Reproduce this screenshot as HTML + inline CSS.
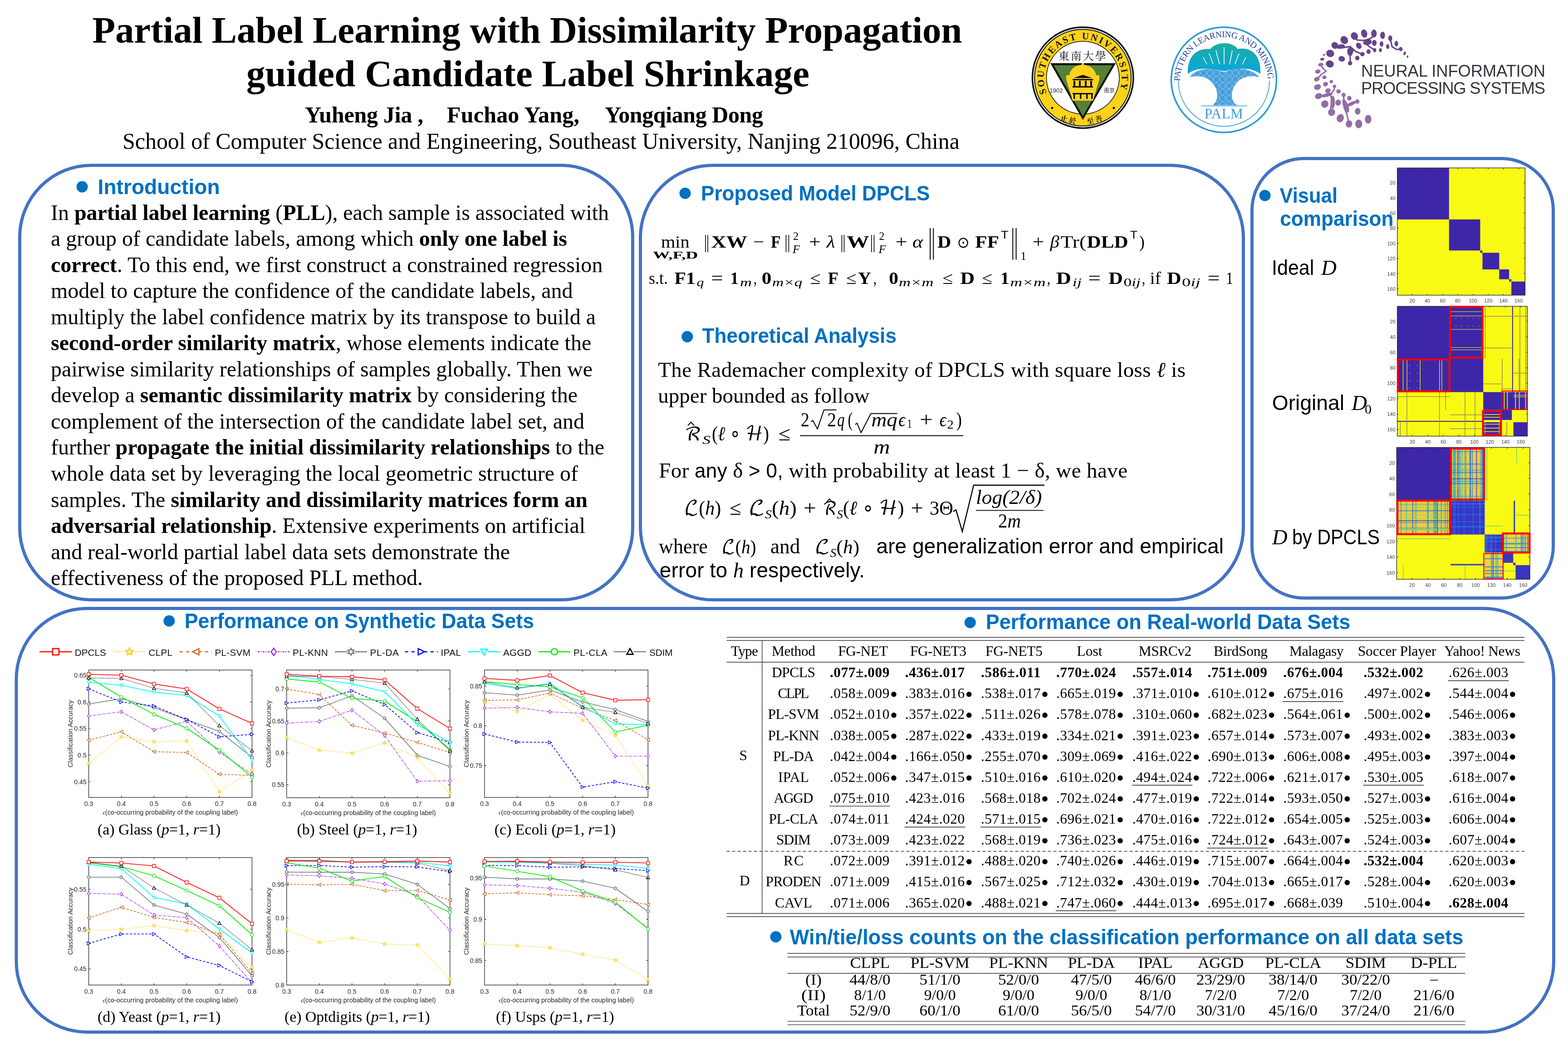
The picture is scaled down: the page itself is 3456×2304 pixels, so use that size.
<!DOCTYPE html>
<html><head><meta charset="utf-8"><title>Partial Label Learning with Dissimilarity Propagation guided Candidate Label Shrinkage</title>
<style>html,body{margin:0;padding:0;background:#fff;}body{width:3456px;height:2304px;overflow:hidden;}svg{display:block;}</style>
</head><body>
<svg width="3456" height="2304" viewBox="0 0 3456 2304">
<rect width="3456" height="2304" fill="#fff"/>
<text x="203.5" y="94.3" font-family="'Liberation Serif','Times New Roman',serif" font-size="83" font-weight="bold" textLength="1917.0" lengthAdjust="spacing">Partial Label Learning with Dissimilarity Propagation</text>
<text x="543.0" y="190.0" font-family="'Liberation Serif','Times New Roman',serif" font-size="83" font-weight="bold" textLength="1241.0" lengthAdjust="spacing">guided Candidate Label Shrinkage</text>
<text x="672.0" y="270.0" font-family="'Liberation Serif','Times New Roman',serif" font-size="50" font-weight="bold" textLength="261.0" lengthAdjust="spacing">Yuheng Jia ,</text>
<text x="985.0" y="270.0" font-family="'Liberation Serif','Times New Roman',serif" font-size="50" font-weight="bold" textLength="292.0" lengthAdjust="spacing">Fuchao Yang,</text>
<text x="1333.0" y="270.0" font-family="'Liberation Serif','Times New Roman',serif" font-size="50" font-weight="bold" textLength="349.0" lengthAdjust="spacing">Yongqiang Dong</text>
<text x="270.0" y="328.2" font-family="'Liberation Serif','Times New Roman',serif" font-size="50" textLength="1845.0" lengthAdjust="spacing">School of Computer Science and Engineering, Southeast University, Nanjing 210096, China</text>
<g>
<circle cx="2386.7" cy="171.2" r="113" fill="#111"/>
<circle cx="2386.7" cy="171.2" r="109.5" fill="#fff"/>
<circle cx="2386.7" cy="171.2" r="107.5" fill="#111"/>
<circle cx="2386.7" cy="171.2" r="105.5" fill="#FDD21B"/>
<circle cx="2386.7" cy="171.2" r="81" fill="#111"/>
<circle cx="2386.7" cy="171.2" r="79.5" fill="#fff"/>
<path id="seuarc" d="M 2307.2 205.2 A 86 86 0 1 1 2466.2 205.2" fill="none"/>
<text font-family="'Liberation Serif','Times New Roman',serif" font-weight="bold" font-size="21" fill="#111"><textPath href="#seuarc" startOffset="0" textLength="328" lengthAdjust="spacing">SOUTHEAST UNIVERSITY</textPath></text>
<path d="M 2315 139.3 L 2459.3 139.3 L 2386.7 264.4 Z" fill="#111"/>
<path d="M 2322.5 143.8 L 2451.8 143.8 L 2386.7 256 Z" fill="#548235"/>
<path d="M 2350 175 L 2350 166 L 2357 166 C 2360 150 2372 144 2384 143 L 2384 139 L 2389 139 L 2389 143 C 2401 144 2413 150 2416 166 L 2423 166 L 2423 175 L 2409 222 L 2364 222 Z" fill="#FDD21B"/>
<path d="M 2366 172 L 2386.7 165 L 2407 172 Z" fill="#111"/>
<rect x="2364" y="174" width="45" height="3" fill="#111"/>
<rect x="2364" y="190" width="45" height="3" fill="#111"/>
<rect x="2364" y="205" width="45" height="3" fill="#111"/>
<rect x="2366" y="178" width="4" height="12" fill="#111"/>
<rect x="2378" y="178" width="4" height="12" fill="#111"/>
<rect x="2391" y="178" width="4" height="12" fill="#111"/>
<rect x="2403" y="178" width="4" height="12" fill="#111"/>
<rect x="2366" y="208" width="3.5" height="10" fill="#111"/>
<rect x="2380" y="208" width="3.5" height="10" fill="#111"/>
<rect x="2394" y="208" width="3.5" height="10" fill="#111"/>
<rect x="2405" y="208" width="3.5" height="10" fill="#111"/>
<text x="2386.7" y="132" font-family="'Noto Serif CJK SC','Noto Sans CJK SC',serif" font-size="24" fill="#111" text-anchor="middle" letter-spacing="3">東南大學</text>
<text x="2328" y="204" font-family="'Liberation Sans',Arial,sans-serif" font-size="13" fill="#222" text-anchor="middle">1902</text>
<text x="2445" y="204" font-family="'Noto Sans CJK SC',sans-serif" font-size="12" fill="#222" text-anchor="middle">南京</text>
<circle cx="2319" cy="238" r="2.5" fill="#111"/><circle cx="2455" cy="238" r="2.5" fill="#111"/>
<text x="2356" y="270" font-family="'Noto Serif CJK SC',serif" font-size="16" font-weight="bold" fill="#111" text-anchor="middle" letter-spacing="3" transform="rotate(14 2356 265)">止於</text>
<text x="2414" y="270" font-family="'Noto Serif CJK SC',serif" font-size="16" font-weight="bold" fill="#111" text-anchor="middle" letter-spacing="3" transform="rotate(-14 2414 265)">至善</text>
</g>
<defs><linearGradient id="palmg" x1="0" y1="0" x2="0" y2="1"><stop offset="0" stop-color="#1BAEA3"/><stop offset="1" stop-color="#0AA5DD"/></linearGradient><pattern id="bub" width="14" height="14" patternUnits="userSpaceOnUse"><rect width="14" height="14" fill="#459FDB"/><circle cx="7" cy="7" r="6.3" fill="none" stroke="#A9CFEE" stroke-width="0.9"/></pattern></defs>
<circle cx="2697.5" cy="176" r="116" fill="none" stroke="#2E9AD9" stroke-width="3.6"/>
<path d="M 2597.0 178 A 100.5 100.5 0 0 0 2798.0 178" fill="none" stroke="#2E9AD9" stroke-width="1.6"/>
<path id="palmarc" d="M 2600.5 179 A 97 97 0 0 1 2794.5 179" fill="none"/>
<text font-family="'Liberation Serif','Times New Roman',serif" font-size="19.5" fill="#1F4393"><textPath href="#palmarc" startOffset="0" textLength="300" lengthAdjust="spacing">PATTERN LEARNING AND MINING</textPath></text>
<path d="M 2618 163 C 2616 120 2642 105 2668 108 C 2680 92 2715 90 2728 108 C 2755 103 2780 118 2778 163 C 2760 150 2740 148 2698 157 C 2655 148 2635 150 2618 163 Z" fill="url(#palmg)"/>
<line x1="2652" y1="126" x2="2660" y2="142" stroke="#fff" stroke-width="1.6"/>
<line x1="2665" y1="118" x2="2674" y2="141" stroke="#fff" stroke-width="1.6"/>
<line x1="2680" y1="111" x2="2688" y2="142" stroke="#fff" stroke-width="1.6"/>
<line x1="2698" y1="104" x2="2698" y2="142" stroke="#fff" stroke-width="1.6"/>
<line x1="2716" y1="111" x2="2710" y2="142" stroke="#fff" stroke-width="1.6"/>
<line x1="2731" y1="118" x2="2722" y2="141" stroke="#fff" stroke-width="1.6"/>
<line x1="2746" y1="126" x2="2738" y2="142" stroke="#fff" stroke-width="1.6"/>
<path d="M 2621 170 C 2640 150 2665 147 2698 159 C 2731 147 2756 150 2776 170 C 2750 165 2730 170 2718 195 C 2712 212 2716 226 2727 232 L 2672 232 C 2682 226 2686 212 2680 195 C 2668 170 2648 165 2621 170 Z" fill="url(#bub)"/>
<line x1="2647" y1="233.5" x2="2749" y2="233.5" stroke="#3A98D8" stroke-width="1.6"/>
<text x="2697.5" y="261" font-family="'Liberation Serif','Times New Roman',serif" font-size="31" fill="#3B98D9" text-anchor="middle" letter-spacing="0.5">PALM</text>
<ellipse cx="3006.8" cy="73.9" rx="6.7" ry="9.2" transform="rotate(-15 3006.8 73.9)" fill="#66448A"/>
<ellipse cx="3028.3" cy="73.9" rx="6.1" ry="8.8" transform="rotate(0 3028.3 73.9)" fill="#66448A"/>
<ellipse cx="3047.4" cy="77.9" rx="5.3" ry="8.0" transform="rotate(0 3047.4 77.9)" fill="#66448A"/>
<ellipse cx="3064.2" cy="84.3" rx="4.5" ry="6.4" transform="rotate(0 3064.2 84.3)" fill="#66448A"/>
<ellipse cx="3077.7" cy="96.2" rx="4.0" ry="6.1" transform="rotate(0 3077.7 96.2)" fill="#66448A"/>
<ellipse cx="3058.6" cy="102.6" rx="3.5" ry="5.3" transform="rotate(0 3058.6 102.6)" fill="#66448A"/>
<ellipse cx="3045.0" cy="97.0" rx="4.1" ry="5.9" transform="rotate(0 3045.0 97.0)" fill="#66448A"/>
<ellipse cx="3029.1" cy="94.6" rx="5.1" ry="6.7" transform="rotate(0 3029.1 94.6)" fill="#66448A"/>
<ellipse cx="2994.8" cy="101.0" rx="5.7" ry="7.2" transform="rotate(-30 2994.8 101.0)" fill="#66448A"/>
<ellipse cx="2962.9" cy="88.3" rx="8.0" ry="9.2" transform="rotate(-35 2962.9 88.3)" fill="#66448A"/>
<ellipse cx="2985.2" cy="79.5" rx="7.7" ry="8.8" transform="rotate(-30 2985.2 79.5)" fill="#66448A"/>
<ellipse cx="2942.2" cy="100.2" rx="7.2" ry="8.0" transform="rotate(-50 2942.2 100.2)" fill="#66448A"/>
<ellipse cx="2931.8" cy="117.8" rx="8.8" ry="8.0" transform="rotate(20 2931.8 117.8)" fill="#66448A"/>
<ellipse cx="2957.3" cy="129.7" rx="7.2" ry="6.1" transform="rotate(10 2957.3 129.7)" fill="#66448A"/>
<ellipse cx="2931.0" cy="140.9" rx="8.8" ry="7.7" transform="rotate(20 2931.0 140.9)" fill="#66448A"/>
<ellipse cx="2991.6" cy="128.1" rx="4.8" ry="5.1" transform="rotate(0 2991.6 128.1)" fill="#66448A"/>
<ellipse cx="3016.3" cy="113.8" rx="4.5" ry="5.1" transform="rotate(0 3016.3 113.8)" fill="#66448A"/>
<ellipse cx="3029.9" cy="110.6" rx="3.5" ry="4.5" transform="rotate(0 3029.9 110.6)" fill="#66448A"/>
<ellipse cx="3042.6" cy="110.6" rx="3.2" ry="4.3" transform="rotate(0 3042.6 110.6)" fill="#66448A"/>
<ellipse cx="3087.3" cy="108.2" rx="4.0" ry="4.8" transform="rotate(0 3087.3 108.2)" fill="#66448A"/>
<ellipse cx="3096.0" cy="117.8" rx="2.4" ry="4.3" transform="rotate(20 3096.0 117.8)" fill="#66448A"/>
<ellipse cx="3102.4" cy="124.9" rx="1.6" ry="2.9" transform="rotate(20 3102.4 124.9)" fill="#66448A"/>
<ellipse cx="3002.8" cy="119.4" rx="4.8" ry="4.8" transform="rotate(0 3002.8 119.4)" fill="#66448A"/>
<ellipse cx="2975.7" cy="139.3" rx="4.8" ry="4.8" transform="rotate(0 2975.7 139.3)" fill="#66448A"/>
<ellipse cx="2918.3" cy="121.0" rx="2.9" ry="1.6" transform="rotate(-10 2918.3 121.0)" fill="#66448A"/>
<ellipse cx="2914.3" cy="130.5" rx="4.5" ry="2.9" transform="rotate(-10 2914.3 130.5)" fill="#66448A"/>
<ellipse cx="3013.9" cy="93.0" rx="9.6" ry="6.4" transform="rotate(-10 3013.9 93.0)" fill="#66448A"/>
<ellipse cx="2975.7" cy="113.8" rx="6.4" ry="9.6" transform="rotate(0 2975.7 113.8)" fill="#66448A"/>
<ellipse cx="2954.9" cy="102.6" rx="9.6" ry="4.8" transform="rotate(-10 2954.9 102.6)" fill="#66448A"/>
<ellipse cx="2911.1" cy="142.5" rx="5.6" ry="4.0" transform="rotate(-10 2911.1 142.5)" fill="#936DA8"/>
<ellipse cx="2904.7" cy="157.6" rx="6.1" ry="4.5" transform="rotate(-15 2904.7 157.6)" fill="#936DA8"/>
<ellipse cx="2919.1" cy="170.4" rx="4.8" ry="4.0" transform="rotate(-15 2919.1 170.4)" fill="#936DA8"/>
<ellipse cx="2902.3" cy="174.4" rx="6.4" ry="4.8" transform="rotate(-20 2902.3 174.4)" fill="#936DA8"/>
<ellipse cx="2934.2" cy="179.9" rx="4.0" ry="3.5" transform="rotate(-20 2934.2 179.9)" fill="#936DA8"/>
<ellipse cx="2921.5" cy="185.5" rx="5.6" ry="4.8" transform="rotate(-20 2921.5 185.5)" fill="#936DA8"/>
<ellipse cx="2903.9" cy="191.9" rx="7.7" ry="6.1" transform="rotate(-20 2903.9 191.9)" fill="#936DA8"/>
<ellipse cx="2941.4" cy="190.3" rx="4.0" ry="3.5" transform="rotate(0 2941.4 190.3)" fill="#936DA8"/>
<ellipse cx="2927.0" cy="199.9" rx="6.1" ry="5.1" transform="rotate(-25 2927.0 199.9)" fill="#936DA8"/>
<ellipse cx="2950.2" cy="201.5" rx="4.8" ry="4.8" transform="rotate(0 2950.2 201.5)" fill="#936DA8"/>
<ellipse cx="2906.3" cy="211.8" rx="8.0" ry="6.4" transform="rotate(-20 2906.3 211.8)" fill="#936DA8"/>
<ellipse cx="2919.9" cy="229.4" rx="8.0" ry="8.3" transform="rotate(30 2919.9 229.4)" fill="#936DA8"/>
<ellipse cx="2949.4" cy="226.2" rx="6.1" ry="6.7" transform="rotate(20 2949.4 226.2)" fill="#936DA8"/>
<ellipse cx="2974.1" cy="216.6" rx="4.8" ry="5.3" transform="rotate(0 2974.1 216.6)" fill="#936DA8"/>
<ellipse cx="2961.3" cy="209.4" rx="4.5" ry="4.8" transform="rotate(0 2961.3 209.4)" fill="#936DA8"/>
<ellipse cx="2935.0" cy="247.7" rx="7.7" ry="8.0" transform="rotate(30 2935.0 247.7)" fill="#936DA8"/>
<ellipse cx="2991.6" cy="223.8" rx="4.5" ry="4.8" transform="rotate(0 2991.6 223.8)" fill="#936DA8"/>
<ellipse cx="2992.4" cy="245.3" rx="6.1" ry="7.5" transform="rotate(0 2992.4 245.3)" fill="#936DA8"/>
<ellipse cx="2954.1" cy="260.5" rx="7.7" ry="9.2" transform="rotate(20 2954.1 260.5)" fill="#936DA8"/>
<ellipse cx="2973.3" cy="273.2" rx="7.2" ry="8.0" transform="rotate(10 2973.3 273.2)" fill="#936DA8"/>
<ellipse cx="2994.8" cy="273.2" rx="7.7" ry="9.6" transform="rotate(0 2994.8 273.2)" fill="#936DA8"/>
<ellipse cx="3015.5" cy="262.9" rx="7.2" ry="9.6" transform="rotate(0 3015.5 262.9)" fill="#936DA8"/>
<ellipse cx="2937.4" cy="225.4" rx="4.8" ry="14.3" transform="rotate(0 2937.4 225.4)" fill="#936DA8"/>
<ellipse cx="2966.1" cy="233.4" rx="5.6" ry="15.9" transform="rotate(-20 2966.1 233.4)" fill="#936DA8"/>
<ellipse cx="2924.6" cy="209.4" rx="12.8" ry="4.0" transform="rotate(-15 2924.6 209.4)" fill="#936DA8"/>
<ellipse cx="2978.9" cy="228.6" rx="11.2" ry="4.0" transform="rotate(-25 2978.9 228.6)" fill="#936DA8"/>
<path d="M2985.2 81.9 L2991.6 88.3 L3007.6 89.1 L3020.3 85.1 L3029.9 77.1" fill="none" stroke="#66448A" stroke-width="3.2" stroke-linecap="round" stroke-linejoin="round"/>
<path d="M3007.6 89.1 L3015.5 101.0 L3029.9 110.6" fill="none" stroke="#66448A" stroke-width="3.2" stroke-linecap="round" stroke-linejoin="round"/>
<path d="M2942.2 100.2 L2954.9 105.8 L2975.7 102.6 L2982.0 112.2 L2975.7 124.9 L2976.5 139.3" fill="none" stroke="#66448A" stroke-width="3.2" stroke-linecap="round" stroke-linejoin="round"/>
<path d="M2975.7 102.6 L2988.4 113.8 L3002.8 119.4" fill="none" stroke="#66448A" stroke-width="3.2" stroke-linecap="round" stroke-linejoin="round"/>
<path d="M3064.2 84.3 L3068.1 102.6 L3077.7 109.0 L3087.3 108.2" fill="none" stroke="#66448A" stroke-width="3.2" stroke-linecap="round" stroke-linejoin="round"/>
<path d="M2911.1 142.5 L2916.7 152.0 L2923.0 156.8 L2911.9 164.8 L2902.3 174.4" fill="none" stroke="#936DA8" stroke-width="3.2" stroke-linecap="round" stroke-linejoin="round"/>
<path d="M2906.3 211.8 L2919.9 209.4 L2932.6 207.8 L2940.6 198.3 L2941.4 190.3" fill="none" stroke="#936DA8" stroke-width="3.2" stroke-linecap="round" stroke-linejoin="round"/>
<path d="M2932.6 207.8 L2935.8 225.4 L2932.6 238.1 L2935.0 247.7" fill="none" stroke="#936DA8" stroke-width="3.2" stroke-linecap="round" stroke-linejoin="round"/>
<path d="M2961.3 209.4 L2962.9 238.1 L2969.3 254.1 L2973.3 273.2" fill="none" stroke="#936DA8" stroke-width="3.2" stroke-linecap="round" stroke-linejoin="round"/>
<path d="M2991.6 223.8 L2978.9 228.6 L2966.1 233.4" fill="none" stroke="#936DA8" stroke-width="3.2" stroke-linecap="round" stroke-linejoin="round"/>
<text x="3000.0" y="168.8" font-family="'Liberation Sans',Arial,sans-serif" font-size="36.5" fill="#33363B" textLength="406.0" lengthAdjust="spacing">NEURAL INFORMATION</text>
<text x="3000.0" y="206.5" font-family="'Liberation Sans',Arial,sans-serif" font-size="36.5" fill="#33363B" textLength="406.0" lengthAdjust="spacing">PROCESSING SYSTEMS</text>
<rect x="43.5" y="364.5" width="1351" height="958" rx="158" ry="158" fill="none" stroke="#4472C4" stroke-width="7"/>
<rect x="1411.5" y="364.5" width="1329" height="958" rx="160" ry="160" fill="none" stroke="#4472C4" stroke-width="7"/>
<rect x="2759.5" y="349.5" width="664" height="969" rx="114" ry="114" fill="none" stroke="#4472C4" stroke-width="7"/>
<rect x="36.0" y="1341.5" width="3388.5" height="934" rx="155" ry="155" fill="none" stroke="#4472C4" stroke-width="7"/>
<circle cx="181" cy="411.8" r="12.5" fill="#0070C0"/>
<text x="215.6" y="428.0" font-family="'Liberation Sans',Arial,sans-serif" font-size="46" font-weight="bold" fill="#0070C0" textLength="269.0" lengthAdjust="spacingAndGlyphs">Introduction</text>
<text x="112.0" y="484.5" font-family="'Liberation Serif','Times New Roman',serif" font-size="48" textLength="1230.0" lengthAdjust="spacing">In <tspan font-weight="bold">partial label learning</tspan> (<tspan font-weight="bold">PLL</tspan>), each sample is associated with</text>
<text x="112.0" y="542.0" font-family="'Liberation Serif','Times New Roman',serif" font-size="48" textLength="1138.0" lengthAdjust="spacing">a group of candidate labels, among which <tspan font-weight="bold">only one label is</tspan></text>
<text x="112.0" y="599.6" font-family="'Liberation Serif','Times New Roman',serif" font-size="48" textLength="1216.4" lengthAdjust="spacing"><tspan font-weight="bold">correct</tspan>. To this end, we first construct a constrained regression</text>
<text x="112.0" y="657.1" font-family="'Liberation Serif','Times New Roman',serif" font-size="48" textLength="1150.5" lengthAdjust="spacing">model to capture the confidence of the candidate labels, and</text>
<text x="112.0" y="714.7" font-family="'Liberation Serif','Times New Roman',serif" font-size="48" textLength="1201.0" lengthAdjust="spacing">multiply the label confidence matrix by its transpose to build a</text>
<text x="112.0" y="772.2" font-family="'Liberation Serif','Times New Roman',serif" font-size="48" textLength="1191.2" lengthAdjust="spacing"><tspan font-weight="bold">second-order similarity matrix</tspan>, whose elements indicate the</text>
<text x="112.0" y="829.8" font-family="'Liberation Serif','Times New Roman',serif" font-size="48" textLength="1194.0" lengthAdjust="spacing">pairwise similarity relationships of samples globally. Then we</text>
<text x="112.0" y="887.3" font-family="'Liberation Serif','Times New Roman',serif" font-size="48" textLength="1161.0" lengthAdjust="spacing">develop a <tspan font-weight="bold">semantic dissimilarity matrix</tspan> by considering the</text>
<text x="112.0" y="944.9" font-family="'Liberation Serif','Times New Roman',serif" font-size="48" textLength="1176.0" lengthAdjust="spacing">complement of the intersection of the candidate label set, and</text>
<text x="112.0" y="1002.4" font-family="'Liberation Serif','Times New Roman',serif" font-size="48" textLength="1220.0" lengthAdjust="spacing">further <tspan font-weight="bold">propagate the initial dissimilarity relationships</tspan> to the</text>
<text x="112.0" y="1060.0" font-family="'Liberation Serif','Times New Roman',serif" font-size="48" textLength="1162.0" lengthAdjust="spacing">whole data set by leveraging the local geometric structure of</text>
<text x="112.0" y="1117.5" font-family="'Liberation Serif','Times New Roman',serif" font-size="48" textLength="1183.0" lengthAdjust="spacing">samples. The <tspan font-weight="bold">similarity and dissimilarity matrices form an</tspan></text>
<text x="112.0" y="1175.1" font-family="'Liberation Serif','Times New Roman',serif" font-size="48" textLength="1178.0" lengthAdjust="spacing"><tspan font-weight="bold">adversarial relationship</tspan>. Extensive experiments on artificial</text>
<text x="112.0" y="1232.7" font-family="'Liberation Serif','Times New Roman',serif" font-size="48" textLength="1012.0" lengthAdjust="spacing">and real-world partial label data sets demonstrate the</text>
<text x="112.0" y="1290.2" font-family="'Liberation Serif','Times New Roman',serif" font-size="48" textLength="820.0" lengthAdjust="spacing">effectiveness of the proposed PLL method.</text>
<circle cx="1510" cy="426.2" r="12.5" fill="#0070C0"/>
<text x="1545.0" y="442.3" font-family="'Liberation Sans',Arial,sans-serif" font-size="46" font-weight="bold" fill="#0070C0" textLength="504.4" lengthAdjust="spacingAndGlyphs">Proposed Model DPCLS</text>
<text x="1457.0" y="545.5" font-family="'Liberation Serif','Times New Roman',serif" font-size="38" textLength="62.7" lengthAdjust="spacingAndGlyphs">min</text>
<text x="1438.8" y="569.5" font-family="'Liberation Serif','Times New Roman',serif" font-size="23" font-weight="bold" textLength="99.7" lengthAdjust="spacingAndGlyphs">W,F,D</text>
<path d="M1555 518 V556 M1560 518 V556" stroke="#000" stroke-width="1.6"/>
<text x="1567.4" y="545.5" font-family="'Liberation Serif','Times New Roman',serif" font-size="38" font-weight="bold" textLength="79.6" lengthAdjust="spacingAndGlyphs">XW</text>
<text x="1660.0" y="545.5" font-family="'Liberation Serif','Times New Roman',serif" font-size="38" textLength="24.5" lengthAdjust="spacingAndGlyphs">−</text>
<text x="1699.0" y="545.5" font-family="'Liberation Serif','Times New Roman',serif" font-size="38" font-weight="bold" textLength="21.7" lengthAdjust="spacingAndGlyphs">F</text>
<path d="M1732.5 518 V556 M1738.5 518 V556" stroke="#000" stroke-width="1.6"/>
<text x="1748.0" y="529.0" font-family="'Liberation Serif','Times New Roman',serif" font-size="25" textLength="12.0" lengthAdjust="spacingAndGlyphs">2</text>
<text x="1747.0" y="558.0" font-family="'Liberation Serif','Times New Roman',serif" font-size="25" font-style="italic" textLength="16.0" lengthAdjust="spacingAndGlyphs">F</text>
<text x="1783.0" y="545.5" font-family="'Liberation Serif','Times New Roman',serif" font-size="38" textLength="25.8" lengthAdjust="spacingAndGlyphs">+</text>
<text x="1821.8" y="545.5" font-family="'Liberation Serif','Times New Roman',serif" font-size="38" font-style="italic" textLength="18.8" lengthAdjust="spacingAndGlyphs">λ</text>
<path d="M1855.5 518 V556 M1860.5 518 V556" stroke="#000" stroke-width="1.6"/>
<text x="1866.0" y="545.5" font-family="'Liberation Serif','Times New Roman',serif" font-size="38" font-weight="bold" textLength="50.0" lengthAdjust="spacingAndGlyphs">W</text>
<path d="M1921 518 V556 M1926.5 518 V556" stroke="#000" stroke-width="1.6"/>
<text x="1937.5" y="529.0" font-family="'Liberation Serif','Times New Roman',serif" font-size="25" textLength="12.0" lengthAdjust="spacingAndGlyphs">2</text>
<text x="1936.5" y="558.0" font-family="'Liberation Serif','Times New Roman',serif" font-size="25" font-style="italic" textLength="16.0" lengthAdjust="spacingAndGlyphs">F</text>
<text x="1973.6" y="545.5" font-family="'Liberation Serif','Times New Roman',serif" font-size="38" textLength="26.0" lengthAdjust="spacingAndGlyphs">+</text>
<text x="2011.0" y="545.5" font-family="'Liberation Serif','Times New Roman',serif" font-size="38" font-style="italic" textLength="23.3" lengthAdjust="spacingAndGlyphs">α</text>
<path d="M2050.2 503 V572.4 M2057.3 503 V572.4 M2232.3 503 V572.4 M2239.6 503 V572.4" stroke="#000" stroke-width="2"/>
<text x="2066.0" y="545.5" font-family="'Liberation Serif','Times New Roman',serif" font-size="38" font-weight="bold" textLength="30.4" lengthAdjust="spacingAndGlyphs">D</text>
<text x="2109.4" y="545.5" font-family="'DejaVu Sans',sans-serif" font-size="34" textLength="27.4" lengthAdjust="spacingAndGlyphs">⊙</text>
<text x="2149.3" y="545.5" font-family="'Liberation Serif','Times New Roman',serif" font-size="38" font-weight="bold" textLength="52.7" lengthAdjust="spacingAndGlyphs">FF</text>
<text x="2206.0" y="526.0" font-family="'Liberation Sans',Arial,sans-serif" font-size="24" textLength="16.7" lengthAdjust="spacingAndGlyphs">T</text>
<text x="2249.6" y="573.3" font-family="'Liberation Serif','Times New Roman',serif" font-size="25" textLength="12.4" lengthAdjust="spacingAndGlyphs">1</text>
<text x="2275.6" y="545.5" font-family="'Liberation Serif','Times New Roman',serif" font-size="38" textLength="26.0" lengthAdjust="spacingAndGlyphs">+</text>
<text x="2314.6" y="545.5" font-family="'Liberation Serif','Times New Roman',serif" font-size="38" font-style="italic" textLength="20.4" lengthAdjust="spacingAndGlyphs">β</text>
<text x="2337.8" y="545.5" font-family="'Liberation Serif','Times New Roman',serif" font-size="38" textLength="56.2" lengthAdjust="spacingAndGlyphs">Tr(</text>
<text x="2395.6" y="545.5" font-family="'Liberation Serif','Times New Roman',serif" font-size="38" font-weight="bold" textLength="91.1" lengthAdjust="spacingAndGlyphs">DLD</text>
<text x="2491.0" y="526.0" font-family="'Liberation Sans',Arial,sans-serif" font-size="24" textLength="16.0" lengthAdjust="spacingAndGlyphs">T</text>
<text x="2511.0" y="545.5" font-family="'Liberation Serif','Times New Roman',serif" font-size="38" textLength="11.8" lengthAdjust="spacingAndGlyphs">)</text>
<text x="1430.0" y="625.9" font-family="'Liberation Serif','Times New Roman',serif" font-size="38" textLength="42.0" lengthAdjust="spacingAndGlyphs">s.t.</text>
<text x="1486.5" y="625.9" font-family="'Liberation Serif','Times New Roman',serif" font-size="38" font-weight="bold" textLength="46.2" lengthAdjust="spacingAndGlyphs">F1</text>
<text x="1535.6" y="630.9" font-family="'Liberation Serif','Times New Roman',serif" font-size="25" font-style="italic" textLength="15.9" lengthAdjust="spacingAndGlyphs">q</text>
<text x="1567.4" y="625.9" font-family="'Liberation Serif','Times New Roman',serif" font-size="38" textLength="26.1" lengthAdjust="spacingAndGlyphs">=</text>
<text x="1609.4" y="625.9" font-family="'Liberation Serif','Times New Roman',serif" font-size="38" font-weight="bold" textLength="18.6" lengthAdjust="spacingAndGlyphs">1</text>
<text x="1631.0" y="630.9" font-family="'Liberation Serif','Times New Roman',serif" font-size="25" font-style="italic" textLength="26.0" lengthAdjust="spacingAndGlyphs">m</text>
<text x="1661.0" y="625.9" font-family="'Liberation Serif','Times New Roman',serif" font-size="38" textLength="7.0" lengthAdjust="spacingAndGlyphs">,</text>
<text x="1678.7" y="625.9" font-family="'Liberation Serif','Times New Roman',serif" font-size="38" font-weight="bold" textLength="21.7" lengthAdjust="spacingAndGlyphs">0</text>
<text x="1701.9" y="630.9" font-family="'Liberation Serif','Times New Roman',serif" font-size="25" font-style="italic" textLength="66.5" lengthAdjust="spacingAndGlyphs">m×q</text>
<text x="1785.7" y="625.9" font-family="'Liberation Serif','Times New Roman',serif" font-size="38" textLength="23.1" lengthAdjust="spacingAndGlyphs">≤</text>
<text x="1824.7" y="625.9" font-family="'Liberation Serif','Times New Roman',serif" font-size="38" font-weight="bold" textLength="23.2" lengthAdjust="spacingAndGlyphs">F</text>
<text x="1865.2" y="625.9" font-family="'Liberation Serif','Times New Roman',serif" font-size="38" textLength="22.8" lengthAdjust="spacingAndGlyphs">≤</text>
<text x="1891.0" y="625.9" font-family="'Liberation Serif','Times New Roman',serif" font-size="38" font-weight="bold" textLength="29.0" lengthAdjust="spacingAndGlyphs">Y</text>
<text x="1925.0" y="625.9" font-family="'Liberation Serif','Times New Roman',serif" font-size="38" textLength="7.0" lengthAdjust="spacingAndGlyphs">,</text>
<text x="1959.2" y="625.9" font-family="'Liberation Serif','Times New Roman',serif" font-size="38" font-weight="bold" textLength="20.8" lengthAdjust="spacingAndGlyphs">0</text>
<text x="1980.9" y="630.9" font-family="'Liberation Serif','Times New Roman',serif" font-size="25" font-style="italic" textLength="76.6" lengthAdjust="spacingAndGlyphs">m×m</text>
<text x="2077.6" y="625.9" font-family="'Liberation Serif','Times New Roman',serif" font-size="38" textLength="23.1" lengthAdjust="spacingAndGlyphs">≤</text>
<text x="2116.6" y="625.9" font-family="'Liberation Serif','Times New Roman',serif" font-size="38" font-weight="bold" textLength="31.8" lengthAdjust="spacingAndGlyphs">D</text>
<text x="2164.3" y="625.9" font-family="'Liberation Serif','Times New Roman',serif" font-size="38" textLength="23.1" lengthAdjust="spacingAndGlyphs">≤</text>
<text x="2204.8" y="625.9" font-family="'Liberation Serif','Times New Roman',serif" font-size="38" font-weight="bold" textLength="20.2" lengthAdjust="spacingAndGlyphs">1</text>
<text x="2226.5" y="630.9" font-family="'Liberation Serif','Times New Roman',serif" font-size="25" font-style="italic" textLength="78.0" lengthAdjust="spacingAndGlyphs">m×m</text>
<text x="2308.0" y="625.9" font-family="'Liberation Serif','Times New Roman',serif" font-size="38" textLength="7.0" lengthAdjust="spacingAndGlyphs">,</text>
<text x="2327.7" y="625.9" font-family="'Liberation Serif','Times New Roman',serif" font-size="38" font-weight="bold" textLength="33.3" lengthAdjust="spacingAndGlyphs">D</text>
<text x="2363.8" y="630.9" font-family="'Liberation Serif','Times New Roman',serif" font-size="25" font-style="italic" textLength="20.2" lengthAdjust="spacingAndGlyphs">ij</text>
<text x="2398.5" y="625.9" font-family="'Liberation Serif','Times New Roman',serif" font-size="38" textLength="27.5" lengthAdjust="spacingAndGlyphs">=</text>
<text x="2443.3" y="625.9" font-family="'Liberation Serif','Times New Roman',serif" font-size="38" font-weight="bold" textLength="31.7" lengthAdjust="spacingAndGlyphs">D</text>
<text x="2476.5" y="630.9" font-family="'Liberation Serif','Times New Roman',serif" font-size="25" textLength="37.5" lengthAdjust="spacingAndGlyphs">0<tspan font-style="italic">ij</tspan></text>
<text x="2517.0" y="625.9" font-family="'Liberation Serif','Times New Roman',serif" font-size="38" textLength="7.0" lengthAdjust="spacingAndGlyphs">,</text>
<text x="2534.4" y="625.9" font-family="'Liberation Serif','Times New Roman',serif" font-size="38" textLength="24.6" lengthAdjust="spacingAndGlyphs">if</text>
<text x="2572.0" y="625.9" font-family="'Liberation Serif','Times New Roman',serif" font-size="38" font-weight="bold" textLength="31.7" lengthAdjust="spacingAndGlyphs">D</text>
<text x="2605.0" y="630.9" font-family="'Liberation Serif','Times New Roman',serif" font-size="25" textLength="40.7" lengthAdjust="spacingAndGlyphs">0<tspan font-style="italic">ij</tspan></text>
<text x="2661.6" y="625.9" font-family="'Liberation Serif','Times New Roman',serif" font-size="38" textLength="27.4" lengthAdjust="spacingAndGlyphs">=</text>
<text x="2702.0" y="625.9" font-family="'Liberation Serif','Times New Roman',serif" font-size="38" textLength="16.0" lengthAdjust="spacingAndGlyphs">1</text>
<circle cx="1514.8" cy="742.3" r="12.5" fill="#0070C0"/>
<text x="1547.6" y="756.3" font-family="'Liberation Sans',Arial,sans-serif" font-size="46" font-weight="bold" fill="#0070C0" textLength="428.4" lengthAdjust="spacingAndGlyphs">Theoretical Analysis</text>
<text x="1450.2" y="830.7" font-family="'Liberation Serif','Times New Roman',serif" font-size="47" textLength="1162.8" lengthAdjust="spacing">The Rademacher complexity of DPCLS with square loss <tspan font-style="italic">ℓ</tspan> is</text>
<text x="1450.2" y="888.2" font-family="'Liberation Serif','Times New Roman',serif" font-size="47" textLength="466.4" lengthAdjust="spacing">upper bounded as follow</text>
<text x="1508.0" y="971.0" font-family="'DejaVu Math TeX Gyre','DejaVu Serif',serif" font-size="40" textLength="38.0" lengthAdjust="spacingAndGlyphs">ℛ</text>
<path d="M1516 938 L1523 931 L1530 938" fill="none" stroke="#000" stroke-width="2"/>
<text x="1548.0" y="979.0" font-family="'Liberation Serif','Times New Roman',serif" font-size="28" font-style="italic" textLength="18.0" lengthAdjust="spacingAndGlyphs">S</text>
<text x="1569.0" y="971.0" font-family="'Liberation Serif','Times New Roman',serif" font-size="44" textLength="126.0" lengthAdjust="spacingAndGlyphs">(<tspan font-style="italic">ℓ</tspan> ∘ <tspan font-family="'DejaVu Math TeX Gyre',serif">ℋ</tspan>)</text>
<text x="1715.7" y="971.0" font-family="'Liberation Serif','Times New Roman',serif" font-size="44" textLength="26.8" lengthAdjust="spacingAndGlyphs">≤</text>
<line x1="1763.3" y1="960.5" x2="2123.4" y2="960.5" stroke="#000" stroke-width="1.8"/>
<text x="1764.9" y="940.2" font-family="'Liberation Serif','Times New Roman',serif" font-size="44" textLength="19.0" lengthAdjust="spacingAndGlyphs">2</text>
<path d="M1787.5 930 L1791.5 927 L1801.7 945.7 L1816.2 903.7 L1843.7 903.7" fill="none" stroke="#000" stroke-width="2"/>
<text x="1823.5" y="940.2" font-family="'Liberation Serif','Times New Roman',serif" font-size="44" textLength="19.4" lengthAdjust="spacingAndGlyphs">2</text>
<text x="1845.3" y="940.2" font-family="'Liberation Serif','Times New Roman',serif" font-size="44" font-style="italic" textLength="16.2" lengthAdjust="spacingAndGlyphs">q</text>
<text x="1868.7" y="940.2" font-family="'Liberation Serif','Times New Roman',serif" font-size="44" textLength="10.5" lengthAdjust="spacingAndGlyphs">(</text>
<path d="M1884.9 936 L1889 933 L1897.8 953.8 L1919.6 911.8 L1977.8 911.8" fill="none" stroke="#000" stroke-width="2"/>
<text x="1920.4" y="940.2" font-family="'Liberation Serif','Times New Roman',serif" font-size="44" font-style="italic" textLength="57.4" lengthAdjust="spacingAndGlyphs">mq</text>
<text x="1980.2" y="940.2" font-family="'Liberation Serif','Times New Roman',serif" font-size="44" font-style="italic" textLength="15.4" lengthAdjust="spacingAndGlyphs">ϵ</text>
<text x="1999.6" y="943.3" font-family="'Liberation Serif','Times New Roman',serif" font-size="28" textLength="10.4" lengthAdjust="spacingAndGlyphs">1</text>
<text x="2027.0" y="940.2" font-family="'Liberation Serif','Times New Roman',serif" font-size="44" textLength="29.0" lengthAdjust="spacingAndGlyphs">+</text>
<text x="2070.7" y="940.2" font-family="'Liberation Serif','Times New Roman',serif" font-size="44" font-style="italic" textLength="15.3" lengthAdjust="spacingAndGlyphs">ϵ</text>
<text x="2087.6" y="945.0" font-family="'Liberation Serif','Times New Roman',serif" font-size="28" textLength="14.4" lengthAdjust="spacingAndGlyphs">2</text>
<text x="2107.8" y="940.2" font-family="'Liberation Serif','Times New Roman',serif" font-size="44" textLength="12.2" lengthAdjust="spacingAndGlyphs">)</text>
<text x="1925.3" y="999.9" font-family="'Liberation Serif','Times New Roman',serif" font-size="44" font-style="italic" textLength="36.3" lengthAdjust="spacingAndGlyphs">m</text>
<text x="1452.3" y="1053.2" font-family="'Liberation Serif','Times New Roman',serif" font-size="47" textLength="1032.7" lengthAdjust="spacing">For <tspan font-family="'Liberation Sans',Arial,sans-serif" font-size="44">any</tspan> δ <tspan font-family="'Liberation Sans',Arial,sans-serif" font-size="44">&gt; 0,</tspan> with probability at least 1 − δ, we have</text>
<text x="1508.0" y="1135.0" font-family="'Liberation Serif','Times New Roman',serif" font-size="44" textLength="81.2" lengthAdjust="spacingAndGlyphs"><tspan font-family="'DejaVu Math TeX Gyre',serif">ℒ</tspan>(<tspan font-style="italic">h</tspan>)</text>
<text x="1608.0" y="1135.0" font-family="'Liberation Serif','Times New Roman',serif" font-size="44" textLength="25.9" lengthAdjust="spacingAndGlyphs">≤</text>
<text x="1650.0" y="1135.0" font-family="'Liberation Serif','Times New Roman',serif" font-size="44" textLength="106.0" lengthAdjust="spacingAndGlyphs"><tspan font-family="'DejaVu Math TeX Gyre',serif">ℒ</tspan><tspan font-size="28" font-style="italic" dy="8">S</tspan><tspan dy="-8">(</tspan><tspan font-style="italic">h</tspan>)</text>
<text x="1770.8" y="1135.0" font-family="'Liberation Serif','Times New Roman',serif" font-size="44" textLength="28.2" lengthAdjust="spacingAndGlyphs">+</text>
<text x="1812.4" y="1135.0" font-family="'Liberation Serif','Times New Roman',serif" font-size="44" textLength="180.1" lengthAdjust="spacingAndGlyphs"><tspan font-family="'DejaVu Math TeX Gyre',serif" font-size="40">ℛ</tspan><tspan font-size="28" font-style="italic" dy="8">S</tspan><tspan dy="-8">(</tspan><tspan font-style="italic">ℓ</tspan> ∘ <tspan font-family="'DejaVu Math TeX Gyre',serif">ℋ</tspan>)</text>
<path d="M1821 1108 L1828 1100 L1835 1108" fill="none" stroke="#000" stroke-width="2"/>
<text x="2007.4" y="1135.0" font-family="'Liberation Serif','Times New Roman',serif" font-size="44" textLength="27.6" lengthAdjust="spacingAndGlyphs">+</text>
<text x="2049.0" y="1135.0" font-family="'Liberation Serif','Times New Roman',serif" font-size="44" textLength="52.0" lengthAdjust="spacingAndGlyphs">3Θ</text>
<path d="M2101 1128 L2107 1124 L2121 1172 L2146 1069.7 L2302 1069.7" fill="none" stroke="#000" stroke-width="2.4"/>
<text x="2151.0" y="1110.7" font-family="'Liberation Serif','Times New Roman',serif" font-size="44" font-style="italic" textLength="145.5" lengthAdjust="spacingAndGlyphs">log(2/δ)</text>
<line x1="2151" y1="1125.3" x2="2300" y2="1125.3" stroke="#000" stroke-width="1.8"/>
<text x="2200.0" y="1162.5" font-family="'Liberation Serif','Times New Roman',serif" font-size="44" textLength="50.0" lengthAdjust="spacingAndGlyphs">2<tspan font-style="italic">m</tspan></text>
<text x="1452.0" y="1219.8" font-family="'Liberation Serif','Times New Roman',serif" font-size="47" textLength="108.0" lengthAdjust="spacingAndGlyphs">where</text>
<text x="1590.7" y="1219.8" font-family="'Liberation Serif','Times New Roman',serif" font-size="42" textLength="75.9" lengthAdjust="spacingAndGlyphs"><tspan font-family="'DejaVu Math TeX Gyre',serif">ℒ</tspan>(<tspan font-style="italic">h</tspan>)</text>
<text x="1697.9" y="1219.8" font-family="'Liberation Serif','Times New Roman',serif" font-size="47" textLength="65.4" lengthAdjust="spacingAndGlyphs">and</text>
<text x="1796.0" y="1219.8" font-family="'Liberation Serif','Times New Roman',serif" font-size="42" textLength="98.3" lengthAdjust="spacingAndGlyphs"><tspan font-family="'DejaVu Math TeX Gyre',serif">ℒ</tspan><tspan font-size="27" font-style="italic" dy="8">S</tspan><tspan dy="-8">(</tspan><tspan font-style="italic">h</tspan>)</text>
<text x="1931.5" y="1219.8" font-family="'Liberation Sans',Arial,sans-serif" font-size="46" textLength="765.5" lengthAdjust="spacing">are generalization error and empirical</text>
<text x="1453.8" y="1273.4" font-family="'Liberation Sans',Arial,sans-serif" font-size="46" textLength="452.2" lengthAdjust="spacing">error to <tspan font-family="'Liberation Serif','Times New Roman',serif" font-style="italic">h</tspan> respectively.</text>
<circle cx="2788" cy="431" r="12.5" fill="#0070C0"/>
<text x="2820.5" y="447.0" font-family="'Liberation Sans',Arial,sans-serif" font-size="46" font-weight="bold" fill="#0070C0" textLength="127.5" lengthAdjust="spacingAndGlyphs">Visual</text>
<text x="2821.2" y="497.9" font-family="'Liberation Sans',Arial,sans-serif" font-size="46" font-weight="bold" fill="#0070C0" textLength="250.2" lengthAdjust="spacingAndGlyphs">comparison</text>
<text x="2803.0" y="605.8" font-family="'Liberation Sans',Arial,sans-serif" font-size="47" textLength="93.3" lengthAdjust="spacingAndGlyphs">Ideal</text>
<text x="2912.0" y="605.8" font-family="'Liberation Serif','Times New Roman',serif" font-size="47" font-style="italic" textLength="26.0" lengthAdjust="spacing">D</text>
<text x="2803.8" y="904.4" font-family="'Liberation Sans',Arial,sans-serif" font-size="47" textLength="159.2" lengthAdjust="spacingAndGlyphs">Original</text>
<text x="2979.0" y="904.4" font-family="'Liberation Serif','Times New Roman',serif" font-size="47" font-style="italic" textLength="27.0" lengthAdjust="spacing">D</text>
<text x="3008.0" y="912.4" font-family="'Liberation Serif','Times New Roman',serif" font-size="30">0</text>
<text x="2803.8" y="1199.7" font-family="'Liberation Serif','Times New Roman',serif" font-size="47" font-style="italic" textLength="27.0" lengthAdjust="spacing">D</text>
<text x="2848.0" y="1199.7" font-family="'Liberation Sans',Arial,sans-serif" font-size="47" textLength="193.0" lengthAdjust="spacingAndGlyphs">by DPCLS</text>
<g>
<rect x="3079.8" y="370.2" width="281.6" height="280.6" fill="#F9FA14"/>
<rect x="3079.8" y="370.2" width="114.0" height="113.6" fill="#3E26A8"/>
<rect x="3193.8" y="483.8" width="68.7" height="68.5" fill="#3E26A8"/>
<rect x="3262.5" y="552.3" width="5.0" height="5.0" fill="#3E26A8"/>
<rect x="3267.5" y="557.3" width="36.9" height="36.7" fill="#3E26A8"/>
<rect x="3304.4" y="594.0" width="21.8" height="21.7" fill="#3E26A8"/>
<rect x="3326.2" y="615.7" width="5.0" height="5.0" fill="#3E26A8"/>
<rect x="3331.2" y="620.7" width="30.2" height="30.1" fill="#3E26A8"/>
<rect x="3079.8" y="370.2" width="281.6" height="280.6" fill="none" stroke="#262626" stroke-width="1.3"/>
<text x="3075.8" y="407.1" font-family="'Liberation Sans',Arial,sans-serif" font-size="11" fill="#3a3a3a" text-anchor="end">20</text>
<text x="3112.5" y="667.3" font-family="'Liberation Sans',Arial,sans-serif" font-size="11" fill="#3a3a3a" text-anchor="middle">20</text>
<text x="3075.8" y="440.5" font-family="'Liberation Sans',Arial,sans-serif" font-size="11" fill="#3a3a3a" text-anchor="end">40</text>
<text x="3146.0" y="667.3" font-family="'Liberation Sans',Arial,sans-serif" font-size="11" fill="#3a3a3a" text-anchor="middle">40</text>
<text x="3075.8" y="473.9" font-family="'Liberation Sans',Arial,sans-serif" font-size="11" fill="#3a3a3a" text-anchor="end">60</text>
<text x="3179.5" y="667.3" font-family="'Liberation Sans',Arial,sans-serif" font-size="11" fill="#3a3a3a" text-anchor="middle">60</text>
<text x="3075.8" y="507.3" font-family="'Liberation Sans',Arial,sans-serif" font-size="11" fill="#3a3a3a" text-anchor="end">80</text>
<text x="3213.1" y="667.3" font-family="'Liberation Sans',Arial,sans-serif" font-size="11" fill="#3a3a3a" text-anchor="middle">80</text>
<text x="3075.8" y="540.7" font-family="'Liberation Sans',Arial,sans-serif" font-size="11" fill="#3a3a3a" text-anchor="end">100</text>
<text x="3246.6" y="667.3" font-family="'Liberation Sans',Arial,sans-serif" font-size="11" fill="#3a3a3a" text-anchor="middle">100</text>
<text x="3075.8" y="574.1" font-family="'Liberation Sans',Arial,sans-serif" font-size="11" fill="#3a3a3a" text-anchor="end">120</text>
<text x="3280.1" y="667.3" font-family="'Liberation Sans',Arial,sans-serif" font-size="11" fill="#3a3a3a" text-anchor="middle">120</text>
<text x="3075.8" y="607.5" font-family="'Liberation Sans',Arial,sans-serif" font-size="11" fill="#3a3a3a" text-anchor="end">140</text>
<text x="3313.6" y="667.3" font-family="'Liberation Sans',Arial,sans-serif" font-size="11" fill="#3a3a3a" text-anchor="middle">140</text>
<text x="3075.8" y="640.9" font-family="'Liberation Sans',Arial,sans-serif" font-size="11" fill="#3a3a3a" text-anchor="end">160</text>
<text x="3347.2" y="667.3" font-family="'Liberation Sans',Arial,sans-serif" font-size="11" fill="#3a3a3a" text-anchor="middle">160</text>
<path d="M3112.5 370.2v3M3112.5 650.8v-3M3079.8 402.8h3M3361.4 402.8h-3M3146.0 370.2v3M3146.0 650.8v-3M3079.8 436.2h3M3361.4 436.2h-3M3179.5 370.2v3M3179.5 650.8v-3M3079.8 469.6h3M3361.4 469.6h-3M3213.1 370.2v3M3213.1 650.8v-3M3079.8 503.0h3M3361.4 503.0h-3M3246.6 370.2v3M3246.6 650.8v-3M3079.8 536.4h3M3361.4 536.4h-3M3280.1 370.2v3M3280.1 650.8v-3M3079.8 569.8h3M3361.4 569.8h-3M3313.6 370.2v3M3313.6 650.8v-3M3079.8 603.2h3M3361.4 603.2h-3M3347.2 370.2v3M3347.2 650.8v-3M3079.8 636.6h3M3361.4 636.6h-3" stroke="#262626" stroke-width="1.2"/>
</g>
<g>
<rect x="3079.8" y="675.3" width="286.7" height="286.3" fill="#F9FA14"/>
<rect x="3079.8" y="675.3" width="189.4" height="189.2" fill="#3E26A8"/>
<rect x="3269.2" y="864.5" width="97.3" height="39.2" fill="#3E26A8"/>
<rect x="3269.2" y="903.7" width="63.1" height="22.2" fill="#3E26A8"/>
<rect x="3269.2" y="930.9" width="39.3" height="30.7" fill="#3E26A8"/>
<rect x="3335.8" y="930.9" width="30.7" height="30.7" fill="#3E26A8"/>
<rect x="3079.8" y="928.0" width="189.4" height="2.0" fill="#3E26A8"/>
<rect x="3332.9" y="675.3" width="2.0" height="189.2" fill="#3E26A8"/>
<rect x="3197.6" y="686.4" width="70.0" height="1.5" fill="#B9B244"/>
<rect x="3197.6" y="695.8" width="70.0" height="1.5" fill="#B9B244"/>
<rect x="3197.6" y="725.6" width="70.0" height="1.5" fill="#B9B244"/>
<rect x="3197.6" y="765.6" width="70.0" height="1.5" fill="#B9B244"/>
<rect x="3197.6" y="770.7" width="70.0" height="1.5" fill="#B9B244"/>
<rect x="3207.8" y="700.9" width="1.7" height="1.7" fill="#B9B244"/>
<rect x="3221.4" y="700.9" width="1.7" height="1.7" fill="#B9B244"/>
<rect x="3235.1" y="700.9" width="1.7" height="1.7" fill="#B9B244"/>
<rect x="3247.0" y="700.9" width="1.7" height="1.7" fill="#B9B244"/>
<rect x="3259.0" y="700.9" width="1.7" height="1.7" fill="#B9B244"/>
<rect x="3207.8" y="717.9" width="1.7" height="1.7" fill="#B9B244"/>
<rect x="3221.4" y="717.9" width="1.7" height="1.7" fill="#B9B244"/>
<rect x="3235.1" y="717.9" width="1.7" height="1.7" fill="#B9B244"/>
<rect x="3247.0" y="717.9" width="1.7" height="1.7" fill="#B9B244"/>
<rect x="3259.0" y="717.9" width="1.7" height="1.7" fill="#B9B244"/>
<rect x="3091.7" y="792.9" width="1.7" height="69.9" fill="#C5BE3C"/>
<rect x="3100.3" y="792.9" width="1.7" height="69.9" fill="#C5BE3C"/>
<rect x="3129.3" y="792.9" width="1.7" height="69.9" fill="#C5BE3C"/>
<rect x="3172.0" y="792.9" width="1.7" height="69.9" fill="#C5BE3C"/>
<rect x="3177.1" y="792.9" width="1.7" height="69.9" fill="#C5BE3C"/>
<rect x="3105.4" y="804.8" width="1.7" height="1.7" fill="#B9B244"/>
<rect x="3122.5" y="804.8" width="1.7" height="1.7" fill="#B9B244"/>
<rect x="3105.4" y="821.9" width="1.7" height="1.7" fill="#B9B244"/>
<rect x="3122.5" y="821.9" width="1.7" height="1.7" fill="#B9B244"/>
<rect x="3105.4" y="838.9" width="1.7" height="1.7" fill="#B9B244"/>
<rect x="3122.5" y="838.9" width="1.7" height="1.7" fill="#B9B244"/>
<rect x="3105.4" y="854.2" width="1.7" height="1.7" fill="#B9B244"/>
<rect x="3122.5" y="854.2" width="1.7" height="1.7" fill="#B9B244"/>
<rect x="3314.5" y="864.5" width="2.0" height="39.2" fill="#D8D22A"/>
<rect x="3321.3" y="864.5" width="2.0" height="39.2" fill="#D8D22A"/>
<rect x="3339.2" y="864.5" width="2.0" height="39.2" fill="#D8D22A"/>
<rect x="3347.7" y="864.5" width="2.0" height="39.2" fill="#D8D22A"/>
<rect x="3361.4" y="864.5" width="2.0" height="39.2" fill="#D8D22A"/>
<rect x="3335.8" y="870.4" width="30.7" height="1.7" fill="#B9B244"/>
<rect x="3335.8" y="873.8" width="30.7" height="1.7" fill="#B9B244"/>
<rect x="3269.2" y="913.0" width="39.3" height="1.9" fill="#D8D22A"/>
<rect x="3269.2" y="919.0" width="39.3" height="1.9" fill="#D8D22A"/>
<rect x="3269.2" y="934.3" width="39.3" height="1.9" fill="#D8D22A"/>
<rect x="3269.2" y="942.9" width="39.3" height="1.9" fill="#D8D22A"/>
<rect x="3269.2" y="950.5" width="39.3" height="1.9" fill="#D8D22A"/>
<rect x="3272.6" y="930.9" width="1.5" height="30.7" fill="#B9B244"/>
<rect x="3303.4" y="930.9" width="1.5" height="30.7" fill="#B9B244"/>
<rect x="3269.2" y="696.6" width="97.3" height="1.4" fill="#8E8A6A"/>
<rect x="3269.2" y="766.5" width="66.6" height="1.4" fill="#8E8A6A"/>
<rect x="3272.6" y="675.3" width="1.4" height="115.9" fill="#8E8A6A"/>
<rect x="3310.2" y="791.2" width="1.4" height="73.3" fill="#8E8A6A"/>
<rect x="3347.7" y="791.2" width="1.4" height="73.3" fill="#8E8A6A"/>
<rect x="3079.8" y="873.8" width="116.0" height="1.4" fill="#8E8A6A"/>
<rect x="3100.3" y="864.5" width="1.4" height="97.1" fill="#8E8A6A"/>
<rect x="3172.0" y="864.5" width="1.4" height="97.1" fill="#8E8A6A"/>
<rect x="3195.8" y="913.9" width="73.4" height="1.4" fill="#8E8A6A"/>
<rect x="3195.8" y="944.6" width="73.4" height="1.4" fill="#8E8A6A"/>
<rect x="3228.3" y="864.5" width="1.4" height="97.1" fill="#8E8A6A"/>
<rect x="3250.5" y="864.5" width="1.4" height="97.1" fill="#8E8A6A"/>
<rect x="3269.2" y="845.7" width="39.3" height="1.4" fill="#8E8A6A"/>
<rect x="3308.5" y="856.8" width="23.9" height="1.4" fill="#8E8A6A"/>
<rect x="3335.8" y="821.9" width="30.7" height="1.4" fill="#8E8A6A"/>
<rect x="3320.4" y="930.9" width="1.4" height="30.7" fill="#8E8A6A"/>
<rect x="3349.4" y="675.3" width="1.4" height="189.2" fill="#8E8A6A"/>
<rect x="3185.6" y="864.5" width="1.4" height="39.2" fill="#8E8A6A"/>
<rect x="3085.8" y="930.9" width="1.4" height="30.7" fill="#8E8A6A"/>
<rect x="3362.2" y="675.3" width="1.4" height="189.2" fill="#8E8A6A"/>
<rect x="3079.8" y="675.3" width="286.7" height="286.3" fill="none" stroke="#262626" stroke-width="1.3"/>
<text x="3075.8" y="712.8" font-family="'Liberation Sans',Arial,sans-serif" font-size="11" fill="#3a3a3a" text-anchor="end">20</text>
<text x="3113.1" y="978.1" font-family="'Liberation Sans',Arial,sans-serif" font-size="11" fill="#3a3a3a" text-anchor="middle">20</text>
<text x="3075.8" y="746.9" font-family="'Liberation Sans',Arial,sans-serif" font-size="11" fill="#3a3a3a" text-anchor="end">40</text>
<text x="3147.2" y="978.1" font-family="'Liberation Sans',Arial,sans-serif" font-size="11" fill="#3a3a3a" text-anchor="middle">40</text>
<text x="3075.8" y="781.0" font-family="'Liberation Sans',Arial,sans-serif" font-size="11" fill="#3a3a3a" text-anchor="end">60</text>
<text x="3181.3" y="978.1" font-family="'Liberation Sans',Arial,sans-serif" font-size="11" fill="#3a3a3a" text-anchor="middle">60</text>
<text x="3075.8" y="815.1" font-family="'Liberation Sans',Arial,sans-serif" font-size="11" fill="#3a3a3a" text-anchor="end">80</text>
<text x="3215.5" y="978.1" font-family="'Liberation Sans',Arial,sans-serif" font-size="11" fill="#3a3a3a" text-anchor="middle">80</text>
<text x="3075.8" y="849.2" font-family="'Liberation Sans',Arial,sans-serif" font-size="11" fill="#3a3a3a" text-anchor="end">100</text>
<text x="3249.6" y="978.1" font-family="'Liberation Sans',Arial,sans-serif" font-size="11" fill="#3a3a3a" text-anchor="middle">100</text>
<text x="3075.8" y="883.2" font-family="'Liberation Sans',Arial,sans-serif" font-size="11" fill="#3a3a3a" text-anchor="end">120</text>
<text x="3283.7" y="978.1" font-family="'Liberation Sans',Arial,sans-serif" font-size="11" fill="#3a3a3a" text-anchor="middle">120</text>
<text x="3075.8" y="917.3" font-family="'Liberation Sans',Arial,sans-serif" font-size="11" fill="#3a3a3a" text-anchor="end">140</text>
<text x="3317.9" y="978.1" font-family="'Liberation Sans',Arial,sans-serif" font-size="11" fill="#3a3a3a" text-anchor="middle">140</text>
<text x="3075.8" y="951.4" font-family="'Liberation Sans',Arial,sans-serif" font-size="11" fill="#3a3a3a" text-anchor="end">160</text>
<text x="3352.0" y="978.1" font-family="'Liberation Sans',Arial,sans-serif" font-size="11" fill="#3a3a3a" text-anchor="middle">160</text>
<path d="M3113.1 675.3v3M3113.1 961.6v-3M3079.8 708.5h3M3366.5 708.5h-3M3147.2 675.3v3M3147.2 961.6v-3M3079.8 742.6h3M3366.5 742.6h-3M3181.3 675.3v3M3181.3 961.6v-3M3079.8 776.7h3M3366.5 776.7h-3M3215.5 675.3v3M3215.5 961.6v-3M3079.8 810.8h3M3366.5 810.8h-3M3249.6 675.3v3M3249.6 961.6v-3M3079.8 844.9h3M3366.5 844.9h-3M3283.7 675.3v3M3283.7 961.6v-3M3079.8 878.9h3M3366.5 878.9h-3M3317.9 675.3v3M3317.9 961.6v-3M3079.8 913.0h3M3366.5 913.0h-3M3352.0 675.3v3M3352.0 961.6v-3M3079.8 947.1h3M3366.5 947.1h-3" stroke="#262626" stroke-width="1.2"/>
</g>
<rect x="3196.1" y="676.4" width="71.4" height="112.1" fill="none" stroke="#FF0000" stroke-width="4.2"/>
<rect x="3080.9" y="792.7" width="114.0" height="70.2" fill="none" stroke="#FF0000" stroke-width="4.2"/>
<rect x="3310.5" y="862.1" width="56.0" height="40.7" fill="none" stroke="#FF0000" stroke-width="2.2"/>
<rect x="3268.6" y="906.4" width="39.7" height="52.5" fill="none" stroke="#FF0000" stroke-width="4.2"/>
<g>
<rect x="3078.3" y="986.4" width="293.7" height="290.8" fill="#F9FA14"/>
<rect x="3078.3" y="986.4" width="118.9" height="117.7" fill="#3E26A8"/>
<rect x="3197.2" y="986.4" width="75.2" height="117.7" fill="#F6C93C"/>
<rect x="3221.6" y="986.4" width="1.7" height="117.7" fill="#2DB8C6" opacity="0.85"/>
<rect x="3244.4" y="986.4" width="1.7" height="117.7" fill="#2F7BEF" opacity="0.85"/>
<rect x="3205.5" y="986.4" width="3.5" height="117.7" fill="#2DB8C6" opacity="0.85"/>
<rect x="3262.5" y="986.4" width="1.7" height="117.7" fill="#2DB8C6" opacity="0.85"/>
<rect x="3204.9" y="986.4" width="2.6" height="117.7" fill="#2DB8C6" opacity="0.85"/>
<rect x="3215.8" y="986.4" width="3.5" height="117.7" fill="#2DB8C6" opacity="0.85"/>
<rect x="3203.1" y="986.4" width="3.5" height="117.7" fill="#2DB8C6" opacity="0.85"/>
<rect x="3265.2" y="986.4" width="3.5" height="117.7" fill="#2F7BEF" opacity="0.85"/>
<rect x="3239.7" y="986.4" width="1.7" height="117.7" fill="#2F7BEF" opacity="0.85"/>
<rect x="3239.9" y="986.4" width="1.7" height="117.7" fill="#2DB8C6" opacity="0.85"/>
<rect x="3202.2" y="986.4" width="1.7" height="117.7" fill="#2DB8C6" opacity="0.85"/>
<rect x="3228.2" y="986.4" width="3.5" height="117.7" fill="#2DB8C6" opacity="0.85"/>
<rect x="3238.8" y="986.4" width="3.5" height="117.7" fill="#2F7BEF" opacity="0.85"/>
<rect x="3211.6" y="986.4" width="3.5" height="117.7" fill="#2F7BEF" opacity="0.85"/>
<rect x="3197.2" y="1060.0" width="75.2" height="2.6" fill="#2DB8C6" opacity="0.7"/>
<rect x="3197.2" y="1049.8" width="75.2" height="1.7" fill="#9FD55A" opacity="0.7"/>
<rect x="3197.2" y="994.8" width="75.2" height="1.7" fill="#2F7BEF" opacity="0.7"/>
<rect x="3197.2" y="1064.7" width="75.2" height="2.6" fill="#2F7BEF" opacity="0.7"/>
<rect x="3197.2" y="1040.5" width="75.2" height="2.6" fill="#2F7BEF" opacity="0.7"/>
<rect x="3197.2" y="1021.9" width="75.2" height="1.7" fill="#9FD55A" opacity="0.7"/>
<rect x="3197.2" y="1075.9" width="75.2" height="1.7" fill="#9FD55A" opacity="0.7"/>
<rect x="3197.2" y="1021.9" width="75.2" height="2.6" fill="#2F7BEF" opacity="0.7"/>
<rect x="3197.2" y="1070.2" width="75.2" height="2.6" fill="#9FD55A" opacity="0.7"/>
<rect x="3197.2" y="1098.4" width="75.2" height="1.7" fill="#9FD55A" opacity="0.7"/>
<rect x="3197.2" y="1035.2" width="75.2" height="2.6" fill="#2DB8C6" opacity="0.7"/>
<rect x="3197.2" y="1093.1" width="75.2" height="2.6" fill="#2DB8C6" opacity="0.7"/>
<rect x="3197.2" y="1054.7" width="75.2" height="1.7" fill="#3B3FD6" opacity="0.9"/>
<rect x="3253.6" y="986.4" width="1.7" height="117.7" fill="#3B3FD6" opacity="0.9"/>
<rect x="3078.3" y="1104.1" width="118.9" height="74.4" fill="#F6C93C"/>
<rect x="3189.4" y="1104.1" width="1.7" height="74.4" fill="#2F7BEF" opacity="0.85"/>
<rect x="3145.2" y="1104.1" width="2.6" height="74.4" fill="#2DB8C6" opacity="0.85"/>
<rect x="3159.1" y="1104.1" width="3.5" height="74.4" fill="#2DB8C6" opacity="0.85"/>
<rect x="3145.9" y="1104.1" width="2.6" height="74.4" fill="#2DB8C6" opacity="0.85"/>
<rect x="3175.5" y="1104.1" width="2.6" height="74.4" fill="#2DB8C6" opacity="0.85"/>
<rect x="3159.3" y="1104.1" width="1.7" height="74.4" fill="#2DB8C6" opacity="0.85"/>
<rect x="3163.1" y="1104.1" width="2.6" height="74.4" fill="#2F7BEF" opacity="0.85"/>
<rect x="3145.7" y="1104.1" width="3.5" height="74.4" fill="#2DB8C6" opacity="0.85"/>
<rect x="3112.4" y="1104.1" width="2.6" height="74.4" fill="#2F7BEF" opacity="0.85"/>
<rect x="3119.5" y="1104.1" width="2.6" height="74.4" fill="#2DB8C6" opacity="0.85"/>
<rect x="3099.1" y="1104.1" width="1.7" height="74.4" fill="#2DB8C6" opacity="0.85"/>
<rect x="3086.7" y="1104.1" width="2.6" height="74.4" fill="#2DB8C6" opacity="0.85"/>
<rect x="3164.0" y="1104.1" width="2.6" height="74.4" fill="#2DB8C6" opacity="0.85"/>
<rect x="3184.2" y="1104.1" width="2.6" height="74.4" fill="#2DB8C6" opacity="0.85"/>
<rect x="3078.3" y="1117.4" width="118.9" height="2.6" fill="#9FD55A" opacity="0.7"/>
<rect x="3078.3" y="1125.1" width="118.9" height="1.7" fill="#2F7BEF" opacity="0.7"/>
<rect x="3078.3" y="1165.7" width="118.9" height="2.6" fill="#9FD55A" opacity="0.7"/>
<rect x="3078.3" y="1134.6" width="118.9" height="2.6" fill="#9FD55A" opacity="0.7"/>
<rect x="3078.3" y="1167.1" width="118.9" height="1.7" fill="#2DB8C6" opacity="0.7"/>
<rect x="3078.3" y="1111.6" width="118.9" height="1.7" fill="#2DB8C6" opacity="0.7"/>
<rect x="3078.3" y="1151.4" width="118.9" height="1.7" fill="#2F7BEF" opacity="0.7"/>
<rect x="3078.3" y="1163.4" width="118.9" height="1.7" fill="#2F7BEF" opacity="0.7"/>
<rect x="3078.3" y="1125.4" width="118.9" height="1.7" fill="#2F7BEF" opacity="0.7"/>
<rect x="3078.3" y="1142.8" width="118.9" height="3.5" fill="#9FD55A" opacity="0.7"/>
<rect x="3078.3" y="1127.9" width="118.9" height="1.7" fill="#9FD55A" opacity="0.7"/>
<rect x="3078.3" y="1165.3" width="118.9" height="3.5" fill="#9FD55A" opacity="0.7"/>
<rect x="3078.3" y="1147.3" width="118.9" height="1.7" fill="#3B3FD6" opacity="0.9"/>
<rect x="3167.5" y="1104.1" width="1.7" height="74.4" fill="#3B3FD6" opacity="0.9"/>
<rect x="3197.2" y="1104.1" width="75.2" height="74.4" fill="#3538C4"/>
<rect x="3246.2" y="1104.1" width="1.7" height="74.4" fill="#2F7BEF" opacity="0.6"/>
<rect x="3197.2" y="1109.6" width="75.2" height="1.7" fill="#2F7BEF" opacity="0.6"/>
<rect x="3261.8" y="1104.1" width="1.7" height="74.4" fill="#2F7BEF" opacity="0.6"/>
<rect x="3197.2" y="1159.8" width="75.2" height="1.7" fill="#2F7BEF" opacity="0.6"/>
<rect x="3260.1" y="1104.1" width="1.7" height="74.4" fill="#2F7BEF" opacity="0.6"/>
<rect x="3197.2" y="1161.1" width="75.2" height="1.7" fill="#2F7BEF" opacity="0.6"/>
<rect x="3226.4" y="1104.1" width="1.7" height="74.4" fill="#2F7BEF" opacity="0.6"/>
<rect x="3197.2" y="1133.5" width="75.2" height="1.7" fill="#2F7BEF" opacity="0.6"/>
<rect x="3206.2" y="1104.1" width="1.7" height="74.4" fill="#2F7BEF" opacity="0.6"/>
<rect x="3197.2" y="1149.8" width="75.2" height="1.7" fill="#2F7BEF" opacity="0.6"/>
<rect x="3203.3" y="1104.1" width="1.7" height="74.4" fill="#2F7BEF" opacity="0.6"/>
<rect x="3197.2" y="1110.5" width="75.2" height="1.7" fill="#2F7BEF" opacity="0.6"/>
<rect x="3213.5" y="1104.1" width="1.7" height="74.4" fill="#2F7BEF" opacity="0.6"/>
<rect x="3197.2" y="1117.1" width="75.2" height="1.7" fill="#2F7BEF" opacity="0.6"/>
<rect x="3272.4" y="1178.5" width="40.2" height="39.8" fill="#3538C4"/>
<rect x="3286.0" y="1178.5" width="1.7" height="39.8" fill="#2F7BEF" opacity="0.6"/>
<rect x="3272.4" y="1182.1" width="40.2" height="1.7" fill="#2F7BEF" opacity="0.6"/>
<rect x="3274.1" y="1178.5" width="1.7" height="39.8" fill="#2F7BEF" opacity="0.6"/>
<rect x="3272.4" y="1185.5" width="40.2" height="1.7" fill="#2F7BEF" opacity="0.6"/>
<rect x="3277.6" y="1178.5" width="1.7" height="39.8" fill="#2F7BEF" opacity="0.6"/>
<rect x="3272.4" y="1192.9" width="40.2" height="1.7" fill="#2F7BEF" opacity="0.6"/>
<rect x="3275.0" y="1178.5" width="1.7" height="39.8" fill="#2F7BEF" opacity="0.6"/>
<rect x="3272.4" y="1210.5" width="40.2" height="1.7" fill="#2F7BEF" opacity="0.6"/>
<rect x="3295.6" y="1178.5" width="1.7" height="39.8" fill="#2F7BEF" opacity="0.6"/>
<rect x="3272.4" y="1185.4" width="40.2" height="1.7" fill="#2F7BEF" opacity="0.6"/>
<rect x="3282.9" y="1178.5" width="1.7" height="39.8" fill="#2F7BEF" opacity="0.6"/>
<rect x="3272.4" y="1192.3" width="40.2" height="1.7" fill="#2F7BEF" opacity="0.6"/>
<rect x="3286.8" y="1178.5" width="1.7" height="39.8" fill="#2F7BEF" opacity="0.6"/>
<rect x="3272.4" y="1184.5" width="40.2" height="1.7" fill="#2F7BEF" opacity="0.6"/>
<rect x="3312.6" y="1218.3" width="22.7" height="22.5" fill="#3A34C0"/>
<rect x="3340.5" y="1246.0" width="31.5" height="31.2" fill="#3A34C0"/>
<rect x="3335.3" y="1240.8" width="5.2" height="5.2" fill="#3A34C0"/>
<rect x="3312.6" y="1178.5" width="59.4" height="39.8" fill="#F3D23A"/>
<rect x="3360.3" y="1178.5" width="2.3" height="39.8" fill="#2F7BEF" opacity="0.8"/>
<rect x="3312.6" y="1196.9" width="59.4" height="2.3" fill="#2F7BEF" opacity="0.8"/>
<rect x="3319.0" y="1178.5" width="2.3" height="39.8" fill="#2DB8C6" opacity="0.8"/>
<rect x="3312.6" y="1206.2" width="59.4" height="2.3" fill="#2F7BEF" opacity="0.8"/>
<rect x="3340.2" y="1178.5" width="2.3" height="39.8" fill="#2DB8C6" opacity="0.8"/>
<rect x="3312.6" y="1198.1" width="59.4" height="2.3" fill="#2DB8C6" opacity="0.8"/>
<rect x="3365.8" y="1178.5" width="2.3" height="39.8" fill="#2F7BEF" opacity="0.8"/>
<rect x="3312.6" y="1185.3" width="59.4" height="2.3" fill="#2DB8C6" opacity="0.8"/>
<rect x="3355.4" y="1178.5" width="2.3" height="39.8" fill="#2F7BEF" opacity="0.8"/>
<rect x="3312.6" y="1214.1" width="59.4" height="2.3" fill="#2DB8C6" opacity="0.8"/>
<rect x="3352.0" y="1178.5" width="2.3" height="39.8" fill="#2F7BEF" opacity="0.8"/>
<rect x="3312.6" y="1198.2" width="59.4" height="2.3" fill="#2DB8C6" opacity="0.8"/>
<rect x="3272.4" y="1218.3" width="40.2" height="58.9" fill="#F3D23A"/>
<rect x="3286.5" y="1218.3" width="2.3" height="58.9" fill="#2DB8C6" opacity="0.8"/>
<rect x="3272.4" y="1248.7" width="40.2" height="2.3" fill="#2F7BEF" opacity="0.8"/>
<rect x="3296.4" y="1218.3" width="2.3" height="58.9" fill="#2DB8C6" opacity="0.8"/>
<rect x="3272.4" y="1263.3" width="40.2" height="2.3" fill="#2F7BEF" opacity="0.8"/>
<rect x="3300.0" y="1218.3" width="2.3" height="58.9" fill="#2DB8C6" opacity="0.8"/>
<rect x="3272.4" y="1230.8" width="40.2" height="2.3" fill="#2F7BEF" opacity="0.8"/>
<rect x="3286.5" y="1218.3" width="2.3" height="58.9" fill="#2DB8C6" opacity="0.8"/>
<rect x="3272.4" y="1273.2" width="40.2" height="2.3" fill="#2F7BEF" opacity="0.8"/>
<rect x="3290.6" y="1218.3" width="2.3" height="58.9" fill="#2DB8C6" opacity="0.8"/>
<rect x="3272.4" y="1257.2" width="40.2" height="2.3" fill="#2F7BEF" opacity="0.8"/>
<rect x="3289.7" y="1218.3" width="2.3" height="58.9" fill="#2F7BEF" opacity="0.8"/>
<rect x="3272.4" y="1271.3" width="40.2" height="2.3" fill="#2F7BEF" opacity="0.8"/>
<rect x="3197.2" y="1243.4" width="75.2" height="3.1" fill="#3B3FD6"/>
<rect x="3336.2" y="1104.1" width="3.1" height="74.4" fill="#3B3FD6"/>
<rect x="3276.7" y="986.4" width="1.2" height="117.7" fill="#2DB8C6" opacity="0.8"/>
<rect x="3078.3" y="1187.2" width="118.9" height="1.2" fill="#2DB8C6" opacity="0.8"/>
<rect x="3228.6" y="1246.0" width="1.2" height="31.2" fill="#2DB8C6" opacity="0.8"/>
<rect x="3092.3" y="1246.0" width="1.2" height="31.2" fill="#2DB8C6" opacity="0.8"/>
<rect x="3340.5" y="1135.3" width="31.5" height="1.2" fill="#2DB8C6" opacity="0.8"/>
<rect x="3272.4" y="1159.5" width="40.2" height="1.2" fill="#2DB8C6" opacity="0.8"/>
<rect x="3312.6" y="1258.2" width="28.0" height="1.2" fill="#2DB8C6" opacity="0.8"/>
<rect x="3342.3" y="986.4" width="1.2" height="34.6" fill="#2DB8C6" opacity="0.8"/>
<rect x="3078.3" y="986.4" width="293.7" height="290.8" fill="none" stroke="#262626" stroke-width="1.3"/>
<text x="3074.3" y="1024.5" font-family="'Liberation Sans',Arial,sans-serif" font-size="11" fill="#3a3a3a" text-anchor="end">20</text>
<text x="3112.4" y="1293.7" font-family="'Liberation Sans',Arial,sans-serif" font-size="11" fill="#3a3a3a" text-anchor="middle">20</text>
<text x="3074.3" y="1059.1" font-family="'Liberation Sans',Arial,sans-serif" font-size="11" fill="#3a3a3a" text-anchor="end">40</text>
<text x="3147.4" y="1293.7" font-family="'Liberation Sans',Arial,sans-serif" font-size="11" fill="#3a3a3a" text-anchor="middle">40</text>
<text x="3074.3" y="1093.7" font-family="'Liberation Sans',Arial,sans-serif" font-size="11" fill="#3a3a3a" text-anchor="end">60</text>
<text x="3182.3" y="1293.7" font-family="'Liberation Sans',Arial,sans-serif" font-size="11" fill="#3a3a3a" text-anchor="middle">60</text>
<text x="3074.3" y="1128.3" font-family="'Liberation Sans',Arial,sans-serif" font-size="11" fill="#3a3a3a" text-anchor="end">80</text>
<text x="3217.3" y="1293.7" font-family="'Liberation Sans',Arial,sans-serif" font-size="11" fill="#3a3a3a" text-anchor="middle">80</text>
<text x="3074.3" y="1162.9" font-family="'Liberation Sans',Arial,sans-serif" font-size="11" fill="#3a3a3a" text-anchor="end">100</text>
<text x="3252.2" y="1293.7" font-family="'Liberation Sans',Arial,sans-serif" font-size="11" fill="#3a3a3a" text-anchor="middle">100</text>
<text x="3074.3" y="1197.5" font-family="'Liberation Sans',Arial,sans-serif" font-size="11" fill="#3a3a3a" text-anchor="end">120</text>
<text x="3287.2" y="1293.7" font-family="'Liberation Sans',Arial,sans-serif" font-size="11" fill="#3a3a3a" text-anchor="middle">120</text>
<text x="3074.3" y="1232.2" font-family="'Liberation Sans',Arial,sans-serif" font-size="11" fill="#3a3a3a" text-anchor="end">140</text>
<text x="3322.2" y="1293.7" font-family="'Liberation Sans',Arial,sans-serif" font-size="11" fill="#3a3a3a" text-anchor="middle">140</text>
<text x="3074.3" y="1266.8" font-family="'Liberation Sans',Arial,sans-serif" font-size="11" fill="#3a3a3a" text-anchor="end">160</text>
<text x="3357.1" y="1293.7" font-family="'Liberation Sans',Arial,sans-serif" font-size="11" fill="#3a3a3a" text-anchor="middle">160</text>
<path d="M3112.4 986.4v3M3112.4 1277.2v-3M3078.3 1020.2h3M3372.0 1020.2h-3M3147.4 986.4v3M3147.4 1277.2v-3M3078.3 1054.8h3M3372.0 1054.8h-3M3182.3 986.4v3M3182.3 1277.2v-3M3078.3 1089.4h3M3372.0 1089.4h-3M3217.3 986.4v3M3217.3 1277.2v-3M3078.3 1124.0h3M3372.0 1124.0h-3M3252.2 986.4v3M3252.2 1277.2v-3M3078.3 1158.6h3M3372.0 1158.6h-3M3287.2 986.4v3M3287.2 1277.2v-3M3078.3 1193.2h3M3372.0 1193.2h-3M3322.2 986.4v3M3322.2 1277.2v-3M3078.3 1227.9h3M3372.0 1227.9h-3M3357.1 986.4v3M3357.1 1277.2v-3M3078.3 1262.5h3M3372.0 1262.5h-3" stroke="#262626" stroke-width="1.2"/>
</g>
<rect x="3197.9" y="989.0" width="72.9" height="112.4" fill="none" stroke="#FF0000" stroke-width="4.4"/>
<rect x="3080.1" y="1103.7" width="115.9" height="74.1" fill="none" stroke="#FF0000" stroke-width="4.4"/>
<rect x="3312.6" y="1176.2" width="58.7" height="42.0" fill="none" stroke="#FF0000" stroke-width="4.4"/>
<rect x="3270.4" y="1220.4" width="42.5" height="56.1" fill="none" stroke="#FF0000" stroke-width="2.2"/>
<circle cx="372.8" cy="1369" r="12.5" fill="#0070C0"/>
<text x="406.8" y="1384.6" font-family="'Liberation Sans',Arial,sans-serif" font-size="46" font-weight="bold" fill="#0070C0" textLength="770.2" lengthAdjust="spacingAndGlyphs">Performance on Synthetic Data Sets</text>
<g>
<rect x="195.5" y="1477.3" width="360.0" height="280.9" fill="none" stroke="#262626" stroke-width="1.3"/>
<polyline points="195.5,1683.4 267.5,1624.4 339.5,1635.2 411.5,1633.5 483.5,1745.8 555.5,1697.5" fill="none" stroke="#FFD21F" stroke-width="1.2" stroke-dasharray="1.5 1" stroke-linejoin="round"/>
<polygon points="195.5,1679.3 196.5,1682.0 199.4,1682.1 197.1,1683.9 197.9,1686.7 195.5,1685.1 193.1,1686.7 193.9,1683.9 191.6,1682.1 194.5,1682.0" fill="#fff" stroke="#FFD21F" stroke-width="1.4" stroke-linejoin="round"/>
<polygon points="267.5,1620.3 268.5,1623.0 271.4,1623.1 269.1,1624.9 269.9,1627.7 267.5,1626.1 265.1,1627.7 265.9,1624.9 263.6,1623.1 266.5,1623.0" fill="#fff" stroke="#FFD21F" stroke-width="1.4" stroke-linejoin="round"/>
<polygon points="339.5,1631.1 340.5,1633.9 343.4,1634.0 341.1,1635.8 341.9,1638.6 339.5,1636.9 337.1,1638.6 337.9,1635.8 335.6,1634.0 338.5,1633.9" fill="#fff" stroke="#FFD21F" stroke-width="1.4" stroke-linejoin="round"/>
<polygon points="411.5,1629.4 412.5,1632.1 415.4,1632.2 413.1,1634.0 413.9,1636.8 411.5,1635.2 409.1,1636.8 409.9,1634.0 407.6,1632.2 410.5,1632.1" fill="#fff" stroke="#FFD21F" stroke-width="1.4" stroke-linejoin="round"/>
<polygon points="483.5,1741.7 484.5,1744.5 487.4,1744.6 485.1,1746.4 485.9,1749.2 483.5,1747.5 481.1,1749.2 481.9,1746.4 479.6,1744.6 482.5,1744.5" fill="#fff" stroke="#FFD21F" stroke-width="1.4" stroke-linejoin="round"/>
<polygon points="555.5,1693.4 556.5,1696.1 559.4,1696.2 557.1,1698.0 557.9,1700.8 555.5,1699.2 553.1,1700.8 553.9,1698.0 551.6,1696.2 554.5,1696.1" fill="#fff" stroke="#FFD21F" stroke-width="1.4" stroke-linejoin="round"/>
<polyline points="195.5,1632.0 267.5,1613.5 339.5,1657.4 411.5,1659.1 483.5,1707.2 555.5,1709.4" fill="none" stroke="#D2691E" stroke-width="1.5" stroke-dasharray="5 3" stroke-linejoin="round"/>
<polygon points="191.9,1632.0 199.1,1628.4 199.1,1635.6" fill="#fff" stroke="#D2691E" stroke-width="1.3"/>
<polygon points="263.9,1613.5 271.1,1609.9 271.1,1617.1" fill="#fff" stroke="#D2691E" stroke-width="1.3"/>
<polygon points="335.9,1657.4 343.1,1653.8 343.1,1661.0" fill="#fff" stroke="#D2691E" stroke-width="1.3"/>
<polygon points="407.9,1659.1 415.1,1655.5 415.1,1662.7" fill="#fff" stroke="#D2691E" stroke-width="1.3"/>
<polygon points="479.9,1707.2 487.1,1703.6 487.1,1710.8" fill="#fff" stroke="#D2691E" stroke-width="1.3"/>
<polygon points="551.9,1709.4 559.1,1705.8 559.1,1713.0" fill="#fff" stroke="#D2691E" stroke-width="1.3"/>
<polyline points="195.5,1578.2 267.5,1569.5 339.5,1609.2 411.5,1590.1 483.5,1658.4 555.5,1706.8" fill="none" stroke="#A030F0" stroke-width="1.4" stroke-dasharray="5 2 1.5 2" stroke-linejoin="round"/>
<polygon points="195.5,1574.1 198.4,1578.2 195.5,1582.3 192.6,1578.2" fill="#fff" stroke="#A030F0" stroke-width="1.3"/>
<polygon points="267.5,1565.4 270.4,1569.5 267.5,1573.7 264.6,1569.5" fill="#fff" stroke="#A030F0" stroke-width="1.3"/>
<polygon points="339.5,1605.1 342.4,1609.2 339.5,1613.3 336.6,1609.2" fill="#fff" stroke="#A030F0" stroke-width="1.3"/>
<polygon points="411.5,1586.0 414.4,1590.1 411.5,1594.3 408.6,1590.1" fill="#fff" stroke="#A030F0" stroke-width="1.3"/>
<polygon points="483.5,1654.3 486.4,1658.4 483.5,1662.6 480.6,1658.4" fill="#fff" stroke="#A030F0" stroke-width="1.3"/>
<polygon points="555.5,1702.7 558.4,1706.8 555.5,1710.9 552.6,1706.8" fill="#fff" stroke="#A030F0" stroke-width="1.3"/>
<polyline points="195.5,1552.2 267.5,1540.2 339.5,1560.2 411.5,1586.9 483.5,1612.5 555.5,1669.9" fill="none" stroke="#738080" stroke-width="1.6" stroke-linejoin="round"/>
<polygon points="195.5,1548.4 196.6,1550.3 198.8,1550.3 197.7,1552.2 198.8,1554.1 196.6,1554.0 195.5,1556.0 194.4,1554.0 192.2,1554.1 193.3,1552.2 192.2,1550.3 194.4,1550.3" fill="#fff" stroke="#738080" stroke-width="1.3"/>
<polygon points="267.5,1536.5 268.6,1538.4 270.8,1538.4 269.7,1540.2 270.8,1542.1 268.6,1542.1 267.5,1544.0 266.4,1542.1 264.2,1542.1 265.3,1540.2 264.2,1538.4 266.4,1538.4" fill="#fff" stroke="#738080" stroke-width="1.3"/>
<polygon points="339.5,1556.4 340.6,1558.3 342.8,1558.3 341.7,1560.2 342.8,1562.1 340.6,1562.1 339.5,1564.0 338.4,1562.1 336.2,1562.1 337.3,1560.2 336.2,1558.3 338.4,1558.3" fill="#fff" stroke="#738080" stroke-width="1.3"/>
<polygon points="411.5,1583.1 412.6,1585.0 414.8,1585.0 413.7,1586.9 414.8,1588.8 412.6,1588.7 411.5,1590.7 410.4,1588.7 408.2,1588.8 409.3,1586.9 408.2,1585.0 410.4,1585.0" fill="#fff" stroke="#738080" stroke-width="1.3"/>
<polygon points="483.5,1608.7 484.6,1610.6 486.8,1610.6 485.7,1612.5 486.8,1614.4 484.6,1614.3 483.5,1616.2 482.4,1614.3 480.2,1614.4 481.3,1612.5 480.2,1610.6 482.4,1610.6" fill="#fff" stroke="#738080" stroke-width="1.3"/>
<polygon points="555.5,1666.2 556.6,1668.1 558.8,1668.0 557.7,1669.9 558.8,1671.8 556.6,1671.8 555.5,1673.7 554.4,1671.8 552.2,1671.8 553.3,1669.9 552.2,1668.0 554.4,1668.1" fill="#fff" stroke="#738080" stroke-width="1.3"/>
<polyline points="195.5,1518.6 267.5,1547.8 339.5,1556.5 411.5,1586.2 483.5,1624.4 555.5,1619.0" fill="none" stroke="#0000FF" stroke-width="1.6" stroke-dasharray="5 3.5" stroke-linejoin="round"/>
<polygon points="199.1,1518.6 191.9,1515.0 191.9,1522.2" fill="#fff" stroke="#0000FF" stroke-width="1.3"/>
<polygon points="271.1,1547.8 263.9,1544.2 263.9,1551.4" fill="#fff" stroke="#0000FF" stroke-width="1.3"/>
<polygon points="343.1,1556.5 335.9,1552.9 335.9,1560.1" fill="#fff" stroke="#0000FF" stroke-width="1.3"/>
<polygon points="415.1,1586.2 407.9,1582.6 407.9,1589.8" fill="#fff" stroke="#0000FF" stroke-width="1.3"/>
<polygon points="487.1,1624.4 479.9,1620.8 479.9,1628.0" fill="#fff" stroke="#0000FF" stroke-width="1.3"/>
<polygon points="559.1,1619.0 551.9,1615.4 551.9,1622.6" fill="#fff" stroke="#0000FF" stroke-width="1.3"/>
<polyline points="195.5,1493.6 267.5,1537.0 339.5,1574.9 411.5,1605.7 483.5,1653.7 555.5,1713.7" fill="none" stroke="#00EE00" stroke-width="1.7" stroke-linejoin="round"/>
<circle cx="195.5" cy="1493.6" r="3.6" fill="#fff" stroke="#00EE00" stroke-width="1.3"/>
<circle cx="267.5" cy="1537.0" r="3.6" fill="#fff" stroke="#00EE00" stroke-width="1.3"/>
<circle cx="339.5" cy="1574.9" r="3.6" fill="#fff" stroke="#00EE00" stroke-width="1.3"/>
<circle cx="411.5" cy="1605.7" r="3.6" fill="#fff" stroke="#00EE00" stroke-width="1.3"/>
<circle cx="483.5" cy="1653.7" r="3.6" fill="#fff" stroke="#00EE00" stroke-width="1.3"/>
<circle cx="555.5" cy="1713.7" r="3.6" fill="#fff" stroke="#00EE00" stroke-width="1.3"/>
<polyline points="195.5,1504.5 267.5,1511.0 339.5,1526.1 411.5,1533.3 483.5,1578.8 555.5,1675.8" fill="none" stroke="#00FFFF" stroke-width="1.7" stroke-linejoin="round"/>
<polygon points="195.5,1508.1 191.9,1501.6 199.1,1501.6" fill="#fff" stroke="#00FFFF" stroke-width="1.3"/>
<polygon points="267.5,1514.6 263.9,1508.1 271.1,1508.1" fill="#fff" stroke="#00FFFF" stroke-width="1.3"/>
<polygon points="339.5,1529.7 335.9,1523.3 343.1,1523.3" fill="#fff" stroke="#00FFFF" stroke-width="1.3"/>
<polygon points="411.5,1536.9 407.9,1530.4 415.1,1530.4" fill="#fff" stroke="#00FFFF" stroke-width="1.3"/>
<polygon points="483.5,1582.4 479.9,1576.0 487.1,1576.0" fill="#fff" stroke="#00FFFF" stroke-width="1.3"/>
<polygon points="555.5,1679.4 551.9,1672.9 559.1,1672.9" fill="#fff" stroke="#00FFFF" stroke-width="1.3"/>
<polyline points="195.5,1494.7 267.5,1495.8 339.5,1517.5 411.5,1527.7 483.5,1599.9 555.5,1655.2" fill="none" stroke="#000000" stroke-width="1.1" stroke-dasharray="1.2 1" stroke-linejoin="round"/>
<polygon points="195.5,1491.1 191.9,1497.6 199.1,1497.6" fill="#fff" stroke="#000000" stroke-width="1.3"/>
<polygon points="267.5,1492.2 263.9,1498.7 271.1,1498.7" fill="#fff" stroke="#000000" stroke-width="1.3"/>
<polygon points="339.5,1513.9 335.9,1520.4 343.1,1520.4" fill="#fff" stroke="#000000" stroke-width="1.3"/>
<polygon points="411.5,1524.1 407.9,1530.5 415.1,1530.5" fill="#fff" stroke="#000000" stroke-width="1.3"/>
<polygon points="483.5,1596.3 479.9,1602.8 487.1,1602.8" fill="#fff" stroke="#000000" stroke-width="1.3"/>
<polygon points="555.5,1651.6 551.9,1658.1 559.1,1658.1" fill="#fff" stroke="#000000" stroke-width="1.3"/>
<polyline points="195.5,1486.7 267.5,1488.6 339.5,1508.1 411.5,1519.0 483.5,1563.0 555.5,1594.9" fill="none" stroke="#FF0000" stroke-width="1.6" stroke-linejoin="round"/>
<rect x="191.9" y="1483.1" width="7.2" height="7.2" fill="#fff" stroke="#FF0000" stroke-width="1.3"/>
<rect x="263.9" y="1485.0" width="7.2" height="7.2" fill="#fff" stroke="#FF0000" stroke-width="1.3"/>
<rect x="335.9" y="1504.5" width="7.2" height="7.2" fill="#fff" stroke="#FF0000" stroke-width="1.3"/>
<rect x="407.9" y="1515.4" width="7.2" height="7.2" fill="#fff" stroke="#FF0000" stroke-width="1.3"/>
<rect x="479.9" y="1559.4" width="7.2" height="7.2" fill="#fff" stroke="#FF0000" stroke-width="1.3"/>
<rect x="551.9" y="1591.3" width="7.2" height="7.2" fill="#fff" stroke="#FF0000" stroke-width="1.3"/>
<text x="190.5" y="1494.3" font-family="'Liberation Sans',Arial,sans-serif" font-size="14" fill="#262626" text-anchor="end">0.65</text>
<text x="190.5" y="1552.8" font-family="'Liberation Sans',Arial,sans-serif" font-size="14" fill="#262626" text-anchor="end">0.6</text>
<text x="190.5" y="1611.0" font-family="'Liberation Sans',Arial,sans-serif" font-size="14" fill="#262626" text-anchor="end">0.55</text>
<text x="190.5" y="1669.5" font-family="'Liberation Sans',Arial,sans-serif" font-size="14" fill="#262626" text-anchor="end">0.5</text>
<text x="190.5" y="1728.5" font-family="'Liberation Sans',Arial,sans-serif" font-size="14" fill="#262626" text-anchor="end">0.45</text>
<path d="M267.5 1758.2v-4M267.5 1477.3v4M339.5 1758.2v-4M339.5 1477.3v4M411.5 1758.2v-4M411.5 1477.3v4M483.5 1758.2v-4M483.5 1477.3v4M195.5 1489.3h4M555.5 1489.3h-4M195.5 1547.8h4M555.5 1547.8h-4M195.5 1606.0h4M555.5 1606.0h-4M195.5 1664.5h4M555.5 1664.5h-4M195.5 1723.5h4M555.5 1723.5h-4" stroke="#262626" stroke-width="1.2"/>
<text x="195.5" y="1777.2" font-family="'Liberation Sans',Arial,sans-serif" font-size="14" fill="#262626" text-anchor="middle">0.3</text>
<text x="267.5" y="1777.2" font-family="'Liberation Sans',Arial,sans-serif" font-size="14" fill="#262626" text-anchor="middle">0.4</text>
<text x="339.5" y="1777.2" font-family="'Liberation Sans',Arial,sans-serif" font-size="14" fill="#262626" text-anchor="middle">0.5</text>
<text x="411.5" y="1777.2" font-family="'Liberation Sans',Arial,sans-serif" font-size="14" fill="#262626" text-anchor="middle">0.6</text>
<text x="483.5" y="1777.2" font-family="'Liberation Sans',Arial,sans-serif" font-size="14" fill="#262626" text-anchor="middle">0.7</text>
<text x="555.5" y="1777.2" font-family="'Liberation Sans',Arial,sans-serif" font-size="14" fill="#262626" text-anchor="middle">0.8</text>
<text x="160.5" y="1617.8" font-family="'Liberation Sans',Arial,sans-serif" font-size="14.5" fill="#262626" text-anchor="middle" transform="rotate(-90 160.5 1617.8)">Classification Accuracy</text>
<text x="375.5" y="1796.2" font-family="'Liberation Sans',Arial,sans-serif" font-size="14.5" fill="#262626" text-anchor="middle"><tspan font-family="'Liberation Serif','Times New Roman',serif" font-style="italic" font-size="13">ϵ</tspan>(co-occurring probability of the coupling label)</text>
<text x="215.0" y="1840.4" font-family="'Liberation Serif','Times New Roman',serif" font-size="34" textLength="271.4" lengthAdjust="spacing">(a) Glass (<tspan font-style="italic">p</tspan>=1, <tspan font-style="italic">r</tspan>=1)</text>
</g>
<g>
<rect x="631.8" y="1477.3" width="360.0" height="281.5" fill="none" stroke="#262626" stroke-width="1.3"/>
<polyline points="631.8,1626.6 703.8,1653.7 775.8,1660.6 847.8,1637.8 919.8,1670.4 991.8,1749.5" fill="none" stroke="#FFD21F" stroke-width="1.2" stroke-dasharray="1.5 1" stroke-linejoin="round"/>
<polygon points="631.8,1622.4 632.8,1625.2 635.7,1625.3 633.4,1627.1 634.2,1629.9 631.8,1628.2 629.4,1629.9 630.2,1627.1 627.9,1625.3 630.8,1625.2" fill="#fff" stroke="#FFD21F" stroke-width="1.4" stroke-linejoin="round"/>
<polygon points="703.8,1649.5 704.8,1652.3 707.7,1652.4 705.4,1654.2 706.2,1657.0 703.8,1655.4 701.4,1657.0 702.2,1654.2 699.9,1652.4 702.8,1652.3" fill="#fff" stroke="#FFD21F" stroke-width="1.4" stroke-linejoin="round"/>
<polygon points="775.8,1656.5 776.8,1659.2 779.7,1659.3 777.4,1661.1 778.2,1663.9 775.8,1662.3 773.4,1663.9 774.2,1661.1 771.9,1659.3 774.8,1659.2" fill="#fff" stroke="#FFD21F" stroke-width="1.4" stroke-linejoin="round"/>
<polygon points="847.8,1633.7 848.8,1636.5 851.7,1636.6 849.4,1638.4 850.2,1641.2 847.8,1639.5 845.4,1641.2 846.2,1638.4 843.9,1636.6 846.8,1636.5" fill="#fff" stroke="#FFD21F" stroke-width="1.4" stroke-linejoin="round"/>
<polygon points="919.8,1666.2 920.8,1669.0 923.7,1669.1 921.4,1670.9 922.2,1673.7 919.8,1672.1 917.4,1673.7 918.2,1670.9 915.9,1669.1 918.8,1669.0" fill="#fff" stroke="#FFD21F" stroke-width="1.4" stroke-linejoin="round"/>
<polygon points="991.8,1745.4 992.8,1748.2 995.7,1748.3 993.4,1750.0 994.2,1752.9 991.8,1751.2 989.4,1752.9 990.2,1750.0 987.9,1748.3 990.8,1748.2" fill="#fff" stroke="#FFD21F" stroke-width="1.4" stroke-linejoin="round"/>
<polyline points="631.8,1518.6 703.8,1531.6 775.8,1599.2 847.8,1616.1 919.8,1636.8 991.8,1659.1" fill="none" stroke="#D2691E" stroke-width="1.5" stroke-dasharray="5 3" stroke-linejoin="round"/>
<polygon points="628.2,1518.6 635.4,1515.0 635.4,1522.2" fill="#fff" stroke="#D2691E" stroke-width="1.3"/>
<polygon points="700.2,1531.6 707.4,1528.0 707.4,1535.2" fill="#fff" stroke="#D2691E" stroke-width="1.3"/>
<polygon points="772.2,1599.2 779.4,1595.6 779.4,1602.8" fill="#fff" stroke="#D2691E" stroke-width="1.3"/>
<polygon points="844.2,1616.1 851.4,1612.5 851.4,1619.7" fill="#fff" stroke="#D2691E" stroke-width="1.3"/>
<polygon points="916.2,1636.8 923.4,1633.2 923.4,1640.4" fill="#fff" stroke="#D2691E" stroke-width="1.3"/>
<polygon points="988.2,1659.1 995.4,1655.5 995.4,1662.7" fill="#fff" stroke="#D2691E" stroke-width="1.3"/>
<polyline points="631.8,1594.5 703.8,1590.6 775.8,1565.8 847.8,1621.6 919.8,1722.4 991.8,1721.3" fill="none" stroke="#A030F0" stroke-width="1.4" stroke-dasharray="5 2 1.5 2" stroke-linejoin="round"/>
<polygon points="631.8,1590.3 634.7,1594.5 631.8,1598.6 628.9,1594.5" fill="#fff" stroke="#A030F0" stroke-width="1.3"/>
<polygon points="703.8,1586.4 706.7,1590.6 703.8,1594.7 700.9,1590.6" fill="#fff" stroke="#A030F0" stroke-width="1.3"/>
<polygon points="775.8,1561.7 778.7,1565.8 775.8,1570.0 772.9,1565.8" fill="#fff" stroke="#A030F0" stroke-width="1.3"/>
<polygon points="847.8,1617.4 850.7,1621.6 847.8,1625.7 844.9,1621.6" fill="#fff" stroke="#A030F0" stroke-width="1.3"/>
<polygon points="919.8,1718.3 922.7,1722.4 919.8,1726.6 916.9,1722.4" fill="#fff" stroke="#A030F0" stroke-width="1.3"/>
<polygon points="991.8,1717.2 994.7,1721.3 991.8,1725.5 988.9,1721.3" fill="#fff" stroke="#A030F0" stroke-width="1.3"/>
<polyline points="631.8,1561.5 703.8,1560.4 775.8,1534.2 847.8,1583.6 919.8,1664.9 991.8,1690.3" fill="none" stroke="#738080" stroke-width="1.6" stroke-linejoin="round"/>
<polygon points="631.8,1557.7 632.9,1559.6 635.1,1559.6 634.0,1561.5 635.1,1563.4 632.9,1563.4 631.8,1565.3 630.7,1563.4 628.5,1563.4 629.6,1561.5 628.5,1559.6 630.7,1559.6" fill="#fff" stroke="#738080" stroke-width="1.3"/>
<polygon points="703.8,1556.6 704.9,1558.5 707.1,1558.5 706.0,1560.4 707.1,1562.3 704.9,1562.3 703.8,1564.2 702.7,1562.3 700.5,1562.3 701.7,1560.4 700.5,1558.5 702.7,1558.5" fill="#fff" stroke="#738080" stroke-width="1.3"/>
<polygon points="775.8,1530.4 776.9,1532.3 779.1,1532.3 778.0,1534.2 779.1,1536.1 776.9,1536.0 775.8,1538.0 774.7,1536.0 772.5,1536.1 773.7,1534.2 772.5,1532.3 774.7,1532.3" fill="#fff" stroke="#738080" stroke-width="1.3"/>
<polygon points="847.8,1579.8 848.9,1581.7 851.1,1581.7 850.0,1583.6 851.1,1585.5 848.9,1585.5 847.8,1587.4 846.7,1585.5 844.5,1585.5 845.7,1583.6 844.5,1581.7 846.7,1581.7" fill="#fff" stroke="#738080" stroke-width="1.3"/>
<polygon points="919.8,1661.2 920.9,1663.1 923.1,1663.1 922.0,1664.9 923.1,1666.8 920.9,1666.8 919.8,1668.7 918.7,1666.8 916.5,1666.8 917.7,1664.9 916.5,1663.1 918.7,1663.1" fill="#fff" stroke="#738080" stroke-width="1.3"/>
<polygon points="991.8,1686.5 992.9,1688.4 995.1,1688.4 994.0,1690.3 995.1,1692.2 992.9,1692.2 991.8,1694.1 990.7,1692.2 988.5,1692.2 989.7,1690.3 988.5,1688.4 990.7,1688.4" fill="#fff" stroke="#738080" stroke-width="1.3"/>
<polyline points="631.8,1550.0 703.8,1543.1 775.8,1523.3 847.8,1553.3 919.8,1615.1 991.8,1636.8" fill="none" stroke="#0000FF" stroke-width="1.6" stroke-dasharray="5 3.5" stroke-linejoin="round"/>
<polygon points="635.4,1550.0 628.2,1546.4 628.2,1553.6" fill="#fff" stroke="#0000FF" stroke-width="1.3"/>
<polygon points="707.4,1543.1 700.2,1539.5 700.2,1546.7" fill="#fff" stroke="#0000FF" stroke-width="1.3"/>
<polygon points="779.4,1523.3 772.2,1519.7 772.2,1526.9" fill="#fff" stroke="#0000FF" stroke-width="1.3"/>
<polygon points="851.4,1553.3 844.2,1549.7 844.2,1556.9" fill="#fff" stroke="#0000FF" stroke-width="1.3"/>
<polygon points="923.4,1615.1 916.2,1611.5 916.2,1618.7" fill="#fff" stroke="#0000FF" stroke-width="1.3"/>
<polygon points="995.4,1636.8 988.2,1633.2 988.2,1640.4" fill="#fff" stroke="#0000FF" stroke-width="1.3"/>
<polyline points="631.8,1496.9 703.8,1503.8 775.8,1539.8 847.8,1545.7 919.8,1591.2 991.8,1652.6" fill="none" stroke="#00EE00" stroke-width="1.7" stroke-linejoin="round"/>
<circle cx="631.8" cy="1496.9" r="3.6" fill="#fff" stroke="#00EE00" stroke-width="1.3"/>
<circle cx="703.8" cy="1503.8" r="3.6" fill="#fff" stroke="#00EE00" stroke-width="1.3"/>
<circle cx="775.8" cy="1539.8" r="3.6" fill="#fff" stroke="#00EE00" stroke-width="1.3"/>
<circle cx="847.8" cy="1545.7" r="3.6" fill="#fff" stroke="#00EE00" stroke-width="1.3"/>
<circle cx="919.8" cy="1591.2" r="3.6" fill="#fff" stroke="#00EE00" stroke-width="1.3"/>
<circle cx="991.8" cy="1652.6" r="3.6" fill="#fff" stroke="#00EE00" stroke-width="1.3"/>
<polyline points="631.8,1487.8 703.8,1498.0 775.8,1507.7 847.8,1525.1 919.8,1597.7 991.8,1636.8" fill="none" stroke="#00FFFF" stroke-width="1.7" stroke-linejoin="round"/>
<polygon points="631.8,1491.4 628.2,1484.9 635.4,1484.9" fill="#fff" stroke="#00FFFF" stroke-width="1.3"/>
<polygon points="703.8,1501.6 700.2,1495.1 707.4,1495.1" fill="#fff" stroke="#00FFFF" stroke-width="1.3"/>
<polygon points="775.8,1511.3 772.2,1504.8 779.4,1504.8" fill="#fff" stroke="#00FFFF" stroke-width="1.3"/>
<polygon points="847.8,1528.7 844.2,1522.2 851.4,1522.2" fill="#fff" stroke="#00FFFF" stroke-width="1.3"/>
<polygon points="919.8,1601.3 916.2,1594.8 923.4,1594.8" fill="#fff" stroke="#00FFFF" stroke-width="1.3"/>
<polygon points="991.8,1640.4 988.2,1633.9 995.4,1633.9" fill="#fff" stroke="#00FFFF" stroke-width="1.3"/>
<polyline points="631.8,1491.4 703.8,1491.4 775.8,1498.0 847.8,1506.0 919.8,1585.8 991.8,1655.2" fill="none" stroke="#000000" stroke-width="1.1" stroke-dasharray="1.2 1" stroke-linejoin="round"/>
<polygon points="631.8,1487.8 628.2,1494.3 635.4,1494.3" fill="#fff" stroke="#000000" stroke-width="1.3"/>
<polygon points="703.8,1487.8 700.2,1494.3 707.4,1494.3" fill="#fff" stroke="#000000" stroke-width="1.3"/>
<polygon points="775.8,1494.4 772.2,1500.8 779.4,1500.8" fill="#fff" stroke="#000000" stroke-width="1.3"/>
<polygon points="847.8,1502.4 844.2,1508.9 851.4,1508.9" fill="#fff" stroke="#000000" stroke-width="1.3"/>
<polygon points="919.8,1582.2 916.2,1588.7 923.4,1588.7" fill="#fff" stroke="#000000" stroke-width="1.3"/>
<polygon points="991.8,1651.6 988.2,1658.1 995.4,1658.1" fill="#fff" stroke="#000000" stroke-width="1.3"/>
<polyline points="631.8,1486.5 703.8,1491.0 775.8,1492.1 847.8,1499.0 919.8,1562.4 991.8,1606.4" fill="none" stroke="#FF0000" stroke-width="1.6" stroke-linejoin="round"/>
<rect x="628.2" y="1482.9" width="7.2" height="7.2" fill="#fff" stroke="#FF0000" stroke-width="1.3"/>
<rect x="700.2" y="1487.4" width="7.2" height="7.2" fill="#fff" stroke="#FF0000" stroke-width="1.3"/>
<rect x="772.2" y="1488.5" width="7.2" height="7.2" fill="#fff" stroke="#FF0000" stroke-width="1.3"/>
<rect x="844.2" y="1495.4" width="7.2" height="7.2" fill="#fff" stroke="#FF0000" stroke-width="1.3"/>
<rect x="916.2" y="1558.8" width="7.2" height="7.2" fill="#fff" stroke="#FF0000" stroke-width="1.3"/>
<rect x="988.2" y="1602.8" width="7.2" height="7.2" fill="#fff" stroke="#FF0000" stroke-width="1.3"/>
<text x="626.8" y="1524.0" font-family="'Liberation Sans',Arial,sans-serif" font-size="14" fill="#262626" text-anchor="end">0.7</text>
<text x="626.8" y="1594.7" font-family="'Liberation Sans',Arial,sans-serif" font-size="14" fill="#262626" text-anchor="end">0.65</text>
<text x="626.8" y="1665.0" font-family="'Liberation Sans',Arial,sans-serif" font-size="14" fill="#262626" text-anchor="end">0.6</text>
<text x="626.8" y="1735.2" font-family="'Liberation Sans',Arial,sans-serif" font-size="14" fill="#262626" text-anchor="end">0.55</text>
<path d="M703.8 1758.9v-4M703.8 1477.3v4M775.8 1758.9v-4M775.8 1477.3v4M847.8 1758.9v-4M847.8 1477.3v4M919.8 1758.9v-4M919.8 1477.3v4M631.8 1519.0h4M991.8 1519.0h-4M631.8 1589.7h4M991.8 1589.7h-4M631.8 1660.0h4M991.8 1660.0h-4M631.8 1730.2h4M991.8 1730.2h-4" stroke="#262626" stroke-width="1.2"/>
<text x="631.8" y="1777.9" font-family="'Liberation Sans',Arial,sans-serif" font-size="14" fill="#262626" text-anchor="middle">0.3</text>
<text x="703.8" y="1777.9" font-family="'Liberation Sans',Arial,sans-serif" font-size="14" fill="#262626" text-anchor="middle">0.4</text>
<text x="775.8" y="1777.9" font-family="'Liberation Sans',Arial,sans-serif" font-size="14" fill="#262626" text-anchor="middle">0.5</text>
<text x="847.8" y="1777.9" font-family="'Liberation Sans',Arial,sans-serif" font-size="14" fill="#262626" text-anchor="middle">0.6</text>
<text x="919.8" y="1777.9" font-family="'Liberation Sans',Arial,sans-serif" font-size="14" fill="#262626" text-anchor="middle">0.7</text>
<text x="991.8" y="1777.9" font-family="'Liberation Sans',Arial,sans-serif" font-size="14" fill="#262626" text-anchor="middle">0.8</text>
<text x="596.8" y="1618.1" font-family="'Liberation Sans',Arial,sans-serif" font-size="14.5" fill="#262626" text-anchor="middle" transform="rotate(-90 596.8 1618.1)">Classification Accuracy</text>
<text x="811.8" y="1796.9" font-family="'Liberation Sans',Arial,sans-serif" font-size="14.5" fill="#262626" text-anchor="middle"><tspan font-family="'Liberation Serif','Times New Roman',serif" font-style="italic" font-size="13">ϵ</tspan>(co-occurring probability of the coupling label)</text>
<text x="654.4" y="1840.4" font-family="'Liberation Serif','Times New Roman',serif" font-size="34" textLength="265.3" lengthAdjust="spacing">(b) Steel (<tspan font-style="italic">p</tspan>=1, <tspan font-style="italic">r</tspan>=1)</text>
</g>
<g>
<rect x="1067.9" y="1477.3" width="360.4" height="280.9" fill="none" stroke="#262626" stroke-width="1.3"/>
<polyline points="1067.9,1548.5 1140.0,1568.4 1212.1,1531.1 1284.2,1588.0 1356.2,1621.6 1428.3,1732.2" fill="none" stroke="#FFD21F" stroke-width="1.2" stroke-dasharray="1.5 1" stroke-linejoin="round"/>
<polygon points="1067.9,1544.4 1068.9,1547.1 1071.8,1547.2 1069.5,1549.0 1070.3,1551.8 1067.9,1550.2 1065.5,1551.8 1066.3,1549.0 1064.0,1547.2 1066.9,1547.1" fill="#fff" stroke="#FFD21F" stroke-width="1.4" stroke-linejoin="round"/>
<polygon points="1140.0,1564.3 1141.0,1567.1 1143.9,1567.2 1141.6,1569.0 1142.4,1571.8 1140.0,1570.1 1137.6,1571.8 1138.4,1569.0 1136.1,1567.2 1139.0,1567.1" fill="#fff" stroke="#FFD21F" stroke-width="1.4" stroke-linejoin="round"/>
<polygon points="1212.1,1527.0 1213.1,1529.8 1216.0,1529.9 1213.7,1531.7 1214.5,1534.5 1212.1,1532.8 1209.6,1534.5 1210.5,1531.7 1208.1,1529.9 1211.1,1529.8" fill="#fff" stroke="#FFD21F" stroke-width="1.4" stroke-linejoin="round"/>
<polygon points="1284.2,1583.8 1285.2,1586.6 1288.1,1586.7 1285.8,1588.5 1286.6,1591.3 1284.2,1589.6 1281.7,1591.3 1282.6,1588.5 1280.2,1586.7 1283.2,1586.6" fill="#fff" stroke="#FFD21F" stroke-width="1.4" stroke-linejoin="round"/>
<polygon points="1356.2,1617.4 1357.2,1620.2 1360.2,1620.3 1357.9,1622.1 1358.7,1624.9 1356.2,1623.3 1353.8,1624.9 1354.6,1622.1 1352.3,1620.3 1355.3,1620.2" fill="#fff" stroke="#FFD21F" stroke-width="1.4" stroke-linejoin="round"/>
<polygon points="1428.3,1728.1 1429.3,1730.8 1432.3,1730.9 1429.9,1732.7 1430.8,1735.5 1428.3,1733.9 1425.9,1735.5 1426.7,1732.7 1424.4,1730.9 1427.3,1730.8" fill="#fff" stroke="#FFD21F" stroke-width="1.4" stroke-linejoin="round"/>
<polyline points="1067.9,1544.1 1140.0,1543.1 1212.1,1528.3 1284.2,1561.5 1356.2,1588.4 1428.3,1630.9" fill="none" stroke="#D2691E" stroke-width="1.5" stroke-dasharray="5 3" stroke-linejoin="round"/>
<polygon points="1064.3,1544.1 1071.5,1540.5 1071.5,1547.7" fill="#fff" stroke="#D2691E" stroke-width="1.3"/>
<polygon points="1136.4,1543.1 1143.6,1539.5 1143.6,1546.7" fill="#fff" stroke="#D2691E" stroke-width="1.3"/>
<polygon points="1208.5,1528.3 1215.7,1524.7 1215.7,1531.9" fill="#fff" stroke="#D2691E" stroke-width="1.3"/>
<polygon points="1280.6,1561.5 1287.8,1557.9 1287.8,1565.1" fill="#fff" stroke="#D2691E" stroke-width="1.3"/>
<polygon points="1352.6,1588.4 1359.8,1584.8 1359.8,1592.0" fill="#fff" stroke="#D2691E" stroke-width="1.3"/>
<polygon points="1424.7,1630.9 1431.9,1627.3 1431.9,1634.5" fill="#fff" stroke="#D2691E" stroke-width="1.3"/>
<polyline points="1067.9,1561.5 1140.0,1559.8 1212.1,1569.5 1284.2,1572.8 1356.2,1667.1 1428.3,1667.1" fill="none" stroke="#A030F0" stroke-width="1.4" stroke-dasharray="5 2 1.5 2" stroke-linejoin="round"/>
<polygon points="1067.9,1557.4 1070.8,1561.5 1067.9,1565.6 1065.0,1561.5" fill="#fff" stroke="#A030F0" stroke-width="1.3"/>
<polygon points="1140.0,1555.6 1142.9,1559.8 1140.0,1563.9 1137.1,1559.8" fill="#fff" stroke="#A030F0" stroke-width="1.3"/>
<polygon points="1212.1,1565.4 1215.0,1569.5 1212.1,1573.7 1209.2,1569.5" fill="#fff" stroke="#A030F0" stroke-width="1.3"/>
<polygon points="1284.2,1568.6 1287.0,1572.8 1284.2,1576.9 1281.3,1572.8" fill="#fff" stroke="#A030F0" stroke-width="1.3"/>
<polygon points="1356.2,1663.0 1359.1,1667.1 1356.2,1671.3 1353.4,1667.1" fill="#fff" stroke="#A030F0" stroke-width="1.3"/>
<polygon points="1428.3,1663.0 1431.2,1667.1 1428.3,1671.3 1425.5,1667.1" fill="#fff" stroke="#A030F0" stroke-width="1.3"/>
<polyline points="1067.9,1527.2 1140.0,1532.7 1212.1,1521.2 1284.2,1547.8 1356.2,1564.5 1428.3,1590.6" fill="none" stroke="#738080" stroke-width="1.6" stroke-linejoin="round"/>
<polygon points="1067.9,1523.5 1069.0,1525.4 1071.2,1525.3 1070.1,1527.2 1071.2,1529.1 1069.0,1529.1 1067.9,1531.0 1066.8,1529.1 1064.6,1529.1 1065.7,1527.2 1064.6,1525.3 1066.8,1525.4" fill="#fff" stroke="#738080" stroke-width="1.3"/>
<polygon points="1140.0,1528.9 1141.1,1530.8 1143.3,1530.8 1142.1,1532.7 1143.3,1534.5 1141.1,1534.5 1140.0,1536.4 1138.9,1534.5 1136.7,1534.5 1137.8,1532.7 1136.7,1530.8 1138.9,1530.8" fill="#fff" stroke="#738080" stroke-width="1.3"/>
<polygon points="1212.1,1517.4 1213.2,1519.3 1215.3,1519.3 1214.2,1521.2 1215.3,1523.0 1213.2,1523.0 1212.1,1524.9 1211.0,1523.0 1208.8,1523.0 1209.9,1521.2 1208.8,1519.3 1211.0,1519.3" fill="#fff" stroke="#738080" stroke-width="1.3"/>
<polygon points="1284.2,1544.1 1285.2,1546.0 1287.4,1545.9 1286.3,1547.8 1287.4,1549.7 1285.2,1549.7 1284.2,1551.6 1283.1,1549.7 1280.9,1549.7 1282.0,1547.8 1280.9,1545.9 1283.1,1546.0" fill="#fff" stroke="#738080" stroke-width="1.3"/>
<polygon points="1356.2,1560.8 1357.3,1562.7 1359.5,1562.6 1358.4,1564.5 1359.5,1566.4 1357.3,1566.4 1356.2,1568.3 1355.2,1566.4 1353.0,1566.4 1354.1,1564.5 1353.0,1562.6 1355.2,1562.7" fill="#fff" stroke="#738080" stroke-width="1.3"/>
<polygon points="1428.3,1586.8 1429.4,1588.7 1431.6,1588.7 1430.5,1590.6 1431.6,1592.4 1429.4,1592.4 1428.3,1594.3 1427.3,1592.4 1425.1,1592.4 1426.2,1590.6 1425.1,1588.7 1427.3,1588.7" fill="#fff" stroke="#738080" stroke-width="1.3"/>
<polyline points="1067.9,1618.3 1140.0,1636.1 1212.1,1636.8 1284.2,1735.4 1356.2,1723.5 1428.3,1737.6" fill="none" stroke="#0000FF" stroke-width="1.6" stroke-dasharray="5 3.5" stroke-linejoin="round"/>
<polygon points="1071.5,1618.3 1064.3,1614.7 1064.3,1621.9" fill="#fff" stroke="#0000FF" stroke-width="1.3"/>
<polygon points="1143.6,1636.1 1136.4,1632.5 1136.4,1639.7" fill="#fff" stroke="#0000FF" stroke-width="1.3"/>
<polygon points="1215.7,1636.8 1208.5,1633.2 1208.5,1640.4" fill="#fff" stroke="#0000FF" stroke-width="1.3"/>
<polygon points="1287.8,1735.4 1280.6,1731.8 1280.6,1739.0" fill="#fff" stroke="#0000FF" stroke-width="1.3"/>
<polygon points="1359.8,1723.5 1352.6,1719.9 1352.6,1727.1" fill="#fff" stroke="#0000FF" stroke-width="1.3"/>
<polygon points="1431.9,1737.6 1424.7,1734.0 1424.7,1741.2" fill="#fff" stroke="#0000FF" stroke-width="1.3"/>
<polyline points="1067.9,1502.9 1140.0,1509.4 1212.1,1514.2 1284.2,1538.5 1356.2,1614.0 1428.3,1598.8" fill="none" stroke="#00EE00" stroke-width="1.7" stroke-linejoin="round"/>
<circle cx="1067.9" cy="1502.9" r="3.6" fill="#fff" stroke="#00EE00" stroke-width="1.3"/>
<circle cx="1140.0" cy="1509.4" r="3.6" fill="#fff" stroke="#00EE00" stroke-width="1.3"/>
<circle cx="1212.1" cy="1514.2" r="3.6" fill="#fff" stroke="#00EE00" stroke-width="1.3"/>
<circle cx="1284.2" cy="1538.5" r="3.6" fill="#fff" stroke="#00EE00" stroke-width="1.3"/>
<circle cx="1356.2" cy="1614.0" r="3.6" fill="#fff" stroke="#00EE00" stroke-width="1.3"/>
<circle cx="1428.3" cy="1598.8" r="3.6" fill="#fff" stroke="#00EE00" stroke-width="1.3"/>
<polyline points="1067.9,1506.6 1140.0,1518.1 1212.1,1506.6 1284.2,1557.6 1356.2,1596.2 1428.3,1597.7" fill="none" stroke="#00FFFF" stroke-width="1.7" stroke-linejoin="round"/>
<polygon points="1067.9,1510.2 1064.3,1503.7 1071.5,1503.7" fill="#fff" stroke="#00FFFF" stroke-width="1.3"/>
<polygon points="1140.0,1521.7 1136.4,1515.2 1143.6,1515.2" fill="#fff" stroke="#00FFFF" stroke-width="1.3"/>
<polygon points="1212.1,1510.2 1208.5,1503.7 1215.7,1503.7" fill="#fff" stroke="#00FFFF" stroke-width="1.3"/>
<polygon points="1284.2,1561.2 1280.6,1554.7 1287.8,1554.7" fill="#fff" stroke="#00FFFF" stroke-width="1.3"/>
<polygon points="1356.2,1599.8 1352.6,1593.3 1359.8,1593.3" fill="#fff" stroke="#00FFFF" stroke-width="1.3"/>
<polygon points="1428.3,1601.3 1424.7,1594.8 1431.9,1594.8" fill="#fff" stroke="#00FFFF" stroke-width="1.3"/>
<polyline points="1067.9,1503.4 1140.0,1516.4 1212.1,1508.8 1284.2,1559.3 1356.2,1570.6 1428.3,1594.9" fill="none" stroke="#000000" stroke-width="1.1" stroke-dasharray="1.2 1" stroke-linejoin="round"/>
<polygon points="1067.9,1499.8 1064.3,1506.3 1071.5,1506.3" fill="#fff" stroke="#000000" stroke-width="1.3"/>
<polygon points="1140.0,1512.8 1136.4,1519.3 1143.6,1519.3" fill="#fff" stroke="#000000" stroke-width="1.3"/>
<polygon points="1212.1,1505.2 1208.5,1511.7 1215.7,1511.7" fill="#fff" stroke="#000000" stroke-width="1.3"/>
<polygon points="1284.2,1555.7 1280.6,1562.2 1287.8,1562.2" fill="#fff" stroke="#000000" stroke-width="1.3"/>
<polygon points="1356.2,1567.0 1352.6,1573.5 1359.8,1573.5" fill="#fff" stroke="#000000" stroke-width="1.3"/>
<polygon points="1428.3,1591.3 1424.7,1597.8 1431.9,1597.8" fill="#fff" stroke="#000000" stroke-width="1.3"/>
<polyline points="1067.9,1495.8 1140.0,1500.1 1212.1,1489.3 1284.2,1527.2 1356.2,1543.9 1428.3,1542.8" fill="none" stroke="#FF0000" stroke-width="1.6" stroke-linejoin="round"/>
<rect x="1064.3" y="1492.2" width="7.2" height="7.2" fill="#fff" stroke="#FF0000" stroke-width="1.3"/>
<rect x="1136.4" y="1496.5" width="7.2" height="7.2" fill="#fff" stroke="#FF0000" stroke-width="1.3"/>
<rect x="1208.5" y="1485.7" width="7.2" height="7.2" fill="#fff" stroke="#FF0000" stroke-width="1.3"/>
<rect x="1280.6" y="1523.6" width="7.2" height="7.2" fill="#fff" stroke="#FF0000" stroke-width="1.3"/>
<rect x="1352.6" y="1540.3" width="7.2" height="7.2" fill="#fff" stroke="#FF0000" stroke-width="1.3"/>
<rect x="1424.7" y="1539.2" width="7.2" height="7.2" fill="#fff" stroke="#FF0000" stroke-width="1.3"/>
<text x="1062.9" y="1517.5" font-family="'Liberation Sans',Arial,sans-serif" font-size="14" fill="#262626" text-anchor="end">0.85</text>
<text x="1062.9" y="1605.3" font-family="'Liberation Sans',Arial,sans-serif" font-size="14" fill="#262626" text-anchor="end">0.8</text>
<text x="1062.9" y="1693.2" font-family="'Liberation Sans',Arial,sans-serif" font-size="14" fill="#262626" text-anchor="end">0.75</text>
<path d="M1140.0 1758.2v-4M1140.0 1477.3v4M1212.1 1758.2v-4M1212.1 1477.3v4M1284.2 1758.2v-4M1284.2 1477.3v4M1356.2 1758.2v-4M1356.2 1477.3v4M1067.9 1512.5h4M1428.3 1512.5h-4M1067.9 1600.3h4M1428.3 1600.3h-4M1067.9 1688.2h4M1428.3 1688.2h-4" stroke="#262626" stroke-width="1.2"/>
<text x="1067.9" y="1777.2" font-family="'Liberation Sans',Arial,sans-serif" font-size="14" fill="#262626" text-anchor="middle">0.3</text>
<text x="1140.0" y="1777.2" font-family="'Liberation Sans',Arial,sans-serif" font-size="14" fill="#262626" text-anchor="middle">0.4</text>
<text x="1212.1" y="1777.2" font-family="'Liberation Sans',Arial,sans-serif" font-size="14" fill="#262626" text-anchor="middle">0.5</text>
<text x="1284.2" y="1777.2" font-family="'Liberation Sans',Arial,sans-serif" font-size="14" fill="#262626" text-anchor="middle">0.6</text>
<text x="1356.2" y="1777.2" font-family="'Liberation Sans',Arial,sans-serif" font-size="14" fill="#262626" text-anchor="middle">0.7</text>
<text x="1428.3" y="1777.2" font-family="'Liberation Sans',Arial,sans-serif" font-size="14" fill="#262626" text-anchor="middle">0.8</text>
<text x="1032.9" y="1617.8" font-family="'Liberation Sans',Arial,sans-serif" font-size="14.5" fill="#262626" text-anchor="middle" transform="rotate(-90 1032.9 1617.8)">Classification Accuracy</text>
<text x="1248.1" y="1796.2" font-family="'Liberation Sans',Arial,sans-serif" font-size="14.5" fill="#262626" text-anchor="middle"><tspan font-family="'Liberation Serif','Times New Roman',serif" font-style="italic" font-size="13">ϵ</tspan>(co-occurring probability of the coupling label)</text>
<text x="1089.8" y="1840.4" font-family="'Liberation Serif','Times New Roman',serif" font-size="34" textLength="267.2" lengthAdjust="spacing">(c) Ecoli (<tspan font-style="italic">p</tspan>=1, <tspan font-style="italic">r</tspan>=1)</text>
</g>
<g>
<rect x="195.5" y="1890.6" width="360.0" height="281.1" fill="none" stroke="#262626" stroke-width="1.3"/>
<polyline points="195.5,2051.8 267.5,2048.9 339.5,2040.9 411.5,2051.8 483.5,2057.2 555.5,2134.2" fill="none" stroke="#FFD21F" stroke-width="1.2" stroke-dasharray="1.5 1" stroke-linejoin="round"/>
<polygon points="195.5,2047.6 196.5,2050.4 199.4,2050.5 197.1,2052.3 197.9,2055.1 195.5,2053.4 193.1,2055.1 193.9,2052.3 191.6,2050.5 194.5,2050.4" fill="#fff" stroke="#FFD21F" stroke-width="1.4" stroke-linejoin="round"/>
<polygon points="267.5,2044.8 268.5,2047.6 271.4,2047.7 269.1,2049.5 269.9,2052.3 267.5,2050.6 265.1,2052.3 265.9,2049.5 263.6,2047.7 266.5,2047.6" fill="#fff" stroke="#FFD21F" stroke-width="1.4" stroke-linejoin="round"/>
<polygon points="339.5,2036.8 340.5,2039.5 343.4,2039.6 341.1,2041.4 341.9,2044.2 339.5,2042.6 337.1,2044.2 337.9,2041.4 335.6,2039.6 338.5,2039.5" fill="#fff" stroke="#FFD21F" stroke-width="1.4" stroke-linejoin="round"/>
<polygon points="411.5,2047.6 412.5,2050.4 415.4,2050.5 413.1,2052.3 413.9,2055.1 411.5,2053.4 409.1,2055.1 409.9,2052.3 407.6,2050.5 410.5,2050.4" fill="#fff" stroke="#FFD21F" stroke-width="1.4" stroke-linejoin="round"/>
<polygon points="483.5,2053.0 484.5,2055.8 487.4,2055.9 485.1,2057.7 485.9,2060.5 483.5,2058.9 481.1,2060.5 481.9,2057.7 479.6,2055.9 482.5,2055.8" fill="#fff" stroke="#FFD21F" stroke-width="1.4" stroke-linejoin="round"/>
<polygon points="555.5,2130.0 556.5,2132.8 559.4,2132.9 557.1,2134.7 557.9,2137.5 555.5,2135.9 553.1,2137.5 553.9,2134.7 551.6,2132.9 554.5,2132.8" fill="#fff" stroke="#FFD21F" stroke-width="1.4" stroke-linejoin="round"/>
<polyline points="195.5,2023.6 267.5,2000.4 339.5,2022.9 411.5,2034.0 483.5,2059.8 555.5,2145.7" fill="none" stroke="#D2691E" stroke-width="1.5" stroke-dasharray="5 3" stroke-linejoin="round"/>
<polygon points="191.9,2023.6 199.1,2020.0 199.1,2027.2" fill="#fff" stroke="#D2691E" stroke-width="1.3"/>
<polygon points="263.9,2000.4 271.1,1996.8 271.1,2004.0" fill="#fff" stroke="#D2691E" stroke-width="1.3"/>
<polygon points="335.9,2022.9 343.1,2019.3 343.1,2026.5" fill="#fff" stroke="#D2691E" stroke-width="1.3"/>
<polygon points="407.9,2034.0 415.1,2030.4 415.1,2037.6" fill="#fff" stroke="#D2691E" stroke-width="1.3"/>
<polygon points="479.9,2059.8 487.1,2056.2 487.1,2063.4" fill="#fff" stroke="#D2691E" stroke-width="1.3"/>
<polygon points="551.9,2145.7 559.1,2142.1 559.1,2149.3" fill="#fff" stroke="#D2691E" stroke-width="1.3"/>
<polyline points="195.5,1969.8 267.5,1971.5 339.5,2017.5 411.5,2023.1 483.5,2085.8 555.5,2166.7" fill="none" stroke="#A030F0" stroke-width="1.4" stroke-dasharray="5 2 1.5 2" stroke-linejoin="round"/>
<polygon points="195.5,1965.6 198.4,1969.8 195.5,1973.9 192.6,1969.8" fill="#fff" stroke="#A030F0" stroke-width="1.3"/>
<polygon points="267.5,1967.4 270.4,1971.5 267.5,1975.6 264.6,1971.5" fill="#fff" stroke="#A030F0" stroke-width="1.3"/>
<polygon points="339.5,2013.3 342.4,2017.5 339.5,2021.6 336.6,2017.5" fill="#fff" stroke="#A030F0" stroke-width="1.3"/>
<polygon points="411.5,2019.0 414.4,2023.1 411.5,2027.3 408.6,2023.1" fill="#fff" stroke="#A030F0" stroke-width="1.3"/>
<polygon points="483.5,2081.7 486.4,2085.8 483.5,2089.9 480.6,2085.8" fill="#fff" stroke="#A030F0" stroke-width="1.3"/>
<polygon points="555.5,2162.6 558.4,2166.7 555.5,2170.8 552.6,2166.7" fill="#fff" stroke="#A030F0" stroke-width="1.3"/>
<polyline points="195.5,1934.0 267.5,1934.0 339.5,1995.4 411.5,2015.5 483.5,2066.9 555.5,2151.5" fill="none" stroke="#738080" stroke-width="1.6" stroke-linejoin="round"/>
<polygon points="195.5,1930.2 196.6,1932.1 198.8,1932.1 197.7,1934.0 198.8,1935.9 196.6,1935.9 195.5,1937.8 194.4,1935.9 192.2,1935.9 193.3,1934.0 192.2,1932.1 194.4,1932.1" fill="#fff" stroke="#738080" stroke-width="1.3"/>
<polygon points="267.5,1930.2 268.6,1932.1 270.8,1932.1 269.7,1934.0 270.8,1935.9 268.6,1935.9 267.5,1937.8 266.4,1935.9 264.2,1935.9 265.3,1934.0 264.2,1932.1 266.4,1932.1" fill="#fff" stroke="#738080" stroke-width="1.3"/>
<polygon points="339.5,1991.6 340.6,1993.5 342.8,1993.5 341.7,1995.4 342.8,1997.3 340.6,1997.2 339.5,1999.1 338.4,1997.2 336.2,1997.3 337.3,1995.4 336.2,1993.5 338.4,1993.5" fill="#fff" stroke="#738080" stroke-width="1.3"/>
<polygon points="411.5,2011.8 412.6,2013.7 414.8,2013.6 413.7,2015.5 414.8,2017.4 412.6,2017.4 411.5,2019.3 410.4,2017.4 408.2,2017.4 409.3,2015.5 408.2,2013.6 410.4,2013.7" fill="#fff" stroke="#738080" stroke-width="1.3"/>
<polygon points="483.5,2063.2 484.6,2065.1 486.8,2065.0 485.7,2066.9 486.8,2068.8 484.6,2068.8 483.5,2070.7 482.4,2068.8 480.2,2068.8 481.3,2066.9 480.2,2065.0 482.4,2065.1" fill="#fff" stroke="#738080" stroke-width="1.3"/>
<polygon points="555.5,2147.7 556.6,2149.6 558.8,2149.6 557.7,2151.5 558.8,2153.4 556.6,2153.4 555.5,2155.3 554.4,2153.4 552.2,2153.4 553.3,2151.5 552.2,2149.6 554.4,2149.6" fill="#fff" stroke="#738080" stroke-width="1.3"/>
<polyline points="195.5,2079.9 267.5,2059.3 339.5,2059.3 411.5,2109.7 483.5,2128.7 555.5,2164.5" fill="none" stroke="#0000FF" stroke-width="1.6" stroke-dasharray="5 3.5" stroke-linejoin="round"/>
<polygon points="199.1,2079.9 191.9,2076.3 191.9,2083.5" fill="#fff" stroke="#0000FF" stroke-width="1.3"/>
<polygon points="271.1,2059.3 263.9,2055.7 263.9,2062.9" fill="#fff" stroke="#0000FF" stroke-width="1.3"/>
<polygon points="343.1,2059.3 335.9,2055.7 335.9,2062.9" fill="#fff" stroke="#0000FF" stroke-width="1.3"/>
<polygon points="415.1,2109.7 407.9,2106.1 407.9,2113.3" fill="#fff" stroke="#0000FF" stroke-width="1.3"/>
<polygon points="487.1,2128.7 479.9,2125.1 479.9,2132.3" fill="#fff" stroke="#0000FF" stroke-width="1.3"/>
<polygon points="559.1,2164.5 551.9,2160.9 551.9,2168.1" fill="#fff" stroke="#0000FF" stroke-width="1.3"/>
<polyline points="195.5,1902.1 267.5,1910.8 339.5,1931.0 411.5,1963.5 483.5,1996.9 555.5,2060.9" fill="none" stroke="#00EE00" stroke-width="1.7" stroke-linejoin="round"/>
<circle cx="195.5" cy="1902.1" r="3.6" fill="#fff" stroke="#00EE00" stroke-width="1.3"/>
<circle cx="267.5" cy="1910.8" r="3.6" fill="#fff" stroke="#00EE00" stroke-width="1.3"/>
<circle cx="339.5" cy="1931.0" r="3.6" fill="#fff" stroke="#00EE00" stroke-width="1.3"/>
<circle cx="411.5" cy="1963.5" r="3.6" fill="#fff" stroke="#00EE00" stroke-width="1.3"/>
<circle cx="483.5" cy="1996.9" r="3.6" fill="#fff" stroke="#00EE00" stroke-width="1.3"/>
<circle cx="555.5" cy="2060.9" r="3.6" fill="#fff" stroke="#00EE00" stroke-width="1.3"/>
<polyline points="195.5,1905.4 267.5,1915.1 339.5,1978.7 411.5,1993.2 483.5,2048.5 555.5,2101.0" fill="none" stroke="#00FFFF" stroke-width="1.7" stroke-linejoin="round"/>
<polygon points="195.5,1909.0 191.9,1902.5 199.1,1902.5" fill="#fff" stroke="#00FFFF" stroke-width="1.3"/>
<polygon points="267.5,1918.7 263.9,1912.2 271.1,1912.2" fill="#fff" stroke="#00FFFF" stroke-width="1.3"/>
<polygon points="339.5,1982.3 335.9,1975.8 343.1,1975.8" fill="#fff" stroke="#00FFFF" stroke-width="1.3"/>
<polygon points="411.5,1996.8 407.9,1990.3 415.1,1990.3" fill="#fff" stroke="#00FFFF" stroke-width="1.3"/>
<polygon points="483.5,2052.1 479.9,2045.6 487.1,2045.6" fill="#fff" stroke="#00FFFF" stroke-width="1.3"/>
<polygon points="555.5,2104.6 551.9,2098.1 559.1,2098.1" fill="#fff" stroke="#00FFFF" stroke-width="1.3"/>
<polyline points="195.5,1901.5 267.5,1909.7 339.5,1957.8 411.5,1995.4 483.5,2035.5 555.5,2094.0" fill="none" stroke="#000000" stroke-width="1.1" stroke-dasharray="1.2 1" stroke-linejoin="round"/>
<polygon points="195.5,1897.9 191.9,1904.3 199.1,1904.3" fill="#fff" stroke="#000000" stroke-width="1.3"/>
<polygon points="267.5,1906.1 263.9,1912.6 271.1,1912.6" fill="#fff" stroke="#000000" stroke-width="1.3"/>
<polygon points="339.5,1954.2 335.9,1960.7 343.1,1960.7" fill="#fff" stroke="#000000" stroke-width="1.3"/>
<polygon points="411.5,1991.8 407.9,1998.2 415.1,1998.2" fill="#fff" stroke="#000000" stroke-width="1.3"/>
<polygon points="483.5,2031.9 479.9,2038.4 487.1,2038.4" fill="#fff" stroke="#000000" stroke-width="1.3"/>
<polygon points="555.5,2090.4 551.9,2096.9 559.1,2096.9" fill="#fff" stroke="#000000" stroke-width="1.3"/>
<polyline points="195.5,1900.6 267.5,1902.8 339.5,1909.3 411.5,1945.5 483.5,1979.5 555.5,2036.6" fill="none" stroke="#FF0000" stroke-width="1.6" stroke-linejoin="round"/>
<rect x="191.9" y="1897.0" width="7.2" height="7.2" fill="#fff" stroke="#FF0000" stroke-width="1.3"/>
<rect x="263.9" y="1899.2" width="7.2" height="7.2" fill="#fff" stroke="#FF0000" stroke-width="1.3"/>
<rect x="335.9" y="1905.7" width="7.2" height="7.2" fill="#fff" stroke="#FF0000" stroke-width="1.3"/>
<rect x="407.9" y="1941.9" width="7.2" height="7.2" fill="#fff" stroke="#FF0000" stroke-width="1.3"/>
<rect x="479.9" y="1975.9" width="7.2" height="7.2" fill="#fff" stroke="#FF0000" stroke-width="1.3"/>
<rect x="551.9" y="2033.0" width="7.2" height="7.2" fill="#fff" stroke="#FF0000" stroke-width="1.3"/>
<text x="190.5" y="1965.7" font-family="'Liberation Sans',Arial,sans-serif" font-size="14" fill="#262626" text-anchor="end">0.55</text>
<text x="190.5" y="2053.5" font-family="'Liberation Sans',Arial,sans-serif" font-size="14" fill="#262626" text-anchor="end">0.5</text>
<text x="190.5" y="2141.3" font-family="'Liberation Sans',Arial,sans-serif" font-size="14" fill="#262626" text-anchor="end">0.45</text>
<path d="M267.5 2171.7v-4M267.5 1890.6v4M339.5 2171.7v-4M339.5 1890.6v4M411.5 2171.7v-4M411.5 1890.6v4M483.5 2171.7v-4M483.5 1890.6v4M195.5 1960.7h4M555.5 1960.7h-4M195.5 2048.5h4M555.5 2048.5h-4M195.5 2136.3h4M555.5 2136.3h-4" stroke="#262626" stroke-width="1.2"/>
<text x="195.5" y="2190.7" font-family="'Liberation Sans',Arial,sans-serif" font-size="14" fill="#262626" text-anchor="middle">0.3</text>
<text x="267.5" y="2190.7" font-family="'Liberation Sans',Arial,sans-serif" font-size="14" fill="#262626" text-anchor="middle">0.4</text>
<text x="339.5" y="2190.7" font-family="'Liberation Sans',Arial,sans-serif" font-size="14" fill="#262626" text-anchor="middle">0.5</text>
<text x="411.5" y="2190.7" font-family="'Liberation Sans',Arial,sans-serif" font-size="14" fill="#262626" text-anchor="middle">0.6</text>
<text x="483.5" y="2190.7" font-family="'Liberation Sans',Arial,sans-serif" font-size="14" fill="#262626" text-anchor="middle">0.7</text>
<text x="555.5" y="2190.7" font-family="'Liberation Sans',Arial,sans-serif" font-size="14" fill="#262626" text-anchor="middle">0.8</text>
<text x="160.5" y="2031.1" font-family="'Liberation Sans',Arial,sans-serif" font-size="14.5" fill="#262626" text-anchor="middle" transform="rotate(-90 160.5 2031.1)">Classification Accuracy</text>
<text x="375.5" y="2209.7" font-family="'Liberation Sans',Arial,sans-serif" font-size="14.5" fill="#262626" text-anchor="middle"><tspan font-family="'Liberation Serif','Times New Roman',serif" font-style="italic" font-size="13">ϵ</tspan>(co-occurring probability of the coupling label)</text>
<text x="215.0" y="2253.3" font-family="'Liberation Serif','Times New Roman',serif" font-size="34" textLength="271.4" lengthAdjust="spacing">(d) Yeast (<tspan font-style="italic">p</tspan>=1, <tspan font-style="italic">r</tspan>=1)</text>
</g>
<g>
<rect x="631.8" y="1890.6" width="360.0" height="281.1" fill="none" stroke="#262626" stroke-width="1.3"/>
<polyline points="631.8,2050.2 703.8,2077.3 775.8,2068.0 847.8,2081.5 919.8,2083.6 991.8,2159.1" fill="none" stroke="#FFD21F" stroke-width="1.2" stroke-dasharray="1.5 1" stroke-linejoin="round"/>
<polygon points="631.8,2046.1 632.8,2048.9 635.7,2049.0 633.4,2050.8 634.2,2053.6 631.8,2051.9 629.4,2053.6 630.2,2050.8 627.9,2049.0 630.8,2048.9" fill="#fff" stroke="#FFD21F" stroke-width="1.4" stroke-linejoin="round"/>
<polygon points="703.8,2073.2 704.8,2076.0 707.7,2076.1 705.4,2077.9 706.2,2080.7 703.8,2079.0 701.4,2080.7 702.2,2077.9 699.9,2076.1 702.8,2076.0" fill="#fff" stroke="#FFD21F" stroke-width="1.4" stroke-linejoin="round"/>
<polygon points="775.8,2063.9 776.8,2066.7 779.7,2066.7 777.4,2068.5 778.2,2071.4 775.8,2069.7 773.4,2071.4 774.2,2068.5 771.9,2066.7 774.8,2066.7" fill="#fff" stroke="#FFD21F" stroke-width="1.4" stroke-linejoin="round"/>
<polygon points="847.8,2077.3 848.8,2080.1 851.7,2080.2 849.4,2082.0 850.2,2084.8 847.8,2083.2 845.4,2084.8 846.2,2082.0 843.9,2080.2 846.8,2080.1" fill="#fff" stroke="#FFD21F" stroke-width="1.4" stroke-linejoin="round"/>
<polygon points="919.8,2079.5 920.8,2082.3 923.7,2082.4 921.4,2084.2 922.2,2087.0 919.8,2085.3 917.4,2087.0 918.2,2084.2 915.9,2082.4 918.8,2082.3" fill="#fff" stroke="#FFD21F" stroke-width="1.4" stroke-linejoin="round"/>
<polygon points="991.8,2155.0 992.8,2157.7 995.7,2157.8 993.4,2159.6 994.2,2162.4 991.8,2160.8 989.4,2162.4 990.2,2159.6 987.9,2157.8 990.8,2157.7" fill="#fff" stroke="#FFD21F" stroke-width="1.4" stroke-linejoin="round"/>
<polyline points="631.8,1949.4 703.8,1950.9 775.8,1949.8 847.8,1963.5 919.8,1963.5 991.8,1984.1" fill="none" stroke="#D2691E" stroke-width="1.5" stroke-dasharray="5 3" stroke-linejoin="round"/>
<polygon points="628.2,1949.4 635.4,1945.8 635.4,1953.0" fill="#fff" stroke="#D2691E" stroke-width="1.3"/>
<polygon points="700.2,1950.9 707.4,1947.3 707.4,1954.5" fill="#fff" stroke="#D2691E" stroke-width="1.3"/>
<polygon points="772.2,1949.8 779.4,1946.2 779.4,1953.4" fill="#fff" stroke="#D2691E" stroke-width="1.3"/>
<polygon points="844.2,1963.5 851.4,1959.9 851.4,1967.1" fill="#fff" stroke="#D2691E" stroke-width="1.3"/>
<polygon points="916.2,1963.5 923.4,1959.9 923.4,1967.1" fill="#fff" stroke="#D2691E" stroke-width="1.3"/>
<polygon points="988.2,1984.1 995.4,1980.5 995.4,1987.7" fill="#fff" stroke="#D2691E" stroke-width="1.3"/>
<polyline points="631.8,1929.2 703.8,1931.0 775.8,1936.8 847.8,1948.7 919.8,1974.8 991.8,2051.1" fill="none" stroke="#A030F0" stroke-width="1.4" stroke-dasharray="5 2 1.5 2" stroke-linejoin="round"/>
<polygon points="631.8,1925.1 634.7,1929.2 631.8,1933.4 628.9,1929.2" fill="#fff" stroke="#A030F0" stroke-width="1.3"/>
<polygon points="703.8,1926.8 706.7,1931.0 703.8,1935.1 700.9,1931.0" fill="#fff" stroke="#A030F0" stroke-width="1.3"/>
<polygon points="775.8,1932.7 778.7,1936.8 775.8,1940.9 772.9,1936.8" fill="#fff" stroke="#A030F0" stroke-width="1.3"/>
<polygon points="847.8,1944.6 850.7,1948.7 847.8,1952.9 844.9,1948.7" fill="#fff" stroke="#A030F0" stroke-width="1.3"/>
<polygon points="919.8,1970.6 922.7,1974.8 919.8,1978.9 916.9,1974.8" fill="#fff" stroke="#A030F0" stroke-width="1.3"/>
<polygon points="991.8,2047.0 994.7,2051.1 991.8,2055.2 988.9,2051.1" fill="#fff" stroke="#A030F0" stroke-width="1.3"/>
<polyline points="631.8,1922.7 703.8,1923.1 775.8,1923.1 847.8,1927.0 919.8,1949.8 991.8,2003.4" fill="none" stroke="#738080" stroke-width="1.6" stroke-linejoin="round"/>
<polygon points="631.8,1918.9 632.9,1920.8 635.1,1920.8 634.0,1922.7 635.1,1924.6 632.9,1924.6 631.8,1926.5 630.7,1924.6 628.5,1924.6 629.6,1922.7 628.5,1920.8 630.7,1920.8" fill="#fff" stroke="#738080" stroke-width="1.3"/>
<polygon points="703.8,1919.4 704.9,1921.3 707.1,1921.3 706.0,1923.1 707.1,1925.0 704.9,1925.0 703.8,1926.9 702.7,1925.0 700.5,1925.0 701.7,1923.1 700.5,1921.3 702.7,1921.3" fill="#fff" stroke="#738080" stroke-width="1.3"/>
<polygon points="775.8,1919.4 776.9,1921.3 779.1,1921.3 778.0,1923.1 779.1,1925.0 776.9,1925.0 775.8,1926.9 774.7,1925.0 772.5,1925.0 773.7,1923.1 772.5,1921.3 774.7,1921.3" fill="#fff" stroke="#738080" stroke-width="1.3"/>
<polygon points="847.8,1923.3 848.9,1925.2 851.1,1925.2 850.0,1927.0 851.1,1928.9 848.9,1928.9 847.8,1930.8 846.7,1928.9 844.5,1928.9 845.7,1927.0 844.5,1925.2 846.7,1925.2" fill="#fff" stroke="#738080" stroke-width="1.3"/>
<polygon points="919.8,1946.0 920.9,1948.0 923.1,1947.9 922.0,1949.8 923.1,1951.7 920.9,1951.7 919.8,1953.6 918.7,1951.7 916.5,1951.7 917.7,1949.8 916.5,1947.9 918.7,1948.0" fill="#fff" stroke="#738080" stroke-width="1.3"/>
<polygon points="991.8,1999.6 992.9,2001.5 995.1,2001.5 994.0,2003.4 995.1,2005.3 992.9,2005.3 991.8,2007.2 990.7,2005.3 988.5,2005.3 989.7,2003.4 988.5,2001.5 990.7,2001.5" fill="#fff" stroke="#738080" stroke-width="1.3"/>
<polyline points="631.8,1908.6 703.8,1908.2 775.8,1911.9 847.8,1910.8 919.8,1911.4 991.8,1921.6" fill="none" stroke="#0000FF" stroke-width="1.6" stroke-dasharray="5 3.5" stroke-linejoin="round"/>
<polygon points="635.4,1908.6 628.2,1905.0 628.2,1912.2" fill="#fff" stroke="#0000FF" stroke-width="1.3"/>
<polygon points="707.4,1908.2 700.2,1904.6 700.2,1911.8" fill="#fff" stroke="#0000FF" stroke-width="1.3"/>
<polygon points="779.4,1911.9 772.2,1908.3 772.2,1915.5" fill="#fff" stroke="#0000FF" stroke-width="1.3"/>
<polygon points="851.4,1910.8 844.2,1907.2 844.2,1914.4" fill="#fff" stroke="#0000FF" stroke-width="1.3"/>
<polygon points="923.4,1911.4 916.2,1907.8 916.2,1915.0" fill="#fff" stroke="#0000FF" stroke-width="1.3"/>
<polygon points="995.4,1921.6 988.2,1918.0 988.2,1925.2" fill="#fff" stroke="#0000FF" stroke-width="1.3"/>
<polyline points="631.8,1902.1 703.8,1914.0 775.8,1942.7 847.8,1932.5 919.8,1979.1 991.8,2011.6" fill="none" stroke="#00EE00" stroke-width="1.7" stroke-linejoin="round"/>
<circle cx="631.8" cy="1902.1" r="3.6" fill="#fff" stroke="#00EE00" stroke-width="1.3"/>
<circle cx="703.8" cy="1914.0" r="3.6" fill="#fff" stroke="#00EE00" stroke-width="1.3"/>
<circle cx="775.8" cy="1942.7" r="3.6" fill="#fff" stroke="#00EE00" stroke-width="1.3"/>
<circle cx="847.8" cy="1932.5" r="3.6" fill="#fff" stroke="#00EE00" stroke-width="1.3"/>
<circle cx="919.8" cy="1979.1" r="3.6" fill="#fff" stroke="#00EE00" stroke-width="1.3"/>
<circle cx="991.8" cy="2011.6" r="3.6" fill="#fff" stroke="#00EE00" stroke-width="1.3"/>
<polyline points="631.8,1897.8 703.8,1898.9 775.8,1901.0 847.8,1901.0 919.8,1901.0 991.8,1909.3" fill="none" stroke="#00FFFF" stroke-width="1.7" stroke-linejoin="round"/>
<polygon points="631.8,1901.4 628.2,1894.9 635.4,1894.9" fill="#fff" stroke="#00FFFF" stroke-width="1.3"/>
<polygon points="703.8,1902.5 700.2,1896.0 707.4,1896.0" fill="#fff" stroke="#00FFFF" stroke-width="1.3"/>
<polygon points="775.8,1904.6 772.2,1898.1 779.4,1898.1" fill="#fff" stroke="#00FFFF" stroke-width="1.3"/>
<polygon points="847.8,1904.6 844.2,1898.1 851.4,1898.1" fill="#fff" stroke="#00FFFF" stroke-width="1.3"/>
<polygon points="919.8,1904.6 916.2,1898.1 923.4,1898.1" fill="#fff" stroke="#00FFFF" stroke-width="1.3"/>
<polygon points="991.8,1912.9 988.2,1906.4 995.4,1906.4" fill="#fff" stroke="#00FFFF" stroke-width="1.3"/>
<polyline points="631.8,1896.3 703.8,1896.7 775.8,1900.6 847.8,1900.6 919.8,1902.8 991.8,1919.5" fill="none" stroke="#000000" stroke-width="1.1" stroke-dasharray="1.2 1" stroke-linejoin="round"/>
<polygon points="631.8,1892.7 628.2,1899.1 635.4,1899.1" fill="#fff" stroke="#000000" stroke-width="1.3"/>
<polygon points="703.8,1893.1 700.2,1899.6 707.4,1899.6" fill="#fff" stroke="#000000" stroke-width="1.3"/>
<polygon points="775.8,1897.0 772.2,1903.5 779.4,1903.5" fill="#fff" stroke="#000000" stroke-width="1.3"/>
<polygon points="847.8,1897.0 844.2,1903.5 851.4,1903.5" fill="#fff" stroke="#000000" stroke-width="1.3"/>
<polygon points="919.8,1899.2 916.2,1905.6 923.4,1905.6" fill="#fff" stroke="#000000" stroke-width="1.3"/>
<polygon points="991.8,1915.9 988.2,1922.3 995.4,1922.3" fill="#fff" stroke="#000000" stroke-width="1.3"/>
<polyline points="631.8,1898.4 703.8,1898.4 775.8,1900.6 847.8,1899.9 919.8,1898.4 991.8,1900.6" fill="none" stroke="#FF0000" stroke-width="1.6" stroke-linejoin="round"/>
<rect x="628.2" y="1894.8" width="7.2" height="7.2" fill="#fff" stroke="#FF0000" stroke-width="1.3"/>
<rect x="700.2" y="1894.8" width="7.2" height="7.2" fill="#fff" stroke="#FF0000" stroke-width="1.3"/>
<rect x="772.2" y="1897.0" width="7.2" height="7.2" fill="#fff" stroke="#FF0000" stroke-width="1.3"/>
<rect x="844.2" y="1896.3" width="7.2" height="7.2" fill="#fff" stroke="#FF0000" stroke-width="1.3"/>
<rect x="916.2" y="1894.8" width="7.2" height="7.2" fill="#fff" stroke="#FF0000" stroke-width="1.3"/>
<rect x="988.2" y="1897.0" width="7.2" height="7.2" fill="#fff" stroke="#FF0000" stroke-width="1.3"/>
<text x="626.8" y="1954.8" font-family="'Liberation Sans',Arial,sans-serif" font-size="14" fill="#262626" text-anchor="end">0.95</text>
<text x="626.8" y="2029.0" font-family="'Liberation Sans',Arial,sans-serif" font-size="14" fill="#262626" text-anchor="end">0.9</text>
<text x="626.8" y="2102.9" font-family="'Liberation Sans',Arial,sans-serif" font-size="14" fill="#262626" text-anchor="end">0.85</text>
<text x="626.8" y="2176.7" font-family="'Liberation Sans',Arial,sans-serif" font-size="14" fill="#262626" text-anchor="end">0.8</text>
<path d="M703.8 2171.7v-4M703.8 1890.6v4M775.8 2171.7v-4M775.8 1890.6v4M847.8 2171.7v-4M847.8 1890.6v4M919.8 2171.7v-4M919.8 1890.6v4M631.8 1949.8h4M991.8 1949.8h-4M631.8 2024.0h4M991.8 2024.0h-4M631.8 2097.9h4M991.8 2097.9h-4M631.8 2171.7h4M991.8 2171.7h-4" stroke="#262626" stroke-width="1.2"/>
<text x="631.8" y="2190.7" font-family="'Liberation Sans',Arial,sans-serif" font-size="14" fill="#262626" text-anchor="middle">0.3</text>
<text x="703.8" y="2190.7" font-family="'Liberation Sans',Arial,sans-serif" font-size="14" fill="#262626" text-anchor="middle">0.4</text>
<text x="775.8" y="2190.7" font-family="'Liberation Sans',Arial,sans-serif" font-size="14" fill="#262626" text-anchor="middle">0.5</text>
<text x="847.8" y="2190.7" font-family="'Liberation Sans',Arial,sans-serif" font-size="14" fill="#262626" text-anchor="middle">0.6</text>
<text x="919.8" y="2190.7" font-family="'Liberation Sans',Arial,sans-serif" font-size="14" fill="#262626" text-anchor="middle">0.7</text>
<text x="991.8" y="2190.7" font-family="'Liberation Sans',Arial,sans-serif" font-size="14" fill="#262626" text-anchor="middle">0.8</text>
<text x="596.8" y="2031.1" font-family="'Liberation Sans',Arial,sans-serif" font-size="14.5" fill="#262626" text-anchor="middle" transform="rotate(-90 596.8 2031.1)">Classification Accuracy</text>
<text x="811.8" y="2209.7" font-family="'Liberation Sans',Arial,sans-serif" font-size="14.5" fill="#262626" text-anchor="middle"><tspan font-family="'Liberation Serif','Times New Roman',serif" font-style="italic" font-size="13">ϵ</tspan>(co-occurring probability of the coupling label)</text>
<text x="627.0" y="2253.3" font-family="'Liberation Serif','Times New Roman',serif" font-size="34" textLength="320.6" lengthAdjust="spacing">(e) Optdigits (<tspan font-style="italic">p</tspan>=1, <tspan font-style="italic">r</tspan>=1)</text>
</g>
<g>
<rect x="1067.9" y="1890.6" width="360.4" height="281.1" fill="none" stroke="#262626" stroke-width="1.3"/>
<polyline points="1067.9,2081.5 1140.0,2084.9 1212.1,2089.7 1284.2,2103.8 1356.2,2116.8 1428.3,2160.2" fill="none" stroke="#FFD21F" stroke-width="1.2" stroke-dasharray="1.5 1" stroke-linejoin="round"/>
<polygon points="1067.9,2077.3 1068.9,2080.1 1071.8,2080.2 1069.5,2082.0 1070.3,2084.8 1067.9,2083.2 1065.5,2084.8 1066.3,2082.0 1064.0,2080.2 1066.9,2080.1" fill="#fff" stroke="#FFD21F" stroke-width="1.4" stroke-linejoin="round"/>
<polygon points="1140.0,2080.8 1141.0,2083.6 1143.9,2083.7 1141.6,2085.5 1142.4,2088.3 1140.0,2086.6 1137.6,2088.3 1138.4,2085.5 1136.1,2083.7 1139.0,2083.6" fill="#fff" stroke="#FFD21F" stroke-width="1.4" stroke-linejoin="round"/>
<polygon points="1212.1,2085.6 1213.1,2088.3 1216.0,2088.4 1213.7,2090.2 1214.5,2093.0 1212.1,2091.4 1209.6,2093.0 1210.5,2090.2 1208.1,2088.4 1211.1,2088.3" fill="#fff" stroke="#FFD21F" stroke-width="1.4" stroke-linejoin="round"/>
<polygon points="1284.2,2099.7 1285.2,2102.4 1288.1,2102.5 1285.8,2104.3 1286.6,2107.1 1284.2,2105.5 1281.7,2107.1 1282.6,2104.3 1280.2,2102.5 1283.2,2102.4" fill="#fff" stroke="#FFD21F" stroke-width="1.4" stroke-linejoin="round"/>
<polygon points="1356.2,2112.7 1357.2,2115.4 1360.2,2115.5 1357.9,2117.3 1358.7,2120.2 1356.2,2118.5 1353.8,2120.2 1354.6,2117.3 1352.3,2115.5 1355.3,2115.4" fill="#fff" stroke="#FFD21F" stroke-width="1.4" stroke-linejoin="round"/>
<polygon points="1428.3,2156.1 1429.3,2158.8 1432.3,2158.9 1429.9,2160.7 1430.8,2163.5 1428.3,2161.9 1425.9,2163.5 1426.7,2160.7 1424.4,2158.9 1427.3,2158.8" fill="#fff" stroke="#FFD21F" stroke-width="1.4" stroke-linejoin="round"/>
<polyline points="1067.9,1970.9 1140.0,1968.3 1212.1,1972.6 1284.2,1975.2 1356.2,1983.4 1428.3,1994.3" fill="none" stroke="#D2691E" stroke-width="1.5" stroke-dasharray="5 3" stroke-linejoin="round"/>
<polygon points="1064.3,1970.9 1071.5,1967.3 1071.5,1974.5" fill="#fff" stroke="#D2691E" stroke-width="1.3"/>
<polygon points="1136.4,1968.3 1143.6,1964.7 1143.6,1971.9" fill="#fff" stroke="#D2691E" stroke-width="1.3"/>
<polygon points="1208.5,1972.6 1215.7,1969.0 1215.7,1976.2" fill="#fff" stroke="#D2691E" stroke-width="1.3"/>
<polygon points="1280.6,1975.2 1287.8,1971.6 1287.8,1978.8" fill="#fff" stroke="#D2691E" stroke-width="1.3"/>
<polygon points="1352.6,1983.4 1359.8,1979.8 1359.8,1987.0" fill="#fff" stroke="#D2691E" stroke-width="1.3"/>
<polygon points="1424.7,1994.3 1431.9,1990.7 1431.9,1997.9" fill="#fff" stroke="#D2691E" stroke-width="1.3"/>
<polyline points="1067.9,1950.9 1140.0,1952.6 1212.1,1958.5 1284.2,1967.2 1356.2,1992.1 1428.3,2046.3" fill="none" stroke="#A030F0" stroke-width="1.4" stroke-dasharray="5 2 1.5 2" stroke-linejoin="round"/>
<polygon points="1067.9,1946.8 1070.8,1950.9 1067.9,1955.0 1065.0,1950.9" fill="#fff" stroke="#A030F0" stroke-width="1.3"/>
<polygon points="1140.0,1948.5 1142.9,1952.6 1140.0,1956.8 1137.1,1952.6" fill="#fff" stroke="#A030F0" stroke-width="1.3"/>
<polygon points="1212.1,1954.4 1215.0,1958.5 1212.1,1962.6 1209.2,1958.5" fill="#fff" stroke="#A030F0" stroke-width="1.3"/>
<polygon points="1284.2,1963.0 1287.0,1967.2 1284.2,1971.3 1281.3,1967.2" fill="#fff" stroke="#A030F0" stroke-width="1.3"/>
<polygon points="1356.2,1988.0 1359.1,1992.1 1356.2,1996.3 1353.4,1992.1" fill="#fff" stroke="#A030F0" stroke-width="1.3"/>
<polygon points="1428.3,2042.2 1431.2,2046.3 1428.3,2050.5 1425.5,2046.3" fill="#fff" stroke="#A030F0" stroke-width="1.3"/>
<polyline points="1067.9,1934.0 1140.0,1937.9 1212.1,1937.9 1284.2,1942.7 1356.2,1958.5 1428.3,2009.5" fill="none" stroke="#738080" stroke-width="1.6" stroke-linejoin="round"/>
<polygon points="1067.9,1930.2 1069.0,1932.1 1071.2,1932.1 1070.1,1934.0 1071.2,1935.9 1069.0,1935.9 1067.9,1937.8 1066.8,1935.9 1064.6,1935.9 1065.7,1934.0 1064.6,1932.1 1066.8,1932.1" fill="#fff" stroke="#738080" stroke-width="1.3"/>
<polygon points="1140.0,1934.1 1141.1,1936.0 1143.3,1936.0 1142.1,1937.9 1143.3,1939.8 1141.1,1939.8 1140.0,1941.7 1138.9,1939.8 1136.7,1939.8 1137.8,1937.9 1136.7,1936.0 1138.9,1936.0" fill="#fff" stroke="#738080" stroke-width="1.3"/>
<polygon points="1212.1,1934.1 1213.2,1936.0 1215.3,1936.0 1214.2,1937.9 1215.3,1939.8 1213.2,1939.8 1212.1,1941.7 1211.0,1939.8 1208.8,1939.8 1209.9,1937.9 1208.8,1936.0 1211.0,1936.0" fill="#fff" stroke="#738080" stroke-width="1.3"/>
<polygon points="1284.2,1938.9 1285.2,1940.8 1287.4,1940.8 1286.3,1942.7 1287.4,1944.6 1285.2,1944.5 1284.2,1946.4 1283.1,1944.5 1280.9,1944.6 1282.0,1942.7 1280.9,1940.8 1283.1,1940.8" fill="#fff" stroke="#738080" stroke-width="1.3"/>
<polygon points="1356.2,1954.7 1357.3,1956.6 1359.5,1956.6 1358.4,1958.5 1359.5,1960.4 1357.3,1960.4 1356.2,1962.3 1355.2,1960.4 1353.0,1960.4 1354.1,1958.5 1353.0,1956.6 1355.2,1956.6" fill="#fff" stroke="#738080" stroke-width="1.3"/>
<polygon points="1428.3,2005.7 1429.4,2007.6 1431.6,2007.6 1430.5,2009.5 1431.6,2011.4 1429.4,2011.3 1428.3,2013.2 1427.3,2011.3 1425.1,2011.4 1426.2,2009.5 1425.1,2007.6 1427.3,2007.6" fill="#fff" stroke="#738080" stroke-width="1.3"/>
<polyline points="1067.9,1908.0 1140.0,1908.6 1212.1,1911.9 1284.2,1911.4 1356.2,1915.1 1428.3,1919.5" fill="none" stroke="#0000FF" stroke-width="1.6" stroke-dasharray="5 3.5" stroke-linejoin="round"/>
<polygon points="1071.5,1908.0 1064.3,1904.4 1064.3,1911.6" fill="#fff" stroke="#0000FF" stroke-width="1.3"/>
<polygon points="1143.6,1908.6 1136.4,1905.0 1136.4,1912.2" fill="#fff" stroke="#0000FF" stroke-width="1.3"/>
<polygon points="1215.7,1911.9 1208.5,1908.3 1208.5,1915.5" fill="#fff" stroke="#0000FF" stroke-width="1.3"/>
<polygon points="1287.8,1911.4 1280.6,1907.8 1280.6,1915.0" fill="#fff" stroke="#0000FF" stroke-width="1.3"/>
<polygon points="1359.8,1915.1 1352.6,1911.5 1352.6,1918.7" fill="#fff" stroke="#0000FF" stroke-width="1.3"/>
<polygon points="1431.9,1919.5 1424.7,1915.9 1424.7,1923.1" fill="#fff" stroke="#0000FF" stroke-width="1.3"/>
<polyline points="1067.9,1909.0 1140.0,1921.0 1212.1,1933.1 1284.2,1964.4 1356.2,1988.9 1428.3,2047.8" fill="none" stroke="#00EE00" stroke-width="1.7" stroke-linejoin="round"/>
<circle cx="1067.9" cy="1909.0" r="3.6" fill="#fff" stroke="#00EE00" stroke-width="1.3"/>
<circle cx="1140.0" cy="1921.0" r="3.6" fill="#fff" stroke="#00EE00" stroke-width="1.3"/>
<circle cx="1212.1" cy="1933.1" r="3.6" fill="#fff" stroke="#00EE00" stroke-width="1.3"/>
<circle cx="1284.2" cy="1964.4" r="3.6" fill="#fff" stroke="#00EE00" stroke-width="1.3"/>
<circle cx="1356.2" cy="1988.9" r="3.6" fill="#fff" stroke="#00EE00" stroke-width="1.3"/>
<circle cx="1428.3" cy="2047.8" r="3.6" fill="#fff" stroke="#00EE00" stroke-width="1.3"/>
<polyline points="1067.9,1900.6 1140.0,1901.0 1212.1,1902.8 1284.2,1905.4 1356.2,1907.5 1428.3,1914.5" fill="none" stroke="#00FFFF" stroke-width="1.7" stroke-linejoin="round"/>
<polygon points="1067.9,1904.2 1064.3,1897.7 1071.5,1897.7" fill="#fff" stroke="#00FFFF" stroke-width="1.3"/>
<polygon points="1140.0,1904.6 1136.4,1898.1 1143.6,1898.1" fill="#fff" stroke="#00FFFF" stroke-width="1.3"/>
<polygon points="1212.1,1906.4 1208.5,1899.9 1215.7,1899.9" fill="#fff" stroke="#00FFFF" stroke-width="1.3"/>
<polygon points="1284.2,1909.0 1280.6,1902.5 1287.8,1902.5" fill="#fff" stroke="#00FFFF" stroke-width="1.3"/>
<polygon points="1356.2,1911.1 1352.6,1904.7 1359.8,1904.7" fill="#fff" stroke="#00FFFF" stroke-width="1.3"/>
<polygon points="1428.3,1918.1 1424.7,1911.6 1431.9,1911.6" fill="#fff" stroke="#00FFFF" stroke-width="1.3"/>
<polyline points="1067.9,1898.9 1140.0,1899.9 1212.1,1903.2 1284.2,1908.6 1356.2,1917.9 1428.3,1934.6" fill="none" stroke="#000000" stroke-width="1.1" stroke-dasharray="1.2 1" stroke-linejoin="round"/>
<polygon points="1067.9,1895.3 1064.3,1901.7 1071.5,1901.7" fill="#fff" stroke="#000000" stroke-width="1.3"/>
<polygon points="1140.0,1896.3 1136.4,1902.8 1143.6,1902.8" fill="#fff" stroke="#000000" stroke-width="1.3"/>
<polygon points="1212.1,1899.6 1208.5,1906.1 1215.7,1906.1" fill="#fff" stroke="#000000" stroke-width="1.3"/>
<polygon points="1284.2,1905.0 1280.6,1911.5 1287.8,1911.5" fill="#fff" stroke="#000000" stroke-width="1.3"/>
<polygon points="1356.2,1914.3 1352.6,1920.8 1359.8,1920.8" fill="#fff" stroke="#000000" stroke-width="1.3"/>
<polygon points="1428.3,1931.0 1424.7,1937.5 1431.9,1937.5" fill="#fff" stroke="#000000" stroke-width="1.3"/>
<polyline points="1067.9,1899.5 1140.0,1898.9 1212.1,1900.6 1284.2,1901.5 1356.2,1901.0 1428.3,1902.8" fill="none" stroke="#FF0000" stroke-width="1.6" stroke-linejoin="round"/>
<rect x="1064.3" y="1895.9" width="7.2" height="7.2" fill="#fff" stroke="#FF0000" stroke-width="1.3"/>
<rect x="1136.4" y="1895.3" width="7.2" height="7.2" fill="#fff" stroke="#FF0000" stroke-width="1.3"/>
<rect x="1208.5" y="1897.0" width="7.2" height="7.2" fill="#fff" stroke="#FF0000" stroke-width="1.3"/>
<rect x="1280.6" y="1897.9" width="7.2" height="7.2" fill="#fff" stroke="#FF0000" stroke-width="1.3"/>
<rect x="1352.6" y="1897.4" width="7.2" height="7.2" fill="#fff" stroke="#FF0000" stroke-width="1.3"/>
<rect x="1424.7" y="1899.2" width="7.2" height="7.2" fill="#fff" stroke="#FF0000" stroke-width="1.3"/>
<text x="1062.9" y="1940.7" font-family="'Liberation Sans',Arial,sans-serif" font-size="14" fill="#262626" text-anchor="end">0.95</text>
<text x="1062.9" y="2031.8" font-family="'Liberation Sans',Arial,sans-serif" font-size="14" fill="#262626" text-anchor="end">0.9</text>
<text x="1062.9" y="2122.5" font-family="'Liberation Sans',Arial,sans-serif" font-size="14" fill="#262626" text-anchor="end">0.85</text>
<path d="M1140.0 2171.7v-4M1140.0 1890.6v4M1212.1 2171.7v-4M1212.1 1890.6v4M1284.2 2171.7v-4M1284.2 1890.6v4M1356.2 2171.7v-4M1356.2 1890.6v4M1067.9 1935.7h4M1428.3 1935.7h-4M1067.9 2026.8h4M1428.3 2026.8h-4M1067.9 2117.5h4M1428.3 2117.5h-4" stroke="#262626" stroke-width="1.2"/>
<text x="1067.9" y="2190.7" font-family="'Liberation Sans',Arial,sans-serif" font-size="14" fill="#262626" text-anchor="middle">0.3</text>
<text x="1140.0" y="2190.7" font-family="'Liberation Sans',Arial,sans-serif" font-size="14" fill="#262626" text-anchor="middle">0.4</text>
<text x="1212.1" y="2190.7" font-family="'Liberation Sans',Arial,sans-serif" font-size="14" fill="#262626" text-anchor="middle">0.5</text>
<text x="1284.2" y="2190.7" font-family="'Liberation Sans',Arial,sans-serif" font-size="14" fill="#262626" text-anchor="middle">0.6</text>
<text x="1356.2" y="2190.7" font-family="'Liberation Sans',Arial,sans-serif" font-size="14" fill="#262626" text-anchor="middle">0.7</text>
<text x="1428.3" y="2190.7" font-family="'Liberation Sans',Arial,sans-serif" font-size="14" fill="#262626" text-anchor="middle">0.8</text>
<text x="1032.9" y="2031.1" font-family="'Liberation Sans',Arial,sans-serif" font-size="14.5" fill="#262626" text-anchor="middle" transform="rotate(-90 1032.9 2031.1)">Classification Accuracy</text>
<text x="1248.1" y="2209.7" font-family="'Liberation Sans',Arial,sans-serif" font-size="14.5" fill="#262626" text-anchor="middle"><tspan font-family="'Liberation Serif','Times New Roman',serif" font-style="italic" font-size="13">ϵ</tspan>(co-occurring probability of the coupling label)</text>
<text x="1093.0" y="2253.3" font-family="'Liberation Serif','Times New Roman',serif" font-size="34" textLength="260.7" lengthAdjust="spacing">(f) Usps (<tspan font-style="italic">p</tspan>=1, <tspan font-style="italic">r</tspan>=1)</text>
</g>
<line x1="87" y1="1437" x2="158.5" y2="1437" stroke="#FF0000" stroke-width="2.6"/>
<rect x="114.75" y="1429" width="16" height="16" fill="#fff"/>
<rect x="115.8" y="1430.0" width="14.0" height="14.0" fill="#fff" stroke="#FF0000" stroke-width="2.6"/>
<text x="164.7" y="1446.2" font-family="'Liberation Sans',Arial,sans-serif" font-size="20.8" fill="#111" textLength="69.2" lengthAdjust="spacing">DPCLS</text>
<line x1="250" y1="1437" x2="320.8" y2="1437" stroke="#FFD21F" stroke-width="2.2" stroke-dasharray="2 1.6"/>

<polygon points="285.4,1428.2 287.5,1434.1 293.8,1434.3 288.8,1438.1 290.6,1444.1 285.4,1440.6 280.2,1444.1 282.0,1438.1 277.0,1434.3 283.3,1434.1" fill="#fff" stroke="#FFD21F" stroke-width="2.9" stroke-linejoin="round"/>
<text x="327.6" y="1446.2" font-family="'Liberation Sans',Arial,sans-serif" font-size="20.8" fill="#111" textLength="52.4" lengthAdjust="spacing">CLPL</text>
<line x1="396" y1="1437" x2="467" y2="1437" stroke="#D2691E" stroke-width="2.5" stroke-dasharray="7 7"/>
<rect x="423.5" y="1429" width="16" height="16" fill="#fff"/>
<polygon points="424.5,1437.0 438.5,1430.0 438.5,1444.0" fill="#fff" stroke="#D2691E" stroke-width="2.6"/>
<text x="473.5" y="1446.2" font-family="'Liberation Sans',Arial,sans-serif" font-size="20.8" fill="#111" textLength="78.5" lengthAdjust="spacing">PL-SVM</text>
<line x1="568" y1="1437" x2="638.6" y2="1437" stroke="#A030F0" stroke-width="2.4" stroke-dasharray="4 2.5 2 2.5"/>
<rect x="595.3" y="1429" width="16" height="16" fill="#fff"/>
<polygon points="603.3,1429.0 608.9,1437.0 603.3,1445.0 597.7,1437.0" fill="#fff" stroke="#A030F0" stroke-width="2.6"/>
<text x="645.0" y="1446.2" font-family="'Liberation Sans',Arial,sans-serif" font-size="20.8" fill="#111" textLength="77.7" lengthAdjust="spacing">PL-KNN</text>
<line x1="738" y1="1437" x2="809" y2="1437" stroke="#738080" stroke-width="2.6"/>
<rect x="765.5" y="1429" width="16" height="16" fill="#fff"/>
<polygon points="773.5,1429.7 775.6,1433.4 779.9,1433.3 777.7,1437.0 779.9,1440.7 775.6,1440.6 773.5,1444.3 771.4,1440.6 767.1,1440.7 769.3,1437.0 767.1,1433.3 771.4,1433.4" fill="#fff" stroke="#738080" stroke-width="2.6"/>
<text x="815.6" y="1446.2" font-family="'Liberation Sans',Arial,sans-serif" font-size="20.8" fill="#111" textLength="63.2" lengthAdjust="spacing">PL-DA</text>
<line x1="892.8" y1="1437" x2="964.8" y2="1437" stroke="#0000FF" stroke-width="2.6" stroke-dasharray="7 7"/>
<rect x="920.8" y="1429" width="16" height="16" fill="#fff"/>
<polygon points="935.8,1437.0 921.8,1430.0 921.8,1444.0" fill="#fff" stroke="#0000FF" stroke-width="2.6"/>
<text x="971.4" y="1446.2" font-family="'Liberation Sans',Arial,sans-serif" font-size="20.8" fill="#111" textLength="44.6" lengthAdjust="spacing">IPAL</text>
<line x1="1031" y1="1437" x2="1103" y2="1437" stroke="#00FFFF" stroke-width="2.7"/>
<rect x="1059.0" y="1429" width="16" height="16" fill="#fff"/>
<polygon points="1067.0,1444.0 1060.0,1431.4 1074.0,1431.4" fill="#fff" stroke="#00FFFF" stroke-width="2.6"/>
<text x="1108.9" y="1446.2" font-family="'Liberation Sans',Arial,sans-serif" font-size="20.8" fill="#111" textLength="62.1" lengthAdjust="spacing">AGGD</text>
<line x1="1186.4" y1="1437" x2="1257.5" y2="1437" stroke="#00EE00" stroke-width="2.7"/>
<rect x="1213.95" y="1429" width="16" height="16" fill="#fff"/>
<circle cx="1222.0" cy="1437.0" r="7.0" fill="#fff" stroke="#00EE00" stroke-width="2.6"/>
<text x="1264.0" y="1446.2" font-family="'Liberation Sans',Arial,sans-serif" font-size="20.8" fill="#111" textLength="74.7" lengthAdjust="spacing">PL-CLA</text>
<line x1="1353.4" y1="1437" x2="1423.8" y2="1437" stroke="#000000" stroke-width="2.1" stroke-dasharray="1.6 1.2"/>
<rect x="1380.6" y="1429" width="16" height="16" fill="#fff"/>
<polygon points="1388.6,1430.0 1381.6,1442.6 1395.6,1442.6" fill="#fff" stroke="#000000" stroke-width="2.6"/>
<text x="1431.0" y="1446.2" font-family="'Liberation Sans',Arial,sans-serif" font-size="20.8" fill="#111" textLength="51.7" lengthAdjust="spacing">SDIM</text>
<circle cx="2138.3" cy="1372.5" r="12.5" fill="#0070C0"/>
<text x="2172.7" y="1386.7" font-family="'Liberation Sans',Arial,sans-serif" font-size="46" font-weight="bold" fill="#0070C0" textLength="803.7" lengthAdjust="spacingAndGlyphs">Performance on Real-world Data Sets</text>
<line x1="1601.6" y1="1405.2" x2="3360" y2="1405.2" stroke="#333" stroke-width="1.4"/>
<line x1="1601.6" y1="1412.2" x2="3360" y2="1412.2" stroke="#333" stroke-width="1.4"/>
<line x1="1601.6" y1="1460" x2="3360" y2="1460" stroke="#333" stroke-width="1.4"/>
<line x1="1601.6" y1="1877" x2="3360" y2="1877" stroke="#333" stroke-width="1.4" stroke-dasharray="7 5"/>
<line x1="1601.6" y1="2014" x2="3360" y2="2014" stroke="#333" stroke-width="1.4"/>
<line x1="1601.6" y1="2021" x2="3360" y2="2021" stroke="#333" stroke-width="1.4"/>
<line x1="1679.7" y1="1412.2" x2="1679.7" y2="2014" stroke="#333" stroke-width="1.4"/>
<text x="1611.0" y="1445.5" font-family="'Liberation Serif','Times New Roman',serif" font-size="31.5" textLength="60.0" lengthAdjust="spacing">Type</text>
<text x="1701.0" y="1445.5" font-family="'Liberation Serif','Times New Roman',serif" font-size="31.5" textLength="96.0" lengthAdjust="spacing">Method</text>
<text x="1847.2" y="1445.5" font-family="'Liberation Serif','Times New Roman',serif" font-size="31.5" textLength="109.7" lengthAdjust="spacing">FG-NET</text>
<text x="2006.0" y="1445.5" font-family="'Liberation Serif','Times New Roman',serif" font-size="31.5" textLength="124.0" lengthAdjust="spacing">FG-NET3</text>
<text x="2172.0" y="1445.5" font-family="'Liberation Serif','Times New Roman',serif" font-size="31.5" textLength="126.0" lengthAdjust="spacing">FG-NET5</text>
<text x="2373.5" y="1445.5" font-family="'Liberation Serif','Times New Roman',serif" font-size="31.5" textLength="56.0" lengthAdjust="spacing">Lost</text>
<text x="2509.8" y="1445.5" font-family="'Liberation Serif','Times New Roman',serif" font-size="31.5" textLength="116.5" lengthAdjust="spacing">MSRCv2</text>
<text x="2675.1" y="1445.5" font-family="'Liberation Serif','Times New Roman',serif" font-size="31.5" textLength="119.0" lengthAdjust="spacing">BirdSong</text>
<text x="2842.1" y="1445.5" font-family="'Liberation Serif','Times New Roman',serif" font-size="31.5" textLength="119.5" lengthAdjust="spacing">Malagasy</text>
<text x="2992.7" y="1445.5" font-family="'Liberation Serif','Times New Roman',serif" font-size="31.5" textLength="172.7" lengthAdjust="spacing">Soccer Player</text>
<text x="3183.2" y="1445.5" font-family="'Liberation Serif','Times New Roman',serif" font-size="31.5" textLength="167.7" lengthAdjust="spacing">Yahoo! News</text>
<text x="1701.0" y="1493.2" font-family="'Liberation Serif','Times New Roman',serif" font-size="31.5" textLength="96.0" lengthAdjust="spacing">DPCLS</text>
<text x="1829.0" y="1493.2" font-family="'Liberation Serif','Times New Roman',serif" font-size="31.5" font-weight="bold" textLength="131.5" lengthAdjust="spacing">.077±.009</text>
<text x="1994.8" y="1493.2" font-family="'Liberation Serif','Times New Roman',serif" font-size="31.5" font-weight="bold" textLength="131.5" lengthAdjust="spacing">.436±.017</text>
<text x="2162.0" y="1493.2" font-family="'Liberation Serif','Times New Roman',serif" font-size="31.5" font-weight="bold" textLength="131.5" lengthAdjust="spacing">.586±.011</text>
<text x="2328.0" y="1493.2" font-family="'Liberation Serif','Times New Roman',serif" font-size="31.5" font-weight="bold" textLength="131.5" lengthAdjust="spacing">.770±.024</text>
<text x="2495.7" y="1493.2" font-family="'Liberation Serif','Times New Roman',serif" font-size="31.5" font-weight="bold" textLength="131.5" lengthAdjust="spacing">.557±.014</text>
<text x="2661.6" y="1493.2" font-family="'Liberation Serif','Times New Roman',serif" font-size="31.5" font-weight="bold" textLength="131.5" lengthAdjust="spacing">.751±.009</text>
<text x="2828.3" y="1493.2" font-family="'Liberation Serif','Times New Roman',serif" font-size="31.5" font-weight="bold" textLength="131.5" lengthAdjust="spacing">.676±.004</text>
<text x="3005.4" y="1493.2" font-family="'Liberation Serif','Times New Roman',serif" font-size="31.5" font-weight="bold" textLength="131.5" lengthAdjust="spacing">.532±.002</text>
<text x="3192.8" y="1493.2" font-family="'Liberation Serif','Times New Roman',serif" font-size="31.5" textLength="131.5" lengthAdjust="spacing">.626±.003</text>
<line x1="3191.8" y1="1500.7" x2="3325.3" y2="1500.7" stroke="#222" stroke-width="1.4"/>
<text x="1714.5" y="1539.3" font-family="'Liberation Serif','Times New Roman',serif" font-size="31.5" textLength="69.0" lengthAdjust="spacing">CLPL</text>
<text x="1829.0" y="1539.3" font-family="'Liberation Serif','Times New Roman',serif" font-size="31.5" textLength="131.5" lengthAdjust="spacing">.058±.009</text>
<circle cx="1970.0" cy="1530.8" r="5.8" fill="#000"/>
<text x="1994.8" y="1539.3" font-family="'Liberation Serif','Times New Roman',serif" font-size="31.5" textLength="131.5" lengthAdjust="spacing">.383±.016</text>
<circle cx="2135.8" cy="1530.8" r="5.8" fill="#000"/>
<text x="2162.0" y="1539.3" font-family="'Liberation Serif','Times New Roman',serif" font-size="31.5" textLength="131.5" lengthAdjust="spacing">.538±.017</text>
<circle cx="2303.0" cy="1530.8" r="5.8" fill="#000"/>
<text x="2328.0" y="1539.3" font-family="'Liberation Serif','Times New Roman',serif" font-size="31.5" textLength="131.5" lengthAdjust="spacing">.665±.019</text>
<circle cx="2469.0" cy="1530.8" r="5.8" fill="#000"/>
<text x="2495.7" y="1539.3" font-family="'Liberation Serif','Times New Roman',serif" font-size="31.5" textLength="131.5" lengthAdjust="spacing">.371±.010</text>
<circle cx="2636.7" cy="1530.8" r="5.8" fill="#000"/>
<text x="2661.6" y="1539.3" font-family="'Liberation Serif','Times New Roman',serif" font-size="31.5" textLength="131.5" lengthAdjust="spacing">.610±.012</text>
<circle cx="2802.6" cy="1530.8" r="5.8" fill="#000"/>
<text x="2828.3" y="1539.3" font-family="'Liberation Serif','Times New Roman',serif" font-size="31.5" textLength="131.5" lengthAdjust="spacing">.675±.016</text>
<line x1="2827.3" y1="1546.8" x2="2960.8" y2="1546.8" stroke="#222" stroke-width="1.4"/>
<text x="3005.4" y="1539.3" font-family="'Liberation Serif','Times New Roman',serif" font-size="31.5" textLength="131.5" lengthAdjust="spacing">.497±.002</text>
<circle cx="3146.4" cy="1530.8" r="5.8" fill="#000"/>
<text x="3192.8" y="1539.3" font-family="'Liberation Serif','Times New Roman',serif" font-size="31.5" textLength="131.5" lengthAdjust="spacing">.544±.004</text>
<circle cx="3333.8" cy="1530.8" r="5.8" fill="#000"/>
<text x="1692.5" y="1585.4" font-family="'Liberation Serif','Times New Roman',serif" font-size="31.5" textLength="113.0" lengthAdjust="spacing">PL-SVM</text>
<text x="1829.0" y="1585.4" font-family="'Liberation Serif','Times New Roman',serif" font-size="31.5" textLength="131.5" lengthAdjust="spacing">.052±.010</text>
<circle cx="1970.0" cy="1576.9" r="5.8" fill="#000"/>
<text x="1994.8" y="1585.4" font-family="'Liberation Serif','Times New Roman',serif" font-size="31.5" textLength="131.5" lengthAdjust="spacing">.357±.022</text>
<circle cx="2135.8" cy="1576.9" r="5.8" fill="#000"/>
<text x="2162.0" y="1585.4" font-family="'Liberation Serif','Times New Roman',serif" font-size="31.5" textLength="131.5" lengthAdjust="spacing">.511±.026</text>
<circle cx="2303.0" cy="1576.9" r="5.8" fill="#000"/>
<text x="2328.0" y="1585.4" font-family="'Liberation Serif','Times New Roman',serif" font-size="31.5" textLength="131.5" lengthAdjust="spacing">.578±.078</text>
<circle cx="2469.0" cy="1576.9" r="5.8" fill="#000"/>
<text x="2495.7" y="1585.4" font-family="'Liberation Serif','Times New Roman',serif" font-size="31.5" textLength="131.5" lengthAdjust="spacing">.310±.060</text>
<circle cx="2636.7" cy="1576.9" r="5.8" fill="#000"/>
<text x="2661.6" y="1585.4" font-family="'Liberation Serif','Times New Roman',serif" font-size="31.5" textLength="131.5" lengthAdjust="spacing">.682±.023</text>
<circle cx="2802.6" cy="1576.9" r="5.8" fill="#000"/>
<text x="2828.3" y="1585.4" font-family="'Liberation Serif','Times New Roman',serif" font-size="31.5" textLength="131.5" lengthAdjust="spacing">.564±.061</text>
<circle cx="2969.3" cy="1576.9" r="5.8" fill="#000"/>
<text x="3005.4" y="1585.4" font-family="'Liberation Serif','Times New Roman',serif" font-size="31.5" textLength="131.5" lengthAdjust="spacing">.500±.002</text>
<circle cx="3146.4" cy="1576.9" r="5.8" fill="#000"/>
<text x="3192.8" y="1585.4" font-family="'Liberation Serif','Times New Roman',serif" font-size="31.5" textLength="131.5" lengthAdjust="spacing">.546±.006</text>
<circle cx="3333.8" cy="1576.9" r="5.8" fill="#000"/>
<text x="1692.5" y="1631.6" font-family="'Liberation Serif','Times New Roman',serif" font-size="31.5" textLength="113.0" lengthAdjust="spacing">PL-KNN</text>
<text x="1829.0" y="1631.6" font-family="'Liberation Serif','Times New Roman',serif" font-size="31.5" textLength="131.5" lengthAdjust="spacing">.038±.005</text>
<circle cx="1970.0" cy="1623.1" r="5.8" fill="#000"/>
<text x="1994.8" y="1631.6" font-family="'Liberation Serif','Times New Roman',serif" font-size="31.5" textLength="131.5" lengthAdjust="spacing">.287±.022</text>
<circle cx="2135.8" cy="1623.1" r="5.8" fill="#000"/>
<text x="2162.0" y="1631.6" font-family="'Liberation Serif','Times New Roman',serif" font-size="31.5" textLength="131.5" lengthAdjust="spacing">.433±.019</text>
<circle cx="2303.0" cy="1623.1" r="5.8" fill="#000"/>
<text x="2328.0" y="1631.6" font-family="'Liberation Serif','Times New Roman',serif" font-size="31.5" textLength="131.5" lengthAdjust="spacing">.334±.021</text>
<circle cx="2469.0" cy="1623.1" r="5.8" fill="#000"/>
<text x="2495.7" y="1631.6" font-family="'Liberation Serif','Times New Roman',serif" font-size="31.5" textLength="131.5" lengthAdjust="spacing">.391±.023</text>
<circle cx="2636.7" cy="1623.1" r="5.8" fill="#000"/>
<text x="2661.6" y="1631.6" font-family="'Liberation Serif','Times New Roman',serif" font-size="31.5" textLength="131.5" lengthAdjust="spacing">.657±.014</text>
<circle cx="2802.6" cy="1623.1" r="5.8" fill="#000"/>
<text x="2828.3" y="1631.6" font-family="'Liberation Serif','Times New Roman',serif" font-size="31.5" textLength="131.5" lengthAdjust="spacing">.573±.007</text>
<circle cx="2969.3" cy="1623.1" r="5.8" fill="#000"/>
<text x="3005.4" y="1631.6" font-family="'Liberation Serif','Times New Roman',serif" font-size="31.5" textLength="131.5" lengthAdjust="spacing">.493±.002</text>
<circle cx="3146.4" cy="1623.1" r="5.8" fill="#000"/>
<text x="3192.8" y="1631.6" font-family="'Liberation Serif','Times New Roman',serif" font-size="31.5" textLength="131.5" lengthAdjust="spacing">.383±.003</text>
<circle cx="3333.8" cy="1623.1" r="5.8" fill="#000"/>
<text x="1704.0" y="1677.7" font-family="'Liberation Serif','Times New Roman',serif" font-size="31.5" textLength="90.0" lengthAdjust="spacing">PL-DA</text>
<text x="1829.0" y="1677.7" font-family="'Liberation Serif','Times New Roman',serif" font-size="31.5" textLength="131.5" lengthAdjust="spacing">.042±.004</text>
<circle cx="1970.0" cy="1669.2" r="5.8" fill="#000"/>
<text x="1994.8" y="1677.7" font-family="'Liberation Serif','Times New Roman',serif" font-size="31.5" textLength="131.5" lengthAdjust="spacing">.166±.050</text>
<circle cx="2135.8" cy="1669.2" r="5.8" fill="#000"/>
<text x="2162.0" y="1677.7" font-family="'Liberation Serif','Times New Roman',serif" font-size="31.5" textLength="131.5" lengthAdjust="spacing">.255±.070</text>
<circle cx="2303.0" cy="1669.2" r="5.8" fill="#000"/>
<text x="2328.0" y="1677.7" font-family="'Liberation Serif','Times New Roman',serif" font-size="31.5" textLength="131.5" lengthAdjust="spacing">.309±.069</text>
<circle cx="2469.0" cy="1669.2" r="5.8" fill="#000"/>
<text x="2495.7" y="1677.7" font-family="'Liberation Serif','Times New Roman',serif" font-size="31.5" textLength="131.5" lengthAdjust="spacing">.416±.022</text>
<circle cx="2636.7" cy="1669.2" r="5.8" fill="#000"/>
<text x="2661.6" y="1677.7" font-family="'Liberation Serif','Times New Roman',serif" font-size="31.5" textLength="131.5" lengthAdjust="spacing">.690±.013</text>
<circle cx="2802.6" cy="1669.2" r="5.8" fill="#000"/>
<text x="2828.3" y="1677.7" font-family="'Liberation Serif','Times New Roman',serif" font-size="31.5" textLength="131.5" lengthAdjust="spacing">.606±.008</text>
<circle cx="2969.3" cy="1669.2" r="5.8" fill="#000"/>
<text x="3005.4" y="1677.7" font-family="'Liberation Serif','Times New Roman',serif" font-size="31.5" textLength="131.5" lengthAdjust="spacing">.495±.003</text>
<circle cx="3146.4" cy="1669.2" r="5.8" fill="#000"/>
<text x="3192.8" y="1677.7" font-family="'Liberation Serif','Times New Roman',serif" font-size="31.5" textLength="131.5" lengthAdjust="spacing">.397±.004</text>
<circle cx="3333.8" cy="1669.2" r="5.8" fill="#000"/>
<text x="1715.0" y="1723.8" font-family="'Liberation Serif','Times New Roman',serif" font-size="31.5" textLength="68.0" lengthAdjust="spacing">IPAL</text>
<text x="1829.0" y="1723.8" font-family="'Liberation Serif','Times New Roman',serif" font-size="31.5" textLength="131.5" lengthAdjust="spacing">.052±.006</text>
<circle cx="1970.0" cy="1715.3" r="5.8" fill="#000"/>
<text x="1994.8" y="1723.8" font-family="'Liberation Serif','Times New Roman',serif" font-size="31.5" textLength="131.5" lengthAdjust="spacing">.347±.015</text>
<circle cx="2135.8" cy="1715.3" r="5.8" fill="#000"/>
<text x="2162.0" y="1723.8" font-family="'Liberation Serif','Times New Roman',serif" font-size="31.5" textLength="131.5" lengthAdjust="spacing">.510±.016</text>
<circle cx="2303.0" cy="1715.3" r="5.8" fill="#000"/>
<text x="2328.0" y="1723.8" font-family="'Liberation Serif','Times New Roman',serif" font-size="31.5" textLength="131.5" lengthAdjust="spacing">.610±.020</text>
<circle cx="2469.0" cy="1715.3" r="5.8" fill="#000"/>
<text x="2495.7" y="1723.8" font-family="'Liberation Serif','Times New Roman',serif" font-size="31.5" textLength="131.5" lengthAdjust="spacing">.494±.024</text>
<circle cx="2636.7" cy="1715.3" r="5.8" fill="#000"/>
<line x1="2494.7" y1="1731.3" x2="2628.2" y2="1731.3" stroke="#222" stroke-width="1.4"/>
<text x="2661.6" y="1723.8" font-family="'Liberation Serif','Times New Roman',serif" font-size="31.5" textLength="131.5" lengthAdjust="spacing">.722±.006</text>
<circle cx="2802.6" cy="1715.3" r="5.8" fill="#000"/>
<text x="2828.3" y="1723.8" font-family="'Liberation Serif','Times New Roman',serif" font-size="31.5" textLength="131.5" lengthAdjust="spacing">.621±.017</text>
<circle cx="2969.3" cy="1715.3" r="5.8" fill="#000"/>
<text x="3005.4" y="1723.8" font-family="'Liberation Serif','Times New Roman',serif" font-size="31.5" textLength="131.5" lengthAdjust="spacing">.530±.005</text>
<line x1="3004.4" y1="1731.3" x2="3137.9" y2="1731.3" stroke="#222" stroke-width="1.4"/>
<text x="3192.8" y="1723.8" font-family="'Liberation Serif','Times New Roman',serif" font-size="31.5" textLength="131.5" lengthAdjust="spacing">.618±.007</text>
<circle cx="3333.8" cy="1715.3" r="5.8" fill="#000"/>
<text x="1705.5" y="1769.9" font-family="'Liberation Serif','Times New Roman',serif" font-size="31.5" textLength="87.0" lengthAdjust="spacing">AGGD</text>
<text x="1829.0" y="1769.9" font-family="'Liberation Serif','Times New Roman',serif" font-size="31.5" textLength="131.5" lengthAdjust="spacing">.075±.010</text>
<line x1="1828.0" y1="1777.4" x2="1961.5" y2="1777.4" stroke="#222" stroke-width="1.4"/>
<text x="1994.8" y="1769.9" font-family="'Liberation Serif','Times New Roman',serif" font-size="31.5" textLength="131.5" lengthAdjust="spacing">.423±.016</text>
<text x="2162.0" y="1769.9" font-family="'Liberation Serif','Times New Roman',serif" font-size="31.5" textLength="131.5" lengthAdjust="spacing">.568±.018</text>
<circle cx="2303.0" cy="1761.4" r="5.8" fill="#000"/>
<text x="2328.0" y="1769.9" font-family="'Liberation Serif','Times New Roman',serif" font-size="31.5" textLength="131.5" lengthAdjust="spacing">.702±.024</text>
<circle cx="2469.0" cy="1761.4" r="5.8" fill="#000"/>
<text x="2495.7" y="1769.9" font-family="'Liberation Serif','Times New Roman',serif" font-size="31.5" textLength="131.5" lengthAdjust="spacing">.477±.019</text>
<circle cx="2636.7" cy="1761.4" r="5.8" fill="#000"/>
<text x="2661.6" y="1769.9" font-family="'Liberation Serif','Times New Roman',serif" font-size="31.5" textLength="131.5" lengthAdjust="spacing">.722±.014</text>
<circle cx="2802.6" cy="1761.4" r="5.8" fill="#000"/>
<text x="2828.3" y="1769.9" font-family="'Liberation Serif','Times New Roman',serif" font-size="31.5" textLength="131.5" lengthAdjust="spacing">.593±.050</text>
<circle cx="2969.3" cy="1761.4" r="5.8" fill="#000"/>
<text x="3005.4" y="1769.9" font-family="'Liberation Serif','Times New Roman',serif" font-size="31.5" textLength="131.5" lengthAdjust="spacing">.527±.003</text>
<circle cx="3146.4" cy="1761.4" r="5.8" fill="#000"/>
<text x="3192.8" y="1769.9" font-family="'Liberation Serif','Times New Roman',serif" font-size="31.5" textLength="131.5" lengthAdjust="spacing">.616±.004</text>
<circle cx="3333.8" cy="1761.4" r="5.8" fill="#000"/>
<text x="1694.5" y="1816.0" font-family="'Liberation Serif','Times New Roman',serif" font-size="31.5" textLength="109.0" lengthAdjust="spacing">PL-CLA</text>
<text x="1829.0" y="1816.0" font-family="'Liberation Serif','Times New Roman',serif" font-size="31.5" textLength="131.5" lengthAdjust="spacing">.074±.011</text>
<text x="1994.8" y="1816.0" font-family="'Liberation Serif','Times New Roman',serif" font-size="31.5" textLength="131.5" lengthAdjust="spacing">.424±.020</text>
<line x1="1993.8" y1="1823.5" x2="2127.3" y2="1823.5" stroke="#222" stroke-width="1.4"/>
<text x="2162.0" y="1816.0" font-family="'Liberation Serif','Times New Roman',serif" font-size="31.5" textLength="131.5" lengthAdjust="spacing">.571±.015</text>
<circle cx="2303.0" cy="1807.5" r="5.8" fill="#000"/>
<line x1="2161.0" y1="1823.5" x2="2294.5" y2="1823.5" stroke="#222" stroke-width="1.4"/>
<text x="2328.0" y="1816.0" font-family="'Liberation Serif','Times New Roman',serif" font-size="31.5" textLength="131.5" lengthAdjust="spacing">.696±.021</text>
<circle cx="2469.0" cy="1807.5" r="5.8" fill="#000"/>
<text x="2495.7" y="1816.0" font-family="'Liberation Serif','Times New Roman',serif" font-size="31.5" textLength="131.5" lengthAdjust="spacing">.470±.016</text>
<circle cx="2636.7" cy="1807.5" r="5.8" fill="#000"/>
<text x="2661.6" y="1816.0" font-family="'Liberation Serif','Times New Roman',serif" font-size="31.5" textLength="131.5" lengthAdjust="spacing">.722±.012</text>
<circle cx="2802.6" cy="1807.5" r="5.8" fill="#000"/>
<text x="2828.3" y="1816.0" font-family="'Liberation Serif','Times New Roman',serif" font-size="31.5" textLength="131.5" lengthAdjust="spacing">.654±.005</text>
<circle cx="2969.3" cy="1807.5" r="5.8" fill="#000"/>
<text x="3005.4" y="1816.0" font-family="'Liberation Serif','Times New Roman',serif" font-size="31.5" textLength="131.5" lengthAdjust="spacing">.525±.003</text>
<circle cx="3146.4" cy="1807.5" r="5.8" fill="#000"/>
<text x="3192.8" y="1816.0" font-family="'Liberation Serif','Times New Roman',serif" font-size="31.5" textLength="131.5" lengthAdjust="spacing">.606±.004</text>
<circle cx="3333.8" cy="1807.5" r="5.8" fill="#000"/>
<text x="1711.0" y="1862.2" font-family="'Liberation Serif','Times New Roman',serif" font-size="31.5" textLength="76.0" lengthAdjust="spacing">SDIM</text>
<text x="1829.0" y="1862.2" font-family="'Liberation Serif','Times New Roman',serif" font-size="31.5" textLength="131.5" lengthAdjust="spacing">.073±.009</text>
<text x="1994.8" y="1862.2" font-family="'Liberation Serif','Times New Roman',serif" font-size="31.5" textLength="131.5" lengthAdjust="spacing">.423±.022</text>
<text x="2162.0" y="1862.2" font-family="'Liberation Serif','Times New Roman',serif" font-size="31.5" textLength="131.5" lengthAdjust="spacing">.568±.019</text>
<circle cx="2303.0" cy="1853.7" r="5.8" fill="#000"/>
<text x="2328.0" y="1862.2" font-family="'Liberation Serif','Times New Roman',serif" font-size="31.5" textLength="131.5" lengthAdjust="spacing">.736±.023</text>
<circle cx="2469.0" cy="1853.7" r="5.8" fill="#000"/>
<text x="2495.7" y="1862.2" font-family="'Liberation Serif','Times New Roman',serif" font-size="31.5" textLength="131.5" lengthAdjust="spacing">.475±.016</text>
<circle cx="2636.7" cy="1853.7" r="5.8" fill="#000"/>
<text x="2661.6" y="1862.2" font-family="'Liberation Serif','Times New Roman',serif" font-size="31.5" textLength="131.5" lengthAdjust="spacing">.724±.012</text>
<circle cx="2802.6" cy="1853.7" r="5.8" fill="#000"/>
<line x1="2660.6" y1="1869.7" x2="2794.1" y2="1869.7" stroke="#222" stroke-width="1.4"/>
<text x="2828.3" y="1862.2" font-family="'Liberation Serif','Times New Roman',serif" font-size="31.5" textLength="131.5" lengthAdjust="spacing">.643±.007</text>
<circle cx="2969.3" cy="1853.7" r="5.8" fill="#000"/>
<text x="3005.4" y="1862.2" font-family="'Liberation Serif','Times New Roman',serif" font-size="31.5" textLength="131.5" lengthAdjust="spacing">.524±.003</text>
<circle cx="3146.4" cy="1853.7" r="5.8" fill="#000"/>
<text x="3192.8" y="1862.2" font-family="'Liberation Serif','Times New Roman',serif" font-size="31.5" textLength="131.5" lengthAdjust="spacing">.607±.004</text>
<circle cx="3333.8" cy="1853.7" r="5.8" fill="#000"/>
<text x="1727.0" y="1908.3" font-family="'Liberation Serif','Times New Roman',serif" font-size="31.5" textLength="44.0" lengthAdjust="spacing">RC</text>
<text x="1829.0" y="1908.3" font-family="'Liberation Serif','Times New Roman',serif" font-size="31.5" textLength="131.5" lengthAdjust="spacing">.072±.009</text>
<text x="1994.8" y="1908.3" font-family="'Liberation Serif','Times New Roman',serif" font-size="31.5" textLength="131.5" lengthAdjust="spacing">.391±.012</text>
<circle cx="2135.8" cy="1899.8" r="5.8" fill="#000"/>
<text x="2162.0" y="1908.3" font-family="'Liberation Serif','Times New Roman',serif" font-size="31.5" textLength="131.5" lengthAdjust="spacing">.488±.020</text>
<circle cx="2303.0" cy="1899.8" r="5.8" fill="#000"/>
<text x="2328.0" y="1908.3" font-family="'Liberation Serif','Times New Roman',serif" font-size="31.5" textLength="131.5" lengthAdjust="spacing">.740±.026</text>
<circle cx="2469.0" cy="1899.8" r="5.8" fill="#000"/>
<text x="2495.7" y="1908.3" font-family="'Liberation Serif','Times New Roman',serif" font-size="31.5" textLength="131.5" lengthAdjust="spacing">.446±.019</text>
<circle cx="2636.7" cy="1899.8" r="5.8" fill="#000"/>
<text x="2661.6" y="1908.3" font-family="'Liberation Serif','Times New Roman',serif" font-size="31.5" textLength="131.5" lengthAdjust="spacing">.715±.007</text>
<circle cx="2802.6" cy="1899.8" r="5.8" fill="#000"/>
<text x="2828.3" y="1908.3" font-family="'Liberation Serif','Times New Roman',serif" font-size="31.5" textLength="131.5" lengthAdjust="spacing">.664±.004</text>
<circle cx="2969.3" cy="1899.8" r="5.8" fill="#000"/>
<text x="3005.4" y="1908.3" font-family="'Liberation Serif','Times New Roman',serif" font-size="31.5" font-weight="bold" textLength="131.5" lengthAdjust="spacing">.532±.004</text>
<text x="3192.8" y="1908.3" font-family="'Liberation Serif','Times New Roman',serif" font-size="31.5" textLength="131.5" lengthAdjust="spacing">.620±.003</text>
<circle cx="3333.8" cy="1899.8" r="5.8" fill="#000"/>
<text x="1687.5" y="1954.4" font-family="'Liberation Serif','Times New Roman',serif" font-size="31.5" textLength="123.0" lengthAdjust="spacing">PRODEN</text>
<text x="1829.0" y="1954.4" font-family="'Liberation Serif','Times New Roman',serif" font-size="31.5" textLength="131.5" lengthAdjust="spacing">.071±.009</text>
<text x="1994.8" y="1954.4" font-family="'Liberation Serif','Times New Roman',serif" font-size="31.5" textLength="131.5" lengthAdjust="spacing">.415±.016</text>
<circle cx="2135.8" cy="1945.9" r="5.8" fill="#000"/>
<text x="2162.0" y="1954.4" font-family="'Liberation Serif','Times New Roman',serif" font-size="31.5" textLength="131.5" lengthAdjust="spacing">.567±.025</text>
<circle cx="2303.0" cy="1945.9" r="5.8" fill="#000"/>
<text x="2328.0" y="1954.4" font-family="'Liberation Serif','Times New Roman',serif" font-size="31.5" textLength="131.5" lengthAdjust="spacing">.712±.032</text>
<circle cx="2469.0" cy="1945.9" r="5.8" fill="#000"/>
<text x="2495.7" y="1954.4" font-family="'Liberation Serif','Times New Roman',serif" font-size="31.5" textLength="131.5" lengthAdjust="spacing">.430±.019</text>
<circle cx="2636.7" cy="1945.9" r="5.8" fill="#000"/>
<text x="2661.6" y="1954.4" font-family="'Liberation Serif','Times New Roman',serif" font-size="31.5" textLength="131.5" lengthAdjust="spacing">.704±.013</text>
<circle cx="2802.6" cy="1945.9" r="5.8" fill="#000"/>
<text x="2828.3" y="1954.4" font-family="'Liberation Serif','Times New Roman',serif" font-size="31.5" textLength="131.5" lengthAdjust="spacing">.665±.017</text>
<circle cx="2969.3" cy="1945.9" r="5.8" fill="#000"/>
<text x="3005.4" y="1954.4" font-family="'Liberation Serif','Times New Roman',serif" font-size="31.5" textLength="131.5" lengthAdjust="spacing">.528±.004</text>
<circle cx="3146.4" cy="1945.9" r="5.8" fill="#000"/>
<text x="3192.8" y="1954.4" font-family="'Liberation Serif','Times New Roman',serif" font-size="31.5" textLength="131.5" lengthAdjust="spacing">.620±.003</text>
<circle cx="3333.8" cy="1945.9" r="5.8" fill="#000"/>
<text x="1708.0" y="2000.5" font-family="'Liberation Serif','Times New Roman',serif" font-size="31.5" textLength="82.0" lengthAdjust="spacing">CAVL</text>
<text x="1829.0" y="2000.5" font-family="'Liberation Serif','Times New Roman',serif" font-size="31.5" textLength="131.5" lengthAdjust="spacing">.071±.006</text>
<text x="1994.8" y="2000.5" font-family="'Liberation Serif','Times New Roman',serif" font-size="31.5" textLength="131.5" lengthAdjust="spacing">.365±.020</text>
<circle cx="2135.8" cy="1992.0" r="5.8" fill="#000"/>
<text x="2162.0" y="2000.5" font-family="'Liberation Serif','Times New Roman',serif" font-size="31.5" textLength="131.5" lengthAdjust="spacing">.488±.021</text>
<circle cx="2303.0" cy="1992.0" r="5.8" fill="#000"/>
<text x="2328.0" y="2000.5" font-family="'Liberation Serif','Times New Roman',serif" font-size="31.5" textLength="131.5" lengthAdjust="spacing">.747±.060</text>
<circle cx="2469.0" cy="1992.0" r="5.8" fill="#000"/>
<line x1="2327.0" y1="2008.0" x2="2460.5" y2="2008.0" stroke="#222" stroke-width="1.4"/>
<text x="2495.7" y="2000.5" font-family="'Liberation Serif','Times New Roman',serif" font-size="31.5" textLength="131.5" lengthAdjust="spacing">.444±.013</text>
<circle cx="2636.7" cy="1992.0" r="5.8" fill="#000"/>
<text x="2661.6" y="2000.5" font-family="'Liberation Serif','Times New Roman',serif" font-size="31.5" textLength="131.5" lengthAdjust="spacing">.695±.017</text>
<circle cx="2802.6" cy="1992.0" r="5.8" fill="#000"/>
<text x="2828.3" y="2000.5" font-family="'Liberation Serif','Times New Roman',serif" font-size="31.5" textLength="131.5" lengthAdjust="spacing">.668±.039</text>
<text x="3005.4" y="2000.5" font-family="'Liberation Serif','Times New Roman',serif" font-size="31.5" textLength="131.5" lengthAdjust="spacing">.510±.004</text>
<circle cx="3146.4" cy="1992.0" r="5.8" fill="#000"/>
<text x="3192.8" y="2000.5" font-family="'Liberation Serif','Times New Roman',serif" font-size="31.5" font-weight="bold" textLength="131.5" lengthAdjust="spacing">.628±.004</text>
<text x="1629.5" y="1675.5" font-family="'Liberation Serif','Times New Roman',serif" font-size="31.5" textLength="21.0" lengthAdjust="spacing">S</text>
<text x="1630.0" y="1952.0" font-family="'Liberation Serif','Times New Roman',serif" font-size="31.5" textLength="22.0" lengthAdjust="spacing">D</text>
<circle cx="1710" cy="2065.5" r="12.5" fill="#0070C0"/>
<text x="1740.8" y="2081.5" font-family="'Liberation Sans',Arial,sans-serif" font-size="46" font-weight="bold" fill="#0070C0" textLength="1484.5" lengthAdjust="spacingAndGlyphs">Win/tie/loss counts on the classification performance on all data sets</text>
<line x1="1735.7" y1="2102" x2="3229.5" y2="2102" stroke="#333" stroke-width="1.4"/>
<line x1="1735.7" y1="2110" x2="3229.5" y2="2110" stroke="#333" stroke-width="1.4"/>
<line x1="1735.7" y1="2146" x2="3229.5" y2="2146" stroke="#333" stroke-width="1.4"/>
<line x1="1735.7" y1="2251.6" x2="3229.5" y2="2251.6" stroke="#333" stroke-width="1.4"/>
<line x1="1735.7" y1="2259.4" x2="3229.5" y2="2259.4" stroke="#333" stroke-width="1.4"/>
<text x="1873.6" y="2133.5" font-family="'Liberation Serif','Times New Roman',serif" font-size="33" textLength="87.8" lengthAdjust="spacingAndGlyphs">CLPL</text>
<text x="2006.7" y="2133.5" font-family="'Liberation Serif','Times New Roman',serif" font-size="33" textLength="130.0" lengthAdjust="spacingAndGlyphs">PL-SVM</text>
<text x="2180.0" y="2133.5" font-family="'Liberation Serif','Times New Roman',serif" font-size="33" textLength="130.0" lengthAdjust="spacingAndGlyphs">PL-KNN</text>
<text x="2353.7" y="2133.5" font-family="'Liberation Serif','Times New Roman',serif" font-size="33" textLength="103.7" lengthAdjust="spacingAndGlyphs">PL-DA</text>
<text x="2508.5" y="2133.5" font-family="'Liberation Serif','Times New Roman',serif" font-size="33" textLength="76.0" lengthAdjust="spacingAndGlyphs">IPAL</text>
<text x="2639.9" y="2133.5" font-family="'Liberation Serif','Times New Roman',serif" font-size="33" textLength="101.6" lengthAdjust="spacingAndGlyphs">AGGD</text>
<text x="2788.4" y="2133.5" font-family="'Liberation Serif','Times New Roman',serif" font-size="33" textLength="123.6" lengthAdjust="spacingAndGlyphs">PL-CLA</text>
<text x="2965.4" y="2133.5" font-family="'Liberation Serif','Times New Roman',serif" font-size="33" textLength="89.6" lengthAdjust="spacingAndGlyphs">SDIM</text>
<text x="3109.5" y="2133.5" font-family="'Liberation Serif','Times New Roman',serif" font-size="33" textLength="102.0" lengthAdjust="spacingAndGlyphs">D-PLL</text>
<text x="1775.0" y="2171.0" font-family="'Liberation Serif','Times New Roman',serif" font-size="33" textLength="36.0" lengthAdjust="spacingAndGlyphs">(I)</text>
<text x="1872.4" y="2171.0" font-family="'Liberation Serif','Times New Roman',serif" font-size="33" textLength="90.2" lengthAdjust="spacingAndGlyphs">44/8/0</text>
<text x="2026.6" y="2171.0" font-family="'Liberation Serif','Times New Roman',serif" font-size="33" textLength="90.2" lengthAdjust="spacingAndGlyphs">51/1/0</text>
<text x="2199.9" y="2171.0" font-family="'Liberation Serif','Times New Roman',serif" font-size="33" textLength="90.2" lengthAdjust="spacingAndGlyphs">52/0/0</text>
<text x="2360.4" y="2171.0" font-family="'Liberation Serif','Times New Roman',serif" font-size="33" textLength="90.2" lengthAdjust="spacingAndGlyphs">47/5/0</text>
<text x="2501.4" y="2171.0" font-family="'Liberation Serif','Times New Roman',serif" font-size="33" textLength="90.2" lengthAdjust="spacingAndGlyphs">46/6/0</text>
<text x="2636.8" y="2171.0" font-family="'Liberation Serif','Times New Roman',serif" font-size="33" textLength="107.7" lengthAdjust="spacingAndGlyphs">23/29/0</text>
<text x="2796.3" y="2171.0" font-family="'Liberation Serif','Times New Roman',serif" font-size="33" textLength="107.7" lengthAdjust="spacingAndGlyphs">38/14/0</text>
<text x="2956.3" y="2171.0" font-family="'Liberation Serif','Times New Roman',serif" font-size="33" textLength="107.7" lengthAdjust="spacingAndGlyphs">30/22/0</text>
<line x1="3152.5" y1="2161" x2="3169.5" y2="2161" stroke="#000" stroke-width="1.6"/>
<text x="1766.0" y="2205.0" font-family="'Liberation Serif','Times New Roman',serif" font-size="33" textLength="54.0" lengthAdjust="spacingAndGlyphs">(II)</text>
<text x="1882.5" y="2205.0" font-family="'Liberation Serif','Times New Roman',serif" font-size="33" textLength="70.0" lengthAdjust="spacingAndGlyphs">8/1/0</text>
<text x="2036.7" y="2205.0" font-family="'Liberation Serif','Times New Roman',serif" font-size="33" textLength="70.0" lengthAdjust="spacingAndGlyphs">9/0/0</text>
<text x="2210.0" y="2205.0" font-family="'Liberation Serif','Times New Roman',serif" font-size="33" textLength="70.0" lengthAdjust="spacingAndGlyphs">9/0/0</text>
<text x="2370.5" y="2205.0" font-family="'Liberation Serif','Times New Roman',serif" font-size="33" textLength="70.0" lengthAdjust="spacingAndGlyphs">9/0/0</text>
<text x="2511.5" y="2205.0" font-family="'Liberation Serif','Times New Roman',serif" font-size="33" textLength="70.0" lengthAdjust="spacingAndGlyphs">8/1/0</text>
<text x="2655.7" y="2205.0" font-family="'Liberation Serif','Times New Roman',serif" font-size="33" textLength="70.0" lengthAdjust="spacingAndGlyphs">7/2/0</text>
<text x="2815.2" y="2205.0" font-family="'Liberation Serif','Times New Roman',serif" font-size="33" textLength="70.0" lengthAdjust="spacingAndGlyphs">7/2/0</text>
<text x="2975.2" y="2205.0" font-family="'Liberation Serif','Times New Roman',serif" font-size="33" textLength="70.0" lengthAdjust="spacingAndGlyphs">7/2/0</text>
<text x="3115.4" y="2205.0" font-family="'Liberation Serif','Times New Roman',serif" font-size="33" textLength="90.2" lengthAdjust="spacingAndGlyphs">21/6/0</text>
<text x="1757.0" y="2239.0" font-family="'Liberation Serif','Times New Roman',serif" font-size="33" textLength="72.0" lengthAdjust="spacingAndGlyphs">Total</text>
<text x="1872.4" y="2239.0" font-family="'Liberation Serif','Times New Roman',serif" font-size="33" textLength="90.2" lengthAdjust="spacingAndGlyphs">52/9/0</text>
<text x="2026.6" y="2239.0" font-family="'Liberation Serif','Times New Roman',serif" font-size="33" textLength="90.2" lengthAdjust="spacingAndGlyphs">60/1/0</text>
<text x="2199.9" y="2239.0" font-family="'Liberation Serif','Times New Roman',serif" font-size="33" textLength="90.2" lengthAdjust="spacingAndGlyphs">61/0/0</text>
<text x="2360.4" y="2239.0" font-family="'Liberation Serif','Times New Roman',serif" font-size="33" textLength="90.2" lengthAdjust="spacingAndGlyphs">56/5/0</text>
<text x="2501.4" y="2239.0" font-family="'Liberation Serif','Times New Roman',serif" font-size="33" textLength="90.2" lengthAdjust="spacingAndGlyphs">54/7/0</text>
<text x="2636.8" y="2239.0" font-family="'Liberation Serif','Times New Roman',serif" font-size="33" textLength="107.7" lengthAdjust="spacingAndGlyphs">30/31/0</text>
<text x="2796.3" y="2239.0" font-family="'Liberation Serif','Times New Roman',serif" font-size="33" textLength="107.7" lengthAdjust="spacingAndGlyphs">45/16/0</text>
<text x="2956.3" y="2239.0" font-family="'Liberation Serif','Times New Roman',serif" font-size="33" textLength="107.7" lengthAdjust="spacingAndGlyphs">37/24/0</text>
<text x="3115.4" y="2239.0" font-family="'Liberation Serif','Times New Roman',serif" font-size="33" textLength="90.2" lengthAdjust="spacingAndGlyphs">21/6/0</text>
</svg>
</body></html>
